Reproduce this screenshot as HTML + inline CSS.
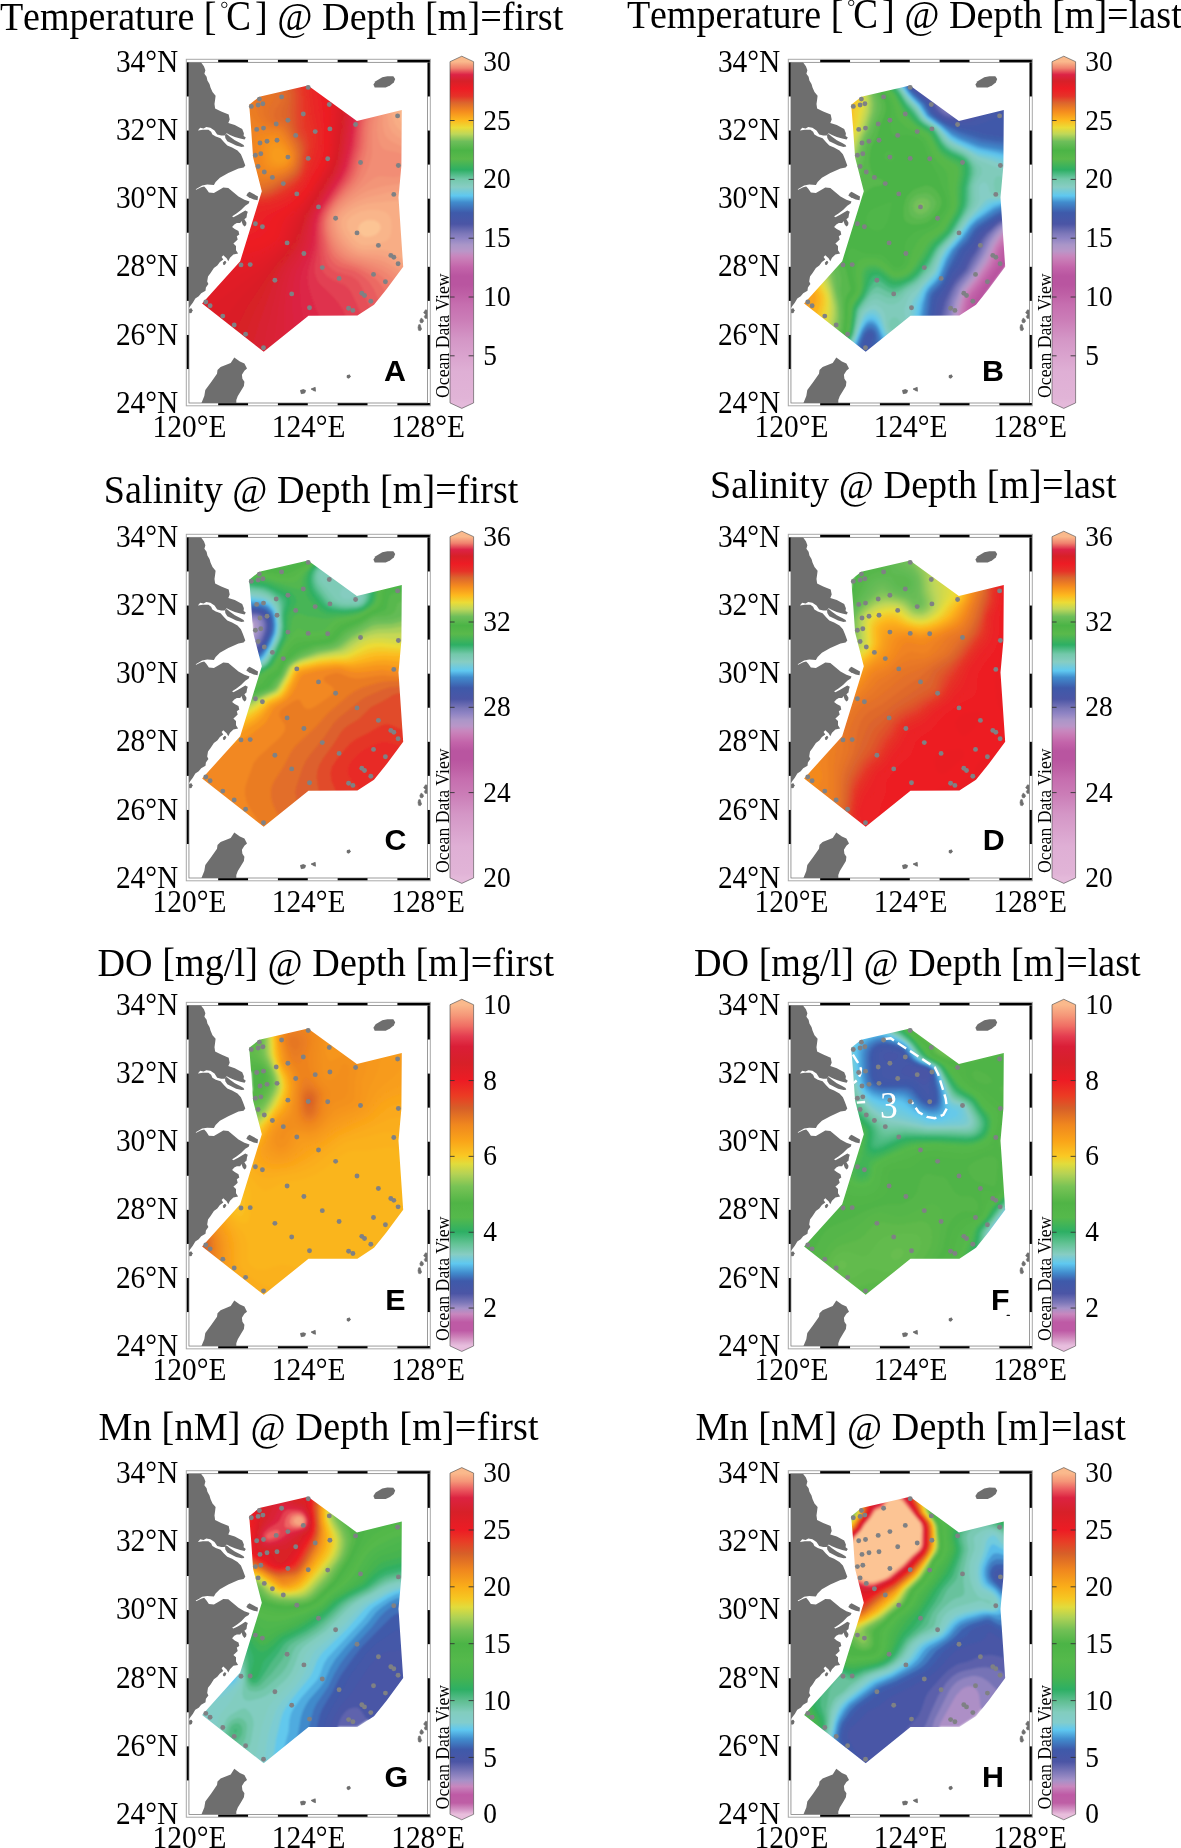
<!DOCTYPE html>
<html><head><meta charset="utf-8"><title>Figure</title>
<style>html,body{margin:0;padding:0;background:#fff}svg{display:block;will-change:transform}text{white-space:pre}</style></head><body>
<svg width="1181" height="1848" viewBox="0 0 1181 1848">
<defs>
<clipPath id="mapclip"><rect x="188.95" y="62.3" width="238.60" height="340.70"/></clipPath>
<clipPath id="polyclip"><polygon points="249.2,104.8 259.3,96.7 308,85.4 356.9,121 401.8,110 401.4,165.5 398.5,197.6 403.2,266.7 386.5,289.3 374,304.8 357.4,315.6 308.5,315.7 263.7,351.8 202.1,303.5 240.2,261.2 261.8,191.3 253.1,157.6 251,127.1"/></clipPath>
<filter id="soft" x="-5%" y="-5%" width="110%" height="110%"><feGaussianBlur stdDeviation="0.9"/></filter>
<linearGradient id="glin" gradientUnits="userSpaceOnUse" x1="0" y1="402.9" x2="0" y2="61.7">
<stop offset="0.0000" stop-color="#e4b9da"/>
<stop offset="0.0130" stop-color="#e1b4d7"/>
<stop offset="0.0920" stop-color="#dfafd5"/>
<stop offset="0.1870" stop-color="#d496c6"/>
<stop offset="0.2440" stop-color="#cb7db7"/>
<stop offset="0.2890" stop-color="#c66eaf"/>
<stop offset="0.3200" stop-color="#be5fa5"/>
<stop offset="0.3460" stop-color="#b955a0"/>
<stop offset="0.3720" stop-color="#b955a0"/>
<stop offset="0.3970" stop-color="#c364aa"/>
<stop offset="0.4160" stop-color="#c878b4"/>
<stop offset="0.4310" stop-color="#c887be"/>
<stop offset="0.4450" stop-color="#b996c8"/>
<stop offset="0.4630" stop-color="#aa96c8"/>
<stop offset="0.4840" stop-color="#8c82c3"/>
<stop offset="0.4960" stop-color="#7d78b9"/>
<stop offset="0.5240" stop-color="#4b55a5"/>
<stop offset="0.5570" stop-color="#3e5aaa"/>
<stop offset="0.5880" stop-color="#418ccd"/>
<stop offset="0.6070" stop-color="#5fc8f0"/>
<stop offset="0.6330" stop-color="#87cdc3"/>
<stop offset="0.6560" stop-color="#73c8aa"/>
<stop offset="0.6830" stop-color="#2daf64"/>
<stop offset="0.7150" stop-color="#5ab94b"/>
<stop offset="0.7400" stop-color="#4bb446"/>
<stop offset="0.7660" stop-color="#6ebe5a"/>
<stop offset="0.7880" stop-color="#bed75a"/>
<stop offset="0.8070" stop-color="#ebdc37"/>
<stop offset="0.8280" stop-color="#fdb91e"/>
<stop offset="0.8540" stop-color="#f58c1e"/>
<stop offset="0.8800" stop-color="#dc642d"/>
<stop offset="0.8990" stop-color="#e63228"/>
<stop offset="0.9210" stop-color="#ed1c24"/>
<stop offset="0.9430" stop-color="#d72028"/>
<stop offset="0.9620" stop-color="#dc2346"/>
<stop offset="0.9810" stop-color="#f0826e"/>
<stop offset="1.0000" stop-color="#fab98c"/>
</linearGradient>
<linearGradient id="gdo" gradientUnits="userSpaceOnUse" x1="0" y1="402.9" x2="0" y2="61.7">
<stop offset="0.0000" stop-color="#e8bede"/>
<stop offset="0.0060" stop-color="#e1b4d7"/>
<stop offset="0.0271" stop-color="#cd82b9"/>
<stop offset="0.0452" stop-color="#be5aa5"/>
<stop offset="0.0694" stop-color="#be5aa5"/>
<stop offset="0.0935" stop-color="#c887be"/>
<stop offset="0.1104" stop-color="#a591c8"/>
<stop offset="0.1267" stop-color="#7d78b9"/>
<stop offset="0.1538" stop-color="#4b55a5"/>
<stop offset="0.1900" stop-color="#3e5aaa"/>
<stop offset="0.2141" stop-color="#418ccd"/>
<stop offset="0.2413" stop-color="#5fc8f0"/>
<stop offset="0.2684" stop-color="#87cdc3"/>
<stop offset="0.2986" stop-color="#64c396"/>
<stop offset="0.3347" stop-color="#2daf64"/>
<stop offset="0.3770" stop-color="#55b94b"/>
<stop offset="0.4192" stop-color="#50b446"/>
<stop offset="0.4674" stop-color="#78c355"/>
<stop offset="0.5036" stop-color="#b4d255"/>
<stop offset="0.5338" stop-color="#e1dc3c"/>
<stop offset="0.5567" stop-color="#fac823"/>
<stop offset="0.6001" stop-color="#faa519"/>
<stop offset="0.6484" stop-color="#f0871e"/>
<stop offset="0.6966" stop-color="#d75f28"/>
<stop offset="0.7328" stop-color="#eb3c23"/>
<stop offset="0.7780" stop-color="#ed1c24"/>
<stop offset="0.8293" stop-color="#d72028"/>
<stop offset="0.8776" stop-color="#da1e37"/>
<stop offset="0.9077" stop-color="#e43c50"/>
<stop offset="0.9379" stop-color="#f06e64"/>
<stop offset="0.9680" stop-color="#f59678"/>
<stop offset="1.0000" stop-color="#fab98c"/>
</linearGradient>
<linearGradient id="gmn" gradientUnits="userSpaceOnUse" x1="0" y1="402.9" x2="0" y2="61.7">
<stop offset="0.0000" stop-color="#e8bedc"/>
<stop offset="0.0151" stop-color="#d291c3"/>
<stop offset="0.0332" stop-color="#be5fa5"/>
<stop offset="0.0574" stop-color="#be5aa5"/>
<stop offset="0.0816" stop-color="#c887be"/>
<stop offset="0.0997" stop-color="#a591c8"/>
<stop offset="0.1239" stop-color="#7d78b9"/>
<stop offset="0.1541" stop-color="#4b55a5"/>
<stop offset="0.1903" stop-color="#3e5aaa"/>
<stop offset="0.2205" stop-color="#418ccd"/>
<stop offset="0.2477" stop-color="#5fc8f0"/>
<stop offset="0.2689" stop-color="#82cdcd"/>
<stop offset="0.2991" stop-color="#82cdbe"/>
<stop offset="0.3323" stop-color="#5fbe91"/>
<stop offset="0.3656" stop-color="#2daf64"/>
<stop offset="0.4018" stop-color="#46b450"/>
<stop offset="0.4502" stop-color="#55b94b"/>
<stop offset="0.4997" stop-color="#4bb446"/>
<stop offset="0.5408" stop-color="#73c055"/>
<stop offset="0.5770" stop-color="#afd255"/>
<stop offset="0.6073" stop-color="#e1dc3c"/>
<stop offset="0.6314" stop-color="#f5c823"/>
<stop offset="0.6647" stop-color="#faaf19"/>
<stop offset="0.7160" stop-color="#f0871e"/>
<stop offset="0.7644" stop-color="#d75f28"/>
<stop offset="0.8006" stop-color="#e83c26"/>
<stop offset="0.8326" stop-color="#ed1c24"/>
<stop offset="0.8852" stop-color="#d72028"/>
<stop offset="0.9275" stop-color="#dc2341"/>
<stop offset="0.9517" stop-color="#eb5a5f"/>
<stop offset="0.9758" stop-color="#f59678"/>
<stop offset="1.0000" stop-color="#fab98c"/>
</linearGradient>
<g id="land" fill="#6e6e6e" clip-path="url(#mapclip)">
<polygon points="186,60 200.8,60 200.8,62.1 203.9,66.2 205.4,70.2 204.4,73.8 206.6,76.8 207.4,80.4 209.5,84 210.5,87.5 212.5,92.1 215.6,95.7 215.1,99.7 214.5,104.1 215.1,108.5 221.2,111.5 228.7,114.6 229.7,119.6 228.3,123 234.8,125.1 242.2,129.1 243.9,133.2 243.6,135.9 245.8,137.6 244.6,139.6 240.2,138.6 234.8,136.9 230,134.9 226.7,133.2 224.6,135.6 221.2,135.6 217.2,134.6 214.5,130.5 210.4,127.8 206.3,127.1 203.6,128.5 200.2,127.8 197.9,130.5 202.9,129.8 208.4,129.8 211.1,131.8 212.4,134.6 215.8,136.6 220.6,138.3 223.9,142 227.3,145.4 232.1,147.4 237.5,150.5 240.9,154.2 242.9,158.9 245.3,165.4 243.6,167.6 238.5,168.5 228.3,173.1 219.9,177.8 215.6,182 213.9,185 207.2,184.6 202.1,185.4 198.7,187.5 195.7,189.2 196.2,189.8 201.2,187.3 204.2,186.4 206.3,188.8 208.9,192.6 213.9,193 218.2,190.5 223.3,187.5 228.3,187.9 233.4,192.2 238.5,196.4 244.4,199.8 249.5,201.5 248.7,203.6 245.3,205.7 241,210 236.8,213.3 233.4,215.5 232.1,216.3 233.4,217.2 237.7,215 241.9,212.5 245.3,210.4 247.8,211.7 247,214.2 246.5,217.6 244.4,219.3 246.5,222.7 246.1,225.2 244.4,226.5 242.7,224.4 241.5,221 240.2,223.1 236.8,223.1 234.3,224.4 232.1,226.9 234.7,229 238.5,231.1 239.3,234.5 236.8,236.2 237.7,239.6 235.1,242.1 233.4,243.5 236,245.9 236,250.2 238.1,253.5 233.4,254.4 230,257.8 228.3,261.2 226.6,258.2 223.3,255.2 221.6,256.9 223.3,259.5 219.9,262 217.3,265.4 213.9,267.9 210.6,273 208,276.4 207.2,281.5 208.4,284 205.9,287.4 205.5,290.8 201.2,293.3 198.7,296.3 195.3,298.4 192.8,302.7 189,307.7 186,310"/>
<polygon points="225,134.8 226.7,134 230,136.8 234.8,140.2 240.2,142.9 243.6,144.9 244.3,146.6 241.6,146.9 236.1,145.6 232.1,143.6 227.3,141.2 225.3,138.1"/>
<polygon points="249.5,191.8 258,196.4 257.5,200.2 253.7,199.4 248.7,197.3 246.3,195.6 247.8,193"/>
<polygon points="223.3,262.5 225,261 225.9,262.3 224.8,264.6 223.5,264.4"/>
<polygon points="189.3,309.5 191.2,308.6 192.2,310.3 191.4,312.6 189.6,312.9"/>
<polygon points="200.2,406 204.3,396.1 205.3,390 211.4,381.8 217,373.7 217.5,370.1 220.6,367.1 230.7,363 234.3,357.4 239.9,361.5 244.4,363.5 246,366.6 247,368.6 244.4,370.7 241.9,374.7 242.4,378.8 244.4,381.8 243.9,385.9 240.9,391 237.8,396.1 236.3,400.1 236.3,406"/>
<polygon points="373.4,84.6 375.6,81.2 382.3,77.2 387.4,76.2 393.3,76.3 395.2,79.1 393.8,82.5 390,85.5 385.7,87.6 374.7,87.6"/>
<polygon points="300.5,390.3 303.5,389.6 305.6,390.4 304.8,393 301.2,393.7"/>
<polygon points="311,389 315.2,387.3 315.5,391.3 313.5,390.6"/>
<polygon points="347,375.6 349.5,374.8 350.5,376.8 348.8,378.3 347,377.6"/>
<polygon points="425.5,309.8 428.5,310.5 428.5,318.6 425,318.3 424.3,316.5 425.6,314.5 423.6,312.8" stroke="#6e6e6e" stroke-width="0.6"/>
<polygon points="421.2,318 423,319.5 423.6,321.3 422.2,322.9 420.3,322.5 419.8,320.5" stroke="#6e6e6e" stroke-width="0.6"/>
<polygon points="418.6,324.8 420.2,324.6 421,327.5 421.7,329 420.3,330.8 418.5,330.3 418,327.5" stroke="#6e6e6e" stroke-width="0.6"/>
<polygon points="300.5,390.3 303.5,389.6 305.6,390.4 304.8,393 301.2,393.7" stroke="#6e6e6e" stroke-width="0.6"/>
<polygon points="311,389 315.2,387.3 315.5,391.3 313.5,390.6" stroke="#6e6e6e" stroke-width="0.6"/>
<polygon points="347,375.6 349.5,374.8 350.5,376.8 348.8,378.3 347,377.6" stroke="#6e6e6e" stroke-width="0.6"/>
<polygon points="223.3,262.5 225,261 225.9,262.3 224.8,264.6 223.5,264.4" stroke="#6e6e6e" stroke-width="0.6"/>
<polygon points="189.3,309.5 191.2,308.6 192.2,310.3 191.4,312.6 189.6,312.9" stroke="#6e6e6e" stroke-width="0.6"/>
</g>
<g id="dots" fill="#7f8184"><circle cx="308.2" cy="87.4" r="2.45"/><circle cx="281.6" cy="96.9" r="2.45"/><circle cx="259.4" cy="99.1" r="2.45"/><circle cx="262.9" cy="103.7" r="2.45"/><circle cx="258.1" cy="105.0" r="2.45"/><circle cx="251.3" cy="106.4" r="2.45"/><circle cx="329.3" cy="104.5" r="2.45"/><circle cx="397.6" cy="115.9" r="2.45"/><circle cx="303.3" cy="114.0" r="2.45"/><circle cx="287.9" cy="120.2" r="2.45"/><circle cx="276.2" cy="124.0" r="2.45"/><circle cx="355.6" cy="124.5" r="2.45"/><circle cx="263.5" cy="128.1" r="2.45"/><circle cx="256.7" cy="129.4" r="2.45"/><circle cx="329.9" cy="128.9" r="2.45"/><circle cx="315.2" cy="131.6" r="2.45"/><circle cx="295.7" cy="135.4" r="2.45"/><circle cx="277.0" cy="140.3" r="2.45"/><circle cx="267.0" cy="141.3" r="2.45"/><circle cx="260.0" cy="143.0" r="2.45"/><circle cx="287.9" cy="157.1" r="2.45"/><circle cx="308.2" cy="158.4" r="2.45"/><circle cx="327.7" cy="158.7" r="2.45"/><circle cx="260.8" cy="153.8" r="2.45"/><circle cx="255.4" cy="155.2" r="2.45"/><circle cx="360.5" cy="162.5" r="2.45"/><circle cx="398.4" cy="165.5" r="2.45"/><circle cx="258.1" cy="166.5" r="2.45"/><circle cx="264.3" cy="172.0" r="2.45"/><circle cx="272.4" cy="177.4" r="2.45"/><circle cx="283.3" cy="183.6" r="2.45"/><circle cx="296.8" cy="193.9" r="2.45"/><circle cx="393.8" cy="194.4" r="2.45"/><circle cx="318.5" cy="206.9" r="2.45"/><circle cx="335.6" cy="218.3" r="2.45"/><circle cx="255.4" cy="223.7" r="2.45"/><circle cx="262.4" cy="226.7" r="2.45"/><circle cx="357.0" cy="232.9" r="2.45"/><circle cx="287.1" cy="242.9" r="2.45"/><circle cx="378.4" cy="245.4" r="2.45"/><circle cx="303.9" cy="253.5" r="2.45"/><circle cx="390.8" cy="255.4" r="2.45"/><circle cx="393.8" cy="257.3" r="2.45"/><circle cx="398.1" cy="263.8" r="2.45"/><circle cx="241.0" cy="264.9" r="2.45"/><circle cx="250.2" cy="264.6" r="2.45"/><circle cx="322.3" cy="267.6" r="2.45"/><circle cx="373.5" cy="274.4" r="2.45"/><circle cx="339.1" cy="278.4" r="2.45"/><circle cx="274.9" cy="280.3" r="2.45"/><circle cx="385.4" cy="281.7" r="2.45"/><circle cx="291.7" cy="293.9" r="2.45"/><circle cx="361.8" cy="293.3" r="2.45"/><circle cx="364.5" cy="295.5" r="2.45"/><circle cx="370.8" cy="301.2" r="2.45"/><circle cx="205.8" cy="302.0" r="2.45"/><circle cx="210.1" cy="305.8" r="2.45"/><circle cx="309.5" cy="307.7" r="2.45"/><circle cx="348.6" cy="308.2" r="2.45"/><circle cx="352.9" cy="310.4" r="2.45"/><circle cx="222.8" cy="316.1" r="2.45"/><circle cx="234.2" cy="325.0" r="2.45"/><circle cx="245.6" cy="334.3" r="2.45"/><circle cx="263.5" cy="347.8" r="2.45"/></g>
<g id="frame">
<path d="M186.3,59.3H430.3V405.8H186.3ZM188.95,62.3V403.0H427.55V62.3Z" fill="#fff" fill-rule="evenodd"/>
<rect x="218.17" y="59.50" width="29.87" height="2.80" fill="#000"/>
<rect x="218.17" y="403.00" width="29.87" height="2.60" fill="#000"/>
<rect x="277.91" y="59.50" width="29.87" height="2.80" fill="#000"/>
<rect x="277.91" y="403.00" width="29.87" height="2.60" fill="#000"/>
<rect x="337.65" y="59.50" width="29.87" height="2.80" fill="#000"/>
<rect x="337.65" y="403.00" width="29.87" height="2.60" fill="#000"/>
<rect x="397.39" y="59.50" width="32.91" height="2.80" fill="#000"/>
<rect x="397.39" y="403.00" width="32.91" height="2.60" fill="#000"/>
<rect x="186.50" y="62.30" width="2.45" height="34.17" fill="#000"/>
<rect x="427.55" y="62.30" width="2.55" height="34.17" fill="#000"/>
<rect x="186.50" y="130.54" width="2.45" height="34.07" fill="#000"/>
<rect x="427.55" y="130.54" width="2.55" height="34.07" fill="#000"/>
<rect x="186.50" y="198.68" width="2.45" height="34.07" fill="#000"/>
<rect x="427.55" y="198.68" width="2.55" height="34.07" fill="#000"/>
<rect x="186.50" y="266.82" width="2.45" height="34.07" fill="#000"/>
<rect x="427.55" y="266.82" width="2.55" height="34.07" fill="#000"/>
<rect x="186.50" y="334.96" width="2.45" height="34.07" fill="#000"/>
<rect x="427.55" y="334.96" width="2.55" height="34.07" fill="#000"/>
<rect x="186.3" y="59.3" width="244.00" height="346.50" fill="none" stroke="#a8a8a8" stroke-width="1.0"/>
<rect x="188.95" y="62.3" width="238.60" height="340.70" fill="none" stroke="#707070" stroke-width="0.7"/>
</g>
<g id="axis" font-family="Liberation Serif, serif" font-size="29.4" fill="#000">
<text transform="translate(178.30,71.50) scale(1,1.065)" text-anchor="end">34°N</text>
<text transform="translate(178.30,139.76) scale(1,1.065)" text-anchor="end">32°N</text>
<text transform="translate(178.30,208.02) scale(1,1.065)" text-anchor="end">30°N</text>
<text transform="translate(178.30,276.28) scale(1,1.065)" text-anchor="end">28°N</text>
<text transform="translate(178.30,344.54) scale(1,1.065)" text-anchor="end">26°N</text>
<text transform="translate(178.30,412.80) scale(1,1.065)" text-anchor="end">24°N</text>
<text transform="translate(189.45,436.80) scale(1,1.065)" text-anchor="middle">120°E</text>
<text transform="translate(308.60,436.80) scale(1,1.065)" text-anchor="middle">124°E</text>
<text transform="translate(428.10,436.80) scale(1,1.065)" text-anchor="middle">128°E</text>
<text transform="translate(449.0,398.0) rotate(-90) scale(0.985,1.04)" font-size="18">Ocean Data View</text>
</g>
</defs>
<rect width="1181" height="1848" fill="#fff"/>
<g transform="translate(0,0)">
<g clip-path="url(#polyclip)"><g filter="url(#soft)">
<path d="M249.2,104.8 L259.3,96.7 L308,85.4 L356.9,121 L401.8,110 L401.4,165.5 L398.5,197.6 L403.2,266.7 L386.5,289.3 L374,304.8 L357.4,315.6 L308.5,315.7 L263.7,351.8 L202.1,303.5 L240.2,261.2 L261.8,191.3 L253.1,157.6 L251,127.1Z" fill="#f89b1e"/>
<path d="M194,78 412,78 412,360 194,360ZM276,147.9 274,148.9 272.2,152 272,156 272.6,158 273.7,160 276,161.7 278,162.3 282,162 284.9,160 285.9,158 285,154 282,150.2 280,148.8 278,148Z" fill="#f7971e"/>
<path d="M194,78 412,78 412,360 194,360ZM272,143.8 269.7,146 268.2,150 268.2,156 270,161.3 272.8,164 276,165 280,165 284,163.7 286.2,162 287.6,160 288.1,158 288,155.9 286,151.2 282,146.5 278,143.7 274,143.1Z" fill="#f6921e"/>
<path d="M194,78 412,78 412,360 194,360ZM270,139.7 266.9,142 264.8,146 264.7,154 266.3,162 268,164.7 272,167.1 278,167.4 284,165.7 288,162.5 289.2,160 289.6,156 288,151.2 284,145.4 278,140 274,138.8Z" fill="#f58d1e"/>
<path d="M209.1,78 412,78 412,360 194,360 194,105.5 198.8,102 204,95.2 207.1,88ZM270,135.8 264,138.3 262,140.2 260.5,144 260.6,150 263.2,164 265.9,168 270,169.7 276,169.8 282,168.3 286.4,166 289.9,162 291,158 290,152 286,145 280,138 276,135.7Z" fill="#f3881f"/>
<path d="M222,78 412,78 412,360 194,360 194,121.8 200.1,120 209,116 214,112.4 217.5,108 220,102 221.2,96ZM262,133.9 258,135.4 256,137.2 254.6,140 254.4,142 254.9,146 258,156 258.9,164 260.3,168 261.8,170 264,171.5 266,172.2 270,172.6 278,171.3 286,168 290.2,164 291.9,160 292.2,158 291.9,154 290.6,150 286,142.3 282,137 278,133.5 276,132.9 272,132.7Z" fill="#f08421"/>
<path d="M233.2,78 412,78 412,360 194,360 194,134 210,132.1 222,131.6 230,132.1 236,134.3 238,135.8 242,140.3 251.2,154 252.8,158 254.3,166 256,170 258,172.6 262,175.1 266,175.6 270,175.1 278,173 284,170.7 288,168.2 290,166.2 292,163.1 293,160 293.1,154 291.1,148 284,136.6 280,132.1 276,130.6 264,129.8 250,126.9 246,125.4 241.9,122 238.9,116 236.4,106 234.9,96Z" fill="#ed8023"/>
<path d="M243,78 412,78 412,360 194,360 194,143.9 206,143.6 216,144.3 224,146 232,149.2 238,152.9 242,156.6 245.9,162 250.2,170 253.3,174 258,177.5 262,178.7 266,178.4 270,177.4 280,173.9 286,171.1 290,168 291.6,166 294.1,160 294.2,154 292.5,148 286,136.7 282,131.4 278,129.1 270,128 263.3,126 256.9,122 253.3,118 250.3,112 246.2,100Z" fill="#eb7c24"/>
<path d="M252.1,78 412,78 412,360 194,360 194,152.3 204,152.4 212,153.2 220,154.9 226,157 232,159.9 236,162.7 247.5,174 252.3,178 258,180.9 262,181.6 266,180.9 270,179.6 286.9,172 292,167.4 294,164 295.1,160 295.3,154 293.9,148 290.8,142 284,131.1 280,127.9 270.9,126 266.4,124 261.6,120 259,116 257.5,112 254.1,98Z" fill="#e87726"/>
<path d="M260.8,78 412,78 412,360 194,360 194,159.8 210,160.7 218,162.3 224,164.2 234,169.2 249.5,180 254,182.3 260,184 264,183.7 268,182.5 286.1,174 292,169.2 294.2,166 295.7,162 296.4,154 295.1,148 292.3,142 286,131.1 282,127 272,124.1 268.6,122 266.6,120 264.3,116 263.1,112 262.6,106 263.1,88Z" fill="#e57327"/>
<path d="M268.7,78 412,78 412,360 194,360 194,166.6 208,167.1 220,169.4 230,173 251.6,184 260,186.2 264,185.8 270,183.6 286,175.5 290,172.8 292.8,170 296,164.5 297.4,158 296.9,150 294.8,144 285.7,128 282,124.8 273.3,122 271.1,120 269,116 268.5,112 269.2,108 270.9,104 274.5,98 275.1,94 274,90Z" fill="#e36f29"/>
<path d="M275,78 412,78 412,360 194,360 194,172.8 208,173.1 220,175 232,178.7 250.3,186 260,188.1 266,187.2 272,184.4 288,175.7 292,172.6 294,170.4 296.5,166 298.2,160 298.4,152 297,146 286,125.4 282,122.2 276.4,120 274.7,118 274,116 274,113.8 275.2,110 280.5,102 282,98.5 282.3,96 280.7,90Z" fill="#e06a2b"/>
<path d="M279.8,78 412,78 412,360 194,360 194,178.5 206,178.4 218,179.5 228,181.6 252,188.6 258,189.8 262,189.9 266,188.9 272,186.2 288,177.2 294,172.2 296.8,168 298.8,162 299.5,156 299.3,150 297.6,144 288,124.7 281.2,116 281.2,112 285.2,102 286.1,96 284.8,90Z" fill="#dd662c"/>
<path d="M283.7,78 412,78 412,360 194,360 194,184 208,183.5 220,184.3 254,190.9 262,191.4 266,190.6 272,187.9 289.1,178 294,174 297,170 299.4,164 300.6,156 300.5,150 299.1,144 292.9,132 286.8,116 286.4,112 288.5,102 288.9,96 287.9,90Z" fill="#dd602d"/>
<path d="M287,78 412,78 412,360 194,360 194,189.3 206,188.3 218,188.3 230,189.3 256,192.8 264,192.6 270,190.6 274.9,188 290,179 295.6,174 298.2,170 300.4,164 301.6,156 301.7,150 301.1,146 299.8,142 293.7,130 290.6,118 290,112 291.5,96 290.1,88Z" fill="#de592c"/>
<path d="M290,78 412,78 412,360 194,360 194,194.4 208,192.8 220,192.3 258,194.4 264,194.1 270,192.2 274.4,190 290,180.6 296,175.5 298.5,172 301,166 302.5,158 303,150 302.6,146 301.4,142 296.1,132 294.1,124 293,114 293.8,96 293,90Z" fill="#e0522b"/>
<path d="M292.7,78 412,78 412,360 194,360 194,199.4 208,197.3 220,196.1 236,195.6 260,195.7 266,195 272,192.9 278,189.6 292,180.9 297.2,176 300,171.7 302.1,166 304,154 304.3,148 303.2,142 298,132 296.5,126 295.6,114 296.1,96Z" fill="#e14a2a"/>
<path d="M295.3,78 412,78 412,360 194,360 194,204.4 210,201.4 224,199.5 244,197.7 262,197 268,195.9 276,192.5 290,184 294,181.2 298,177.1 301.2,172 303.3,166 305.8,148 305.5,144 304.4,140 300.3,132 299.1,128 298.3,118 298.3,96Z" fill="#e3432a"/>
<path d="M297.8,78 412,78 412,360 194,360 194,209.4 212,205.4 230.3,202 248,199.3 264,198.1 270,196.7 278,193.2 290,185.9 295.2,182 298.9,178 302,173.2 304,168 307.1,152 307.5,146 306.6,140 302.3,130 301.4,126 300.8,116 300.7,98Z" fill="#e43c29"/>
<path d="M300.2,78 412,78 412,360 194,360 194,214.5 244.6,202 254,200.3 266,199.2 272,197.6 279.8,194 292,186.5 296,183.3 300,178.8 303,174 305.3,168 309,150 309.4,146 308.5,138 304.9,128 304.1,124 303,98Z" fill="#e63428"/>
<path d="M302.6,78 412,78 412,360 194,360 194,219.7 248,203.4 256,201.6 268,200.3 274,198.5 282,194.7 290,189.9 296,185.4 300,181.1 303.4,176 306.1,170 310.9,150 311.5,144 311,136 307.9,126 306.7,120 305.5,100Z" fill="#e73028"/>
<path d="M305,78 412,78 412,360 194,360 194,225.1 226,214.5 252,204.4 258,203 268,201.9 276,199.4 284,195.6 292,190.7 296,187.5 301.1,182 305,176 307.6,170 310,159.5 313,150 313.9,142 313.6,134 310.3,122 309.2,116 308,100Z" fill="#e82d27"/>
<path d="M307.5,78 412,78 412,360 194,360 194,230.6 230,217.5 253.7,206 258,204.8 270,203.2 280,199.6 288,195.4 294,191.5 298,187.9 302,183.2 306,177 309.1,170 314.8,152 316.2,142 316.1,132 312.2,116Z" fill="#e82a27"/>
<path d="M310,78 412,78 412,360 194,360 194,236.3 232,221.7 240,217.5 255,208 260,206.5 272,204.5 282,200.7 294,193.7 298,190.2 303.2,184 309.1,174 316.2,156 317.5,150 318.3,142 318.4,132 314.7,114Z" fill="#e92826"/>
<path d="M312.5,78 412,78 412,360 194,360 194,242.2 230,228.2 238,224.6 244,220.9 254.1,212 257.4,210 272,206.7 286,200.9 296,194.4 304,185.4 309.7,176 318.2,158 319.2,154 320,147 320.6,136 320.3,130 313.3,86Z" fill="#ea2526"/>
<path d="M315.2,78 412,78 412,360 194,360 194,248.4 212,240.7 238,231.3 246,227.7 250.9,224 256.5,216 258.6,214 262.3,212 272,209.3 278,206.9 290,201 298,194.9 305.4,186 310,178.5 319.8,160 321,156 321.6,152 322.4,138 322.3,130Z" fill="#eb2225"/>
<path d="M317.8,78 412,78 412,360 194,360 194,254.8 218,244.3 230,240.2 250,234.4 255.2,232 259.2,228 262.6,220 266,216.1 286,205.8 292,202.1 300,195.2 306,187.7 320.8,162 322.5,158 323.2,154 324.2,138 324,128.5 321.8,104Z" fill="#ec1f25"/>
<path d="M320.6,78 412,78 412,360 194,360 194,261.6 209.3,254 220,249.5 234,245 254,240.1 259.5,238 262.9,236 266.9,232 270.8,222 273.3,218 277.8,214 290,206 296,201.4 302,195.3 307.5,188 322.7,162 324.2,158 324.9,154 326,134 324.8,108Z" fill="#ed1d24"/>
<path d="M323.3,78 412,78 412,360 194,360 194,268.9 210,260.2 222,254.9 234,250.8 256,245.5 262,243.3 268.1,240 272,236.8 274,234 276.9,224 280,218 283.7,214 298,202 303.4,196 308,189.9 324,162.9 325.8,158 326.5,154 327.6,136 327.2,108Z" fill="#eb1c24"/>
<path d="M325.9,78 412,78 412,360 194,360 194,276.9 208.6,268 222,261.3 235.9,256 258,250.2 266,246.5 274,241.3 276,239.4 278.4,236 281.9,224 285,218 300,202.4 306,195.1 312.2,186 325,164 327.2,158 328.7,148 329.6,112 329.2,102Z" fill="#e81d25"/>
<path d="M328.6,78 412,78 412,360 194,360 194,285.9 208,276.1 222,268.3 236,261.9 254,256.6 260,254.3 268,249.9 276.2,244 281.1,238 285.9,224 289,218 304,200.1 310,192 326,165.2 328.7,158 330,150 331.7,114 331.5,102Z" fill="#e51d25"/>
<path d="M331.2,78 412,78 412,360 194,360 194,297.1 204,288 215.5,280 237.5,268 260,259.3 270,252.8 278.3,246 281.9,242 284.3,238 289.3,224 292.4,218 311.7,192 327.2,166 330.1,158 331.5,150 333.7,114 333.8,102Z" fill="#e21e26"/>
<path d="M333.8,78 412,78 412,360 194,360 194,315.4 202,302.2 207.5,296 214,290.9 241.2,274 256,266.8 262,263.2 270,257 280.1,248 283.6,244 286.1,240 292.3,224 295.4,218 314,191.1 328,167.4 330.9,160 332.7,152 335.5,118 335.9,102Z" fill="#e01e26"/>
<path d="M336.4,78 412,78 412,360 194,360 194,355 196,350.9 207.3,318 212,308 215.2,304 219.8,300 264,267 284,247.5 288.9,240 295.1,224 299.1,216 316,190.5 329.2,168 332.4,160 334.1,152 337.2,120 337.9,102Z" fill="#dd1f27"/>
<path d="M338.9,78 412,78 412,360 207.8,360 210.4,352 216,338.7 231,310 237,302 245.7,292 266,270.8 284,251.2 288,246.2 292,239 297.6,224 302.5,214 317.9,190 330.7,168 333.8,160 335.6,152 339.1,120 340,102Z" fill="#da1f27"/>
<path d="M341.5,78 412,78 412,360 222.3,360 227.1,348 236,330.3 243.1,314 247.3,306 267.1,276 276.1,264 286.6,252 291,246 295,238 300.7,222 304.5,214 329.1,174 333.1,166 335.7,158 337.4,150 341,120 342,102Z" fill="#d72028"/>
<path d="M344,78 412,78 412,360 236,360 252.6,316 267.8,284 278.4,266 289.8,252 293.9,246 297.6,238 302.9,222 307.4,212 330,175.2 334.7,166 336.7,160 338.9,150 342.6,122 344,102Z" fill="#d8202c"/>
<path d="M346.5,78 412,78 412,360 248.5,360 258.1,326 271.5,288 275.6,278 282,266 293,252 296.7,246 300.1,238 305.7,220 309.1,212 332.3,174 336.9,164 340.7,148 344.4,122 346.1,100Z" fill="#d82130"/>
<path d="M349,78 412,78 412,360 260.4,360 267.1,326 276.2,290 280.8,276 285.7,266 294.9,254 298.6,248 302,240 306.9,222 310.9,212 334,174 336.9,168 339.1,162 342.3,148 345.9,124 348.1,100Z" fill="#d92135"/>
<path d="M351.5,78 412,78 412,360 272.1,360 278.9,304 281.8,288 285.1,276 288.6,268 298.3,254 302.6,246 305.2,238 308.9,222 312.6,212 335.7,174 338.5,168 340.6,162 344.3,146 347.6,124 350.3,98Z" fill="#da2239"/>
<path d="M354,78 412,78 412,360 284.2,360 285.2,306 286.5,292 288.7,280 292,270 301.8,254 305.5,246 307.8,238 310.7,222 314.2,212 318.7,204 336.3,176 339.4,170 341.6,164 345.6,148 348.7,128 352.4,98Z" fill="#db223e"/>
<path d="M356.6,78 412,78 412,360 297.2,360 296.4,344 292.3,308 292.5,292 294.4,278 297,270 305.4,254 308.5,246 310,240 312.1,224 315,214 320,204.6 338.1,176 341.1,170 343.3,164 346.9,150 348.7,140 354.6,98Z" fill="#db2342"/>
<path d="M359.1,78 412,78 412,360 311.8,360 311.1,350 309.4,340 301.5,312 300.4,302 299.7,288 300,280 301.1,274 303,268 308.2,256 311,248 312.6,240 314,224 316.7,214 322,204.1 340,176 342.9,170 345.1,164 350.2,142 353.1,120 357.1,96Z" fill="#dc2547"/>
<path d="M361.8,78 412,78 412,360 328.6,360 328.1,344 325.9,332 323,324 315.4,308 310,292 307.9,284 307.3,278 307.6,272 314.1,248 315,242 315.6,226 317.1,218 321.4,208 340.9,178 344,172 346.3,166 351.8,144 354.5,122 359.1,98Z" fill="#df334d"/>
<path d="M364.5,78 412,78 412,360 345.7,360 347.2,344 347.7,332 347,322 345.6,316 342.9,310 337.6,302 332.3,296 319.8,284 317.1,280 315,274 314.5,268 317.2,248 317.4,228 318.9,218 321.1,212 324.3,206 343,178 346.1,172 348.3,166 353.4,146 356.3,122 361.5,98Z" fill="#e24152"/>
<path d="M367.3,78 412,78 412,360 361,360 362.9,342 363.2,330 361.8,318 358.6,308 352,293.7 348.2,288 344,284.8 332,279.5 326.9,276 324,272.7 322.5,270 320.8,264 319.3,230 319.5,224 320.6,218 321.9,214 324.9,208 344.1,180 347.4,174 349.8,168 355.5,146 358,123.4 363.5,100Z" fill="#e54f58"/>
<path d="M370.2,78 412,78 412,360 374.2,360 375.7,338 374.4,322 371.2,310 365.9,298 362.3,288 358.7,282 354,277.7 350,275.7 336,271.9 330.3,268 328,265.2 326.3,262 324,253.1 321.3,230 321.4,224 322.4,218 324.6,212 328,206 345.4,182 348.9,176 351.5,170 357.5,148 358.8,140 360,123.9 365.6,102Z" fill="#e85c5e"/>
<path d="M373.1,78 412,78 412,360 386.1,360 386.9,340 386.4,330 385.3,322 381.7,308 374.3,290 369.1,282 365.1,278 359.9,274 354,270.8 340,266.9 336,264.8 332.8,262 330,258 327.5,252 323.8,234 323.3,228 323.5,222 324.8,216 326.5,212 332,203 349.5,180 352.6,174 354.8,168 360.5,146 362.4,124 368.7,100Z" fill="#eb6a64"/>
<path d="M376.2,78 412,78 412,360 397,360 397.2,338 394.9,320 392.4,310 389.8,302 386,293.1 381.9,286 377,280 369.1,274 357.6,268 342,262.7 336,258.6 332.5,254 330,248.7 327.4,240 325.5,230 325.2,224 325.7,220 328.4,212 334,203.3 351.4,182 354.9,176 357.3,170 363.2,148 364.2,140 364.7,128 365.6,122 371.1,102Z" fill="#ee786a"/>
<path d="M379.4,78 412,78 412,360 407.3,360 406.9,338 404.3,320 401.7,310 398.9,302 395.3,294 390.8,286 384,278 376,272.3 361.7,266 346,260.4 339.1,256 335.6,252 332,245.3 328.9,236 327.4,228 327.4,222 328.1,218 331.6,210 338,201.5 350.5,188 355.3,182 358.8,176 361.2,170 365.3,156 367,148 368.6,124 374.6,100Z" fill="#f0846f"/>
<path d="M382.8,78 412,78 412,312 402.6,292 397.4,284 392.5,278 387.9,274 380,269.2 372.1,266 352,259.4 346,256.6 342.3,254 338,249.4 334,242.6 331.5,236 329.6,228 329.4,222 330.1,218 331.6,214 334,210 340,202.5 355,188 360.2,182 365.4,174 368.7,166 371.1,158 372,152 371.9,132 372.6,124ZM395.4,164 395.9,166 398.3,166 398.6,164 398,163.5Z" fill="#f28d74"/>
<path d="M386.3,78 412,78 412,292.5 400.2,278 396,273.9 390,269.5 384,266.3 378,263.8 354,257 350,255.2 345.1,252 340,246.6 336,240 333,232 331.7,226 331.6,222 332.3,218 334,213.9 338,208.3 348,198.5 372,179.4 376,177.2 380,176.3 394,177.2 400,176.6 405.9,174 409.3,170 410.4,166 410.1,164 408.5,160 406,156.8 402,153.9 398,152.4 388,150.6 384,149.3 382,147.6 380,144.3 378,138 377.1,130 377.6,122 380.5,104Z" fill="#f39578"/>
<path d="M390.1,78 412,78 412,152.8 404,147.6 390,140.7 386,136.6 383.9,132 382.7,124 383.4,110 385.4,98ZM412,180.2 412,280.7 399,270 386,262.3 378,259.5 358,255.4 352,252.8 348,250.1 342.1,244 338.4,238 335.8,232 334.1,224 334.3,220 335.6,216 340,209.8 348,202.5 360,194.7 368,190.8 382,186.4 402,183.4Z" fill="#f59d7d"/>
<path d="M394.1,78 412,78 412,145.2 396,135.8 392,131.9 389,126 387.6,118 387.7,108 389.8,96ZM412,189.8 412,271.6 386,257 380,255.3 364,253.7 357.5,252 350.7,248 346,243.4 342.2,238 339.2,232 337.4,226 337,222 337.9,218 338.9,216 342,212 346,208.3 356,201.8 366,197.7 394,191.3Z" fill="#f6a581"/>
<path d="M398.4,78 412,78 412,138.3 404.5,134 398,128.6 394.8,124 392.7,118 392,112 392.6,104ZM396,200.8 400,201.4 408,204 412,204.6 412,262.5 400,258 392,252.8 388,251.1 382,250 364,250 358,248.4 354.1,246 350,242.2 344.3,234 341.7,228 341,222 342.2,218 346,213.4 352,209.1 360,205.4 368,203.3Z" fill="#f8ad85"/>
<path d="M403.1,78 412,78 412,131.2 406.8,128 402,123.5 398.6,118 397.4,114 397.1,108 397.8,102ZM368.7,210 374,209.8 380,210.4 385.1,212 387.9,214 389.5,216 391,220 391.5,226 391.1,232 389.3,238 386,240.9 376,244.1 370,245.1 364,245.2 360,244.2 358,243 352.7,238 347.9,230 346.7,224 347.8,220 352,215.7 360,211.8Z" fill="#f9b58a"/>
<path d="M408.2,78 412,78 412,123.1 410,121.9 406,117.3 404.2,114 403.3,110 403.2,104 403.9,98ZM368.7,220 374,220.3 377.9,222 380,224.6 380.6,228 380.1,230 378.7,232 376,234.4 372,236.2 366,236.9 363.1,236 360.5,234 359.2,232 358.3,228 360,224.3 362,222.5 366,220.6Z" fill="#fcc494"/>
</g></g>
<use href="#land"/><use href="#dots"/><use href="#frame"/><use href="#axis"/>
<polygon points="450.0,61.7 461.8,56.2 473.6,61.7 473.6,402.9 461.8,408.4 450.0,402.9" fill="url(#glin)" stroke="#444" stroke-width="0.6" stroke-linejoin="miter"/>
<g font-family="Liberation Serif, serif" font-size="27.4" fill="#000" stroke="none">
<text transform="translate(483.20,70.80) scale(1,1.05)">30</text>
<path d="M450.0,120.5h4.6M473.6,120.5h-5" stroke="#333" stroke-width="0.9" fill="none"/>
<text transform="translate(483.20,129.63) scale(1,1.05)">25</text>
<path d="M450.0,179.4h4.6M473.6,179.4h-5" stroke="#333" stroke-width="0.9" fill="none"/>
<text transform="translate(483.20,188.46) scale(1,1.05)">20</text>
<path d="M450.0,238.2h4.6M473.6,238.2h-5" stroke="#333" stroke-width="0.9" fill="none"/>
<text transform="translate(483.20,247.28) scale(1,1.05)">15</text>
<path d="M450.0,297.0h4.6M473.6,297.0h-5" stroke="#333" stroke-width="0.9" fill="none"/>
<text transform="translate(483.20,306.11) scale(1,1.05)">10</text>
<path d="M450.0,355.8h4.6M473.6,355.8h-5" stroke="#333" stroke-width="0.9" fill="none"/>
<text transform="translate(483.20,364.94) scale(1,1.05)">5</text>
</g>
<text x="384.0" y="380.8" font-family="Liberation Sans, sans-serif" font-weight="bold" font-size="30.4">A</text>
</g>
<g transform="translate(602.0,0)">
<g clip-path="url(#polyclip)"><g filter="url(#soft)">
<path d="M249.2,104.8 L259.3,96.7 L308,85.4 L356.9,121 L401.8,110 L401.4,165.5 L398.5,197.6 L403.2,266.7 L386.5,289.3 L374,304.8 L357.4,315.6 L308.5,315.7 L263.7,351.8 L202.1,303.5 L240.2,261.2 L261.8,191.3 L253.1,157.6 L251,127.1Z" fill="#b955a0"/>
<path d="M194,78 412,78 412,252.7 409.1,256 402.9,268 383.8,294 377.2,306 374.2,316 370.2,342 366.1,360 194,360Z" fill="#b955a0"/>
<path d="M194,78 412,78 412,248.1 410,249.5 407.9,252 401.3,266 382.2,292 375.1,304 372.1,314 368.3,340 363.7,360 194,360Z" fill="#b955a0"/>
<path d="M194,78 412,78 412,244.5 409.4,246 405.8,250 398.4,266 377.9,294 373,302 370.5,310 366.1,340 361.4,360 194,360Z" fill="#bb59a2"/>
<path d="M194,78 412,78 412,241.4 408,243.7 404,248 401.6,252 398.7,260 395.7,266 371,300 368.2,310 363.5,342 359,360 194,360Z" fill="#bf5ea6"/>
<path d="M194,78 412,78 412,238.7 410,239.4 406.4,242 402,246.8 399,252 396.3,260 393.1,266 378.7,286 370.7,296 368.4,300 366.1,310 361.8,340 356.7,360 194,360Z" fill="#c364aa"/>
<path d="M194,78 412,78 412,236.3 406,239.4 400,246 397.7,250 394,260 390.7,266 378,283.9 369.7,294 367.1,298 365.7,302 364.1,310 359.7,340 354.4,360 194,360Z" fill="#c56dae"/>
<path d="M194,78 412,78 412,234.1 406,236.9 400,242.8 396,249.3 391.9,260 388.5,266 377.3,282 366,296.3 364,301.7 362.7,308 357.6,340 352,360 194,360Z" fill="#c876b3"/>
<path d="M194,78 343.1,78 346,79 350,79.4 356.1,78 412,78 412,232.1 408,233.5 404,235.9 398.4,242 394.8,248 390.8,258 387.7,264 376.7,280 367,292 364.4,296 362.8,300 361,308 358,328 355.6,340 349.7,360 194,360Z" fill="#c87fb9"/>
<path d="M194,78 333.9,78 336.2,80 340.3,82 346,83.7 350,84.1 354,83.7 359.9,82 364.3,80 367.1,78 412,78 412,230.3 408,231.6 404,233.7 401.2,236 398,239.7 394,246.1 389,258 385.7,264 374.8,280 365.1,292 362.8,296 359.3,308 356.1,328 353.5,340 347.3,360 194,360Z" fill="#c689bf"/>
<path d="M194,78 328.6,78 332,81.2 338,84.6 344,87.1 350,88.1 354,87.8 360,86.1 368.8,82 375.1,78 412,78 412,228.6 408,229.8 403.5,232 400,234.8 397.3,238 392.4,246 387.2,258 383.8,264 374.4,278 364.8,290 362.2,294 359.8,300 358.2,306 351.5,340 344.9,360 194,360Z" fill="#bd92c5"/>
<path d="M194,78 324.5,78 325.9,80 328.2,82 338,87.9 346,91.3 352,92.1 356,91.4 362,89.2 380.3,80 383.3,78 412,78 412,226.9 408,228.1 402,231.1 398.7,234 396,237.3 391.7,244 386.5,256 383.2,262 374,276 364,288.6 360.7,294 357.1,304 349.4,340 342.5,360 194,360Z" fill="#b496c8"/>
<path d="M194,78 321.3,78 322.4,80 326,83.3 340,92.1 346,95 352,95.9 356,95.3 360,93.9 378,84.7 393.8,78 412,78 412,225.4 408,226.6 402,229.3 398.6,232 395.1,236 390.1,244 385.7,254 381.3,262 372.2,276 362.6,288 360.1,292 357.4,298 355.6,304 350.4,328 346.8,342 340.1,360 194,360Z" fill="#ad96c8"/>
<path d="M194,78 318.5,78 321.1,82 326,86 344,97.8 350,99.8 354,99.6 360,97.6 380,87.2 390,83.3 402,80.8 412,80.6 412,223.8 405.6,226 400,229 393.4,236 389.5,242 384,254 379.5,262 370.5,276 362,286.4 358.5,292 354.6,302 345.3,340 342.6,348 337.6,360 194,360Z" fill="#a291c7"/>
<path d="M194,78 316.2,78 318.3,82 322.7,86 334.5,94 344,101.5 346,102.6 350,103.6 354,103.3 358.2,102 380,90.6 390,86.7 400,84.5 412,84.3 412,222.3 406,224.4 400,227.4 396.8,230 393.3,234 388,241.6 382,254.5 371.5,272 360.4,286 357.9,290 353,302 350,315.2 342.6,342 335.1,360 194,360Z" fill="#9588c5"/>
<path d="M194,78 314.2,78 316,82 319.8,86 333.9,96 344,105.4 346,106.4 350,107.2 354,106.8 360,104.7 379.8,94 390,90 400,87.9 412,88 412,220.8 406,223 400,225.9 396,229.1 391.5,234 387.1,240 380.5,254 369.7,272 357.2,288 351.9,300 348.6,314 340.4,342 332.5,360 194,360Z" fill="#8980c1"/>
<path d="M194,78 312.4,78 313.9,82 317.3,86 332,96.8 342,107.6 346,109.9 350,110.5 354,110.1 360,108.1 380,97.2 390,93.2 400,91.3 412,91.7 412,219.4 404,222.5 398,225.8 393.4,230 388.1,236 384.2,242 378.6,254 368,271.9 358,283.9 355.4,288 350.1,300 347.3,312 338.2,342 334.9,350 329.8,360 194,360Z" fill="#7d78b9"/>
<path d="M194,78 310.8,78 312.2,82 316,86.9 330.9,98 334.6,102 340,109.2 342,111 344,112.2 348,113.3 354,113.1 360,111.3 380,100.5 390,96.5 400,94.7 412,95.6 412,217.9 404,221.1 398,224.4 393.6,228 386.2,236 382.4,242 377.7,252 366.1,272 357.3,282 354.5,286 351.4,292 348.2,300 345.7,310 336.1,342 332.6,350 327.1,360 194,360Z" fill="#6d6db3"/>
<path d="M194,78 309.4,78 310.7,82 313.2,86 317.6,90 326,96 330.7,100 339.6,112 344,114.8 348,115.8 354,115.8 361.1,114 380,103.9 392,99.3 402,98.2 412,99.6 412,216.4 406,218.7 398,222.9 394,226 385.8,234 381.4,240 376.8,250 370.5,260 365.4,270 353.7,284 349.4,292 345.3,302 337.1,332 333.8,342 330.1,350 324.2,360 194,360Z" fill="#5d62ac"/>
<path d="M194,78 308,78 310,83.6 312,86.6 315.5,90 328.5,100 331.8,104 335.3,110 338,113.1 342,116.1 348.2,118 354,118.2 362,116.8 368,114.2 382,106.5 392,102.9 398,101.9 402,101.9 412,104 412,214.8 406,217.3 397.1,222 383.5,234 379.3,240 374,251 369.1,258 363.2,270 355.6,278 352.6,282 347.2,292 342.7,302 335,332 331.6,342 327.6,350 321.1,360 194,360Z" fill="#4d56a6"/>
<path d="M194,78 306.7,78 308.9,84 311.6,88 328,101.6 333.2,110 336.6,114 342,117.9 350,120.3 358,120.5 364,119.5 368,117.9 382.7,110 394,106.2 402,106 412,109.2 412,213.2 404,216.8 396,221.2 382.9,232 379.4,236 373.2,248 366.2,258 361.7,268 352,279.1 341.5,298 338.5,306 333.9,328 330.9,338 326,348.4 317.8,360 194,360Z" fill="#4856a6"/>
<path d="M194,78 305.5,78 307.7,84 310.2,88 326.4,102 331.2,110 334,113.5 340,118.4 346,121.1 350,122.3 356,123 366,122.6 370,121.3 378,116.8 384.2,114 390,111.8 396,110.4 400,110.5 404,111.6 412,116.2 412,211.6 400,217.3 394,220.9 380,232 376.9,236 371.6,246 363.8,256 359.5,266 352,274.8 344,289 338.1,298 335.9,304 332.1,326 328.6,338 325.9,344 322.4,350 314.1,360 194,360Z" fill="#4458a8"/>
<path d="M194,78 304.3,78 306.6,84 310,89.3 324.6,102 327.4,106 330,111 332.5,114 338,118.5 344,121.9 350,124.2 356,125.5 364,126.5 370,126.3 376,125.2 384,122.6 395.4,118 398,117.9 401.1,120 403.6,124 405.6,126 412,128.4 412,209.9 395.8,218 379.1,230 375.6,234 369.8,244 362,252.6 356.6,264 350,273 344,284.9 334.4,298 333,304 329.5,328 327.1,336 324.5,342 322,346.4 318,351.9 309.9,360 269.9,360 268,359.1 267.6,360 194,360Z" fill="#4159a9"/>
<path d="M194,78 303.2,78 306,84.9 309.4,90 322.8,102 325.8,106 328.9,112 330.6,114 335.5,118 342,122.3 354,127.5 372,131.6 382,134.4 398,137.1 412,136.7 412,208.2 394,217.3 378,228.1 374.3,232 368,242.1 360,250.3 354,262 348.9,270 343.4,282 340,287 333.5,294 332,296.3 330.6,302 327.7,326 325.5,334 322,342 318.1,348 314.6,352 304.3,360 281,360 274.5,354 270.7,348 269.8,344 271.5,336 270,333.1 268,332.4 266,333.1 264,335.1 260.5,344 259.9,350 260.5,360 194,360Z" fill="#3e5eac"/>
<path d="M194,78 302,78 304.5,84 308,89.8 322,103 328.8,114 336.5,120 344,124.8 356,130.7 380,138.6 396,141 412,142 412,206.4 394,215.3 376,227 373.2,230 366,240.9 357.3,250 347.5,268 342,280.7 338,286.2 332,292.1 329.5,296 328.6,300 325.4,326 323.2,334 320.5,340 316.7,346 312,351.1 308,354.1 302,357.1 296,358.8 292,359 286,357.4 280,353.9 276.3,350 274.1,346 273.6,344 273.8,336 272.3,332 270,330.1 268,329.8 266,330.4 264,332 262,335 259.9,340 257.8,348 257.5,360 194,360Z" fill="#3f6cb7"/>
<path d="M194,78 300.9,78 303.5,84 307.1,90 310,93.4 321.4,104 327.2,114 332,118 348,128.9 358,134 380,141.8 412,146.2 412,204.5 394,213.1 376,224.6 372,228.5 364,240 356,248.6 352.5,254 346,266.5 342.4,276 340.3,280 337.3,284 330,291.3 328,294.5 326.5,300 323.6,324 321.5,332 319,338 316,343 312,347.7 308,351 302,354.1 298,355.2 292,355.4 286,353.7 282,351.3 278.8,348 276.7,344 275.5,336 274,331.5 272,328.9 270,327.7 268,327.5 266,328.1 264,329.6 262,332.2 260,336.2 256.6,346 255.1,360 194,360Z" fill="#407bc1"/>
<path d="M194,78 299.7,78 301.4,82 306.1,90 310,94.7 319.9,104 326,114.2 330.3,118 350,132.3 360,137.3 378,144 412,150.1 412,202.5 394,210.8 374,223.8 370.1,228 363.3,238 354,248.3 350.2,254 346,262.2 339.5,278 336,282.7 328.8,290 326.3,294 324.3,302 321.3,324 319.7,330 317.4,336 314,341.7 310.2,346 306,349.2 302,351.2 296,352.5 292,352.4 288,351.3 284,349.1 279.6,344 276,332.4 274,328.5 272,326.4 270,325.4 268,325.2 266,325.9 264,327.3 260,333.4 255.3,346 253.1,360 194,360Z" fill="#4189cb"/>
<path d="M194,78 298.5,78 301.4,84 306,91.3 310,96 318.4,104 326,115.8 340,126 350,134.4 358,138.7 376,146 382,147.5 402,151.1 412,154 412,200.3 404,204.5 392,209.2 374,221.5 369.5,226 361.1,238 350.7,250 345,260 338,277.3 334.2,282 328,288.2 324.5,294 321.9,304 318.4,326 314.7,336 312,340.3 308.6,344 302,348.3 298,349.4 294,349.7 290,349 286,347.1 284,345.6 281.1,342 276.5,330 274,325.7 272,323.9 270,323 268,322.9 266,323.5 264,325 260,330.9 254.1,346 251.2,360 194,360Z" fill="#4da3db"/>
<path d="M194,78 297.3,78 299.2,82 305.5,92 310,97.3 318.7,106 324.9,116 338.5,126 350,136.5 356.2,140 376,148.5 400,153.7 412,157.9 412,198 404,202.5 392,206.5 374,219.3 368,225.3 359.1,238 348.7,250 344,258 336.8,276 334,279.7 326,288 323.6,292 319.7,304 315.9,326 313,334 308,341 302,345.3 298,346.6 294,346.9 290,346.1 286,344 282,339.5 277.3,328 275,324 272,321 270,320.3 268,320.2 266,320.9 264,322.5 260,328.4 253,346 249.5,360 194,360Z" fill="#5bc0eb"/>
<path d="M194,78 296.1,78 299.3,84 305.9,94 317.3,106 323.6,116 326,118.4 337,126 349.2,138 356,141.9 376,151 400,156.8 406,159.1 412,162.3 412,195.3 404,200.4 390,204.6 374,216.9 368,222.8 357.3,238 346.7,250 342.1,258 336,274.2 333.2,278 325.4,286 321.7,292 317.1,304 314.1,322 312.6,328 310,334 308,337 304,340.9 298,343.7 292,343.8 288,342.3 284,338.9 282,335.9 276,321.6 274,319.2 272,317.8 270,317.1 268,317.2 264,319.5 260,325.7 251.9,346 247.8,360 194,360Z" fill="#69c9e5"/>
<path d="M194,78 294.8,78 296.9,82 304.8,94 308,98 316,106 322.4,116 326,119.5 334,124.8 337.9,128 348,139.1 354,142.8 376,153.7 388,156.5 399.5,160 406,163.1 412,167.4 412,192 404,198.2 400,199.8 390,201.7 386,203.6 384,205.2 368,220.3 357,236 344.8,250 340.3,258 336,270.1 334.1,274 323,286 320.5,290 315.6,300 313.6,306 310.3,326 308,332 305.2,336 300,340 296,341.2 292,341 288,339.4 286,337.9 283,334 278.7,322 276,317.2 272,314 268,313.7 264,316.1 260,322.6 249.3,350 246.1,360 194,360Z" fill="#77cbd5"/>
<path d="M194,78 293.5,78 295.6,82 305.1,96 316,107.7 322,117.1 325,120 336.5,128 346.7,140 352,143.6 365.3,150 376,156.6 388.6,160 402,165.2 406.1,168 412,174.8 412,186.6 408.1,192 404,195.7 400,197.6 396,198.4 388,198.5 384,199.9 366,220.1 355.3,236 342.9,250 338.5,258 333.1,272 320.6,286 311.2,300 309.4,306 307,326 305.6,330 302.9,334 300,336.5 296,338.1 292,338.2 288,336.5 284,332 280,318.2 277.9,314 274,310.3 272,309.6 268,309.9 264,312.4 262,314.8 260,318.8 254.2,336 248,350 244.5,360 194,360Z" fill="#85cdc5"/>
<path d="M194,78 292.2,78 293,80 304,96.1 308,101 314.8,108 321.4,118 324,120.4 335.2,128 346,141.4 352,145.4 365.3,152 376,159.9 401.1,170 406,174.4 408.4,180 408,186 406.2,190 402.3,194 398,195.7 394,195.8 389.5,194 387.7,192 386,185.6 384,182.9 382,182.3 380,182.9 378,184.5 376.6,188 377.5,198 376.7,202 374.8,206 362.7,222 353.6,236 341,250 337.6,256 332.8,268 330.6,272 316,288.2 309,294 306.2,298 302.5,308 302.4,312 303.8,320 303.7,324 302.6,328 300.2,332 297.6,334 294,335.1 290,334.4 288,333.2 286,331 284.6,328 283.3,316 282.9,314 280.9,310 278,307 274,304.8 272,304.6 268,305.9 262.8,310 260,314.1 253.3,336 245.9,352 242.9,360 194,360Z" fill="#80cbbb"/>
<path d="M194,78 290.7,78 304.2,98 314,108.9 318.6,116 322,120 334,128.2 337.4,132 342.7,140 346,143.4 352,147.3 362,152 367.8,156 378,166 379.4,168 380,170 379.4,174 374,182.2 372.6,186 372.4,190 373.1,200 371.4,206 353.3,234 339.1,250 335.7,256 329.4,270 316,284.6 305.4,292 300,298.8 296,302.5 292,304.2 288,304.6 284,303.4 277.8,300 274,298.9 270,300 264,305.4 260,310 258.9,312 252.4,336 243.6,354 241.2,360 194,360ZM394,176.9 396,176.1 398,176.3 400,177.1 402.8,180 404,183.6 403.9,186 402.1,190 399.9,192 396,192.7 394,191.9 392.5,190 391.8,184 392.3,180ZM289.8,318 292,317.2 294,317.5 296,318.5 298.4,322 298.5,326 297.7,328 296.1,330 294,331 292,331.2 290,330.6 287.6,328 287.1,326 287.4,322 288,320.1Z" fill="#78c9b1"/>
<path d="M194,78 289.2,78 304,99.6 313.3,110 320,119.6 324,122.9 332,127.8 334,129.5 342,141.4 346,145.4 350,148.1 362,153.8 366,156.7 372,164 373.3,166 374.6,170 374.1,174 369.8,186 369.9,200 369.2,204 367.6,208 351.6,234 340.2,246 337.1,250 328,268 319.4,278 314,283.3 303.4,290 298,294.9 294,297.5 292,298.1 288,298.1 284,296.9 278,293.9 274,293.1 270,294.8 268,296.8 257.9,310 256.5,314 252,334.7 241.1,356 239.5,360 194,360Z" fill="#6cc5a3"/>
<path d="M194,78 287.6,78 288.6,80 297.9,92 304,101.5 312,110.6 318.8,120 322,122.8 330,127.6 333,130 340.7,142 346,147.5 350,150 360,154.6 364.9,158 368.2,162 370.9,168 370.9,174 367.4,186 367.1,200 365.9,206 363.2,212 351.2,232 348.1,236 336.5,248 333.9,252 328,263.9 325.2,268 316.6,278 312,282 296,291.7 292,293.1 290,293.2 286,292.1 278,287.5 276,286.9 274,287.1 270,290 258,306.7 256.1,310 251.3,334 249.6,338 239.5,356 237.8,360 194,360Z" fill="#54bd8b"/>
<path d="M194,78 285.9,78 288.4,82 296.6,92 304,103.7 311.2,112 317.1,120 321.6,124 332,130.6 334.5,134 340,143.7 344,148.1 350,152 360,156.6 364,159.6 367,164 368.3,168 368.1,174 364.9,188 364.6,200 363.5,206 360,214 349.3,232 335.8,246 333,250 327.8,260 324,265.9 315.7,276 310,280.8 298,287.1 292,288.7 290,288.5 286,287 278,281 276,280.1 274,280.2 272,281.5 268,287.3 262.2,298 255.5,308 254.1,312 252.2,326 250.4,334 248,339.2 239,354 236,360 194,360Z" fill="#3db574"/>
<path d="M194,78 284.1,78 286.6,82 296,93.1 304,106 315.2,120 320,124.4 329.3,130 331.5,132 338.3,144 344,150.4 348,153.1 358,157.6 362,160.2 364.7,164 365.8,168 365.6,174 362.6,188 362.2,200 361.2,206 357.9,214 348,231.1 344,235.7 334,245.3 322.7,264 314,274.8 308,279.7 298,284.3 292,285.1 290,284.7 286,282.8 278,276 276,275.2 272,275.4 270,276.8 268,279.8 261.4,296 253.9,308 252.8,312 250.5,330 248.6,336 236.1,356 234.1,360 194,360Z" fill="#31b062"/>
<path d="M194,78 282.2,78 284.7,82 294,92.5 302,106 313.1,120 318,124.7 329.5,132 332,135.3 337.5,146 340.7,150 346,154.3 358,159.9 360,161.3 362.2,164 363.3,168 362.9,174 360.1,188 359.8,200 359,206 355.8,214 346.6,230 343.2,234 332.4,244 329.5,248 324,258.1 315.3,270 311.9,274 306,278.5 298,281.7 292,282.1 288,280.6 280,274 276,271.8 272,271.4 270,271.8 267,274 265.2,278 262.9,288 260.7,294 254,304.6 252.4,308 251.5,312 249.8,328 248,335.1 246,338.9 234.2,356 232.2,360 194,360Z" fill="#3eb35b"/>
<path d="M194,78 280.2,78 282.7,82 293.4,94 302,109.4 310.5,120 316,125.2 326.9,132 329,134 336,147.2 340,152.4 346,157 356.4,162 358.7,164 360.3,168 360.1,174 357.5,188 357,204 354.6,212 344.3,230 329.4,244 322,256.7 310.9,272 306,276 302.1,278 298,279.3 294,279.6 290,278.7 288,277.6 280,271 274,268.3 268,268.6 266,269.5 264,271.6 262.5,276 261.4,286 259.9,292 258,296 252.6,304 251,308 248.8,328 247.4,334 244,340 233.7,354 230.2,360 194,360Z" fill="#4bb654"/>
<path d="M194,78 278.1,78 282,83.8 292,94.8 300,110.5 305.5,118 313.9,126 326.3,134 329.2,138 335.1,150 338,153.9 344,159 354,164.7 356,167.2 356.7,170 356.6,174 354.5,188 354.6,204 353.8,208 352.2,212 342,229.4 339.5,232 329.3,240 325.8,244 312.5,266 308,271.8 305,274 300.9,276 298,276.8 294,277.1 290,276 288,274.8 280,268 274,265.3 270,264.9 266,265.5 262,268.2 260.9,270 259.8,274 259.4,286 258.2,292 256.3,296 250.9,304 249.5,308 247.9,326 246.3,334 244,338.1 231.7,354 228.1,360 194,360Z" fill="#57b84c"/>
<path d="M194,78 275.9,78 280,84.2 290.5,96 292.7,100 297.6,112 301.2,118 304.9,122 309.6,126 322.5,134 324.9,136 327.6,140 331,148 334.4,154 340,160.1 350,167.7 351.5,170 352,172 351,188 352,204 350.4,210 339.8,228 336,231.4 326.3,238 322.5,242 309.3,266 306.2,270 300,273.7 294,274.5 290,273.3 280,264.7 274,262.1 268,261.7 264,262.4 260.8,264 258.9,266 257.9,268 257,272 257.4,286 257,290 255.6,294 250.1,302 248.4,306 245.7,332 242.6,338 229.6,354 225.8,360 194,360Z" fill="#56b84a"/>
<path d="M194,78 273.6,78 278,84.8 288.9,98 291.4,104 294.8,116 298,121.8 304,127 317.1,134 322.5,138 325.1,142 329.3,152 332,156.9 336,162.1 344,170.7 345.8,176 346.2,186 348.6,200 348.7,204 348,208 346,212 338.3,224 334.5,228 322,235 316.7,240 311,250 306.5,264 304,267.6 302,269.3 300,270.4 296,271.6 292,271.2 289.8,270 284,263.9 280,260.7 274,258.5 268,258.1 262,258.6 258,259.8 256,261.4 254.6,264 253.8,270 253.9,276 255.2,286 255.1,290 253.6,294 249,300 247.2,304 246.4,308 246,320 244.4,332 242,336.7 227.4,354 223.4,360 194,360Z" fill="#50b648"/>
<path d="M194,78 271.2,78 274,82.8 285.2,98 287.2,102 288.3,106 288.8,112 287.6,126 288.4,130 290,133.5 292,135.7 294,136.6 304,135.2 310,135.9 316,138.5 319.9,142 322,146 327.2,160 336,175.9 338.6,184 342.9,194 344.5,200 344.3,206 342.5,210 332,223.7 326,227.2 316.7,230 312.7,232 309.8,234 305.8,238 303.4,242 302.4,246 302.6,258 302,261.5 300.8,264 298,266.5 294,267.3 292,266.6 284,257.4 280,254.7 278,254.1 264,253.3 259.7,252 252,248.2 250,248.1 248,248.8 246,250.8 245.1,254 245.4,256 249.4,268 250.7,278 252.5,286 252.7,290 252,292.2 246.4,300 245.1,304 244,326 243.4,330 242,334 239.1,338 225,354 220.9,360 194,360ZM284,151.7 281.9,154 281.6,156 282.1,158 283.9,160 288,161.4 290,161.1 291.6,160 292.3,158 292.2,156 290,152 288,150.9 286,150.9ZM296,189.7 293.7,192 293.1,194 293.5,196 294,196.1 296,194.2 296.9,192 296.6,190ZM288,201.8 272,207.9 268.7,210 266.6,212 264.4,216 263.6,220 264.2,224 267.1,228 272,230.5 276,230.9 279.2,230 282,228 285.5,222 288,213.7 289.8,204 289.4,202Z" fill="#4bb446"/>
<path d="M194,78 268.8,78 281,98 282.8,102 283.7,106 283.6,110 282.7,114 278,125.6 275.2,136 269.5,146 268,152.8 267.3,160 268,167.7 270.4,174 274,177.6 280,179.8 282,182.1 281.5,184 280,185.1 272,186.7 268,188.8 264,192.1 258,199.1 254.8,204 252,209.6 245,230 239.8,242 237.9,250 238.1,256 240,261.7 244.1,270 248.3,288 248.2,290 244.5,296 243.3,300 242.8,306 243,318 242,328.4 241,332 238.6,336 222.5,354 218.3,360 194,360ZM324,185.5 328,186.2 330,187.1 334,190.5 336.7,194 338.7,198 339.5,202 338.9,206 336.9,210 330.4,218 326,221.7 322,223.2 318,224 312,224.4 308,223.9 304,221.6 302.8,220 301.5,216 301.6,208 303.3,200 306,195.1 310,190.9 314,188.6Z" fill="#58b84d"/>
<path d="M194,78 266.2,78 275.3,94 277.7,100 278.9,106 278.6,110 277.5,114 274,122.5 270.9,132 264.8,144 258.7,174 256.5,182 243.6,210 236,232 233.4,242 232.5,250 232.9,256 237.5,272 239.1,280 238.3,290 240.1,300 241.1,316 239.6,330 236.2,336 221.4,352 216.5,358 215.5,360 194,360ZM317.1,194 324,193.1 328,194.2 332,197.7 333.7,202 333.7,204 332.6,208 328,214.4 324,217.5 318,219.1 314,218.8 310,216.7 308,214 306.7,208 307.7,202 310,198.2 314,195.1Z" fill="#64bb54"/>
<path d="M194,78 263.6,78 271.3,92 273.4,98 274.5,104 274.3,110 272.7,116 267.8,130 261.9,142 258.8,154 250.9,178 236,213 231.8,226 228.9,238 227.9,248 228.4,256 233.3,278 234.9,292 237.1,300 238.3,308 238.7,316 237.6,328 236.1,332 234,335.1 216.8,354 212.6,360 194,360ZM319.5,198 324,198.6 326.3,200 327.7,202 328,206 326.2,210 324,212.3 320.6,214 318,214.3 316,214 313.1,212 311.8,210 311.2,206 312,203 314,200.2 316,198.9Z" fill="#73c05a"/>
<path d="M194,78 260.9,78 268.3,92 270.1,98 270.9,104 270.3,112 265.4,128 259.7,140 255.3,154 232.3,208 227.6,222 224.5,236 223.6,246 224.3,256 234.9,302 235.8,308 236.1,316 234.6,328 233,332 230.1,336 213.7,354 209.5,360 194,360ZM317.8,204 320.5,204 321.4,206 320,208 318,208 316.9,206Z" fill="#94ca5a"/>
<path d="M194,78 258,78 265.5,92 267.1,98 267.7,104 267.1,112 262.4,128 256.9,140 252.6,152 230,200.7 224,217.8 220.7,232 219.6,244 220.4,256 222.6,266 229,288 232.9,306 233.2,314 231.2,328 229.4,332 226.6,336 210.4,354 206.2,360 194,360Z" fill="#b5d45a"/>
<path d="M194,78 255,78 262.6,92 264.3,98 264.8,104 264,112 259.5,128 250,150 237.5,174 228,194 222.5,208 218.5,222 215.9,238 215.8,246 216.4,254 219.5,268 226,286.3 228.8,296 230.3,306 230.2,314 228.1,326 225.6,332 221.1,338 205.3,356 202.8,360 194,360Z" fill="#ced94e"/>
<path d="M194,78 251.8,78 259.5,92 260.9,96 261.8,102 261.1,110 256.5,128 247.3,148 235.1,170 226.1,188 219.5,204 215.2,218 213.2,228 212.2,236 212,244 212.5,252 213.9,260 216,268 226.1,294 227.4,302 227.2,312 225,324 222,331.2 217.1,338 201.8,356 199.3,360 194,360Z" fill="#e3db3d"/>
<path d="M194,78 248.3,78 257,94 258.2,98 258.5,102 254.9,122 253.2,128 244.5,146 231.8,168 223.5,184 216.7,200 211.7,216 209.6,226 208.5,236 208.4,246 209.2,254 210.8,262 213.2,270 223.6,294 224.7,300 224.4,308 221.6,322 218.4,330 214.4,336 195.2,360 194,360Z" fill="#f0d230"/>
<path d="M194,78 244.7,78 252.2,92 253.8,96 254.4,100 252.1,110 251.1,122 249.6,128 242,143.3 227.5,168 220,182.4 212.5,200 207.7,216 205.8,226 204.8,236 204.8,246 205.6,254 207.7,264 210.4,272 220.9,294 221.8,298 221.7,304 218.1,320 214,329.7 206.8,340 196,353.4 194,355.1Z" fill="#f8c325"/>
<path d="M194,78 240.9,78 247.8,92 249.3,98 247.5,108 246.9,122 245.3,128 239.6,140 224.3,166 215.9,182 208.5,200 203.9,216 202,226 201.1,236 201.2,246 202.3,256 204,264 206.6,272 210.1,280 217.7,294 218.7,300 218,305.1 214.2,318 210.1,328 202.2,340 196,348.1 194,349.8Z" fill="#fcb41e"/>
<path d="M194,78 236.9,78 242.3,90 244.1,98 242.6,120 240.8,128 236,138.5 220,166 211.8,182 204.5,200 199.7,218 198.1,228 197.4,238 197.7,248 199,258 200.8,266 203.4,274 206.9,282 213.4,294 214.2,296 214.5,300 209.1,318 206,326 200.3,336 196,342 194,343.8Z" fill="#f9a41e"/>
<path d="M194,78 232.8,78 238.3,92 239.3,100 238.2,118 236.1,128 231.7,138 215.6,166 206.8,184 200,202 194,225.2ZM194,255 199.3,274 206.3,292 207.2,298 205.1,312 202.3,322 198,331.5 194,336.8Z" fill="#f7951e"/>
</g></g>
<use href="#land"/><use href="#dots"/><use href="#frame"/><use href="#axis"/>
<polygon points="450.0,61.7 461.8,56.2 473.6,61.7 473.6,402.9 461.8,408.4 450.0,402.9" fill="url(#glin)" stroke="#444" stroke-width="0.6" stroke-linejoin="miter"/>
<g font-family="Liberation Serif, serif" font-size="27.4" fill="#000" stroke="none">
<text transform="translate(483.20,70.80) scale(1,1.05)">30</text>
<path d="M450.0,120.5h4.6M473.6,120.5h-5" stroke="#333" stroke-width="0.9" fill="none"/>
<text transform="translate(483.20,129.63) scale(1,1.05)">25</text>
<path d="M450.0,179.4h4.6M473.6,179.4h-5" stroke="#333" stroke-width="0.9" fill="none"/>
<text transform="translate(483.20,188.46) scale(1,1.05)">20</text>
<path d="M450.0,238.2h4.6M473.6,238.2h-5" stroke="#333" stroke-width="0.9" fill="none"/>
<text transform="translate(483.20,247.28) scale(1,1.05)">15</text>
<path d="M450.0,297.0h4.6M473.6,297.0h-5" stroke="#333" stroke-width="0.9" fill="none"/>
<text transform="translate(483.20,306.11) scale(1,1.05)">10</text>
<path d="M450.0,355.8h4.6M473.6,355.8h-5" stroke="#333" stroke-width="0.9" fill="none"/>
<text transform="translate(483.20,364.94) scale(1,1.05)">5</text>
</g>
<text x="379.9" y="380.7" font-family="Liberation Sans, sans-serif" font-weight="bold" font-size="30.4">B</text>
</g>
<g transform="translate(0,475.0)">
<g clip-path="url(#polyclip)"><g filter="url(#soft)">
<path d="M249.2,104.8 L259.3,96.7 L308,85.4 L356.9,121 L401.8,110 L401.4,165.5 L398.5,197.6 L403.2,266.7 L386.5,289.3 L374,304.8 L357.4,315.6 L308.5,315.7 L263.7,351.8 L202.1,303.5 L240.2,261.2 L261.8,191.3 L253.1,157.6 L251,127.1Z" fill="#b196c8"/>
<path d="M194,78 412,78 412,360 194,360ZM248,147.8 243.2,150 239.3,154 238.6,156 238.7,158 239.7,160 242,161.7 246,162.5 250,161.3 252,159.8 254.5,156 255.5,152 255.2,150 254,148.2 252,147.4Z" fill="#aa96c8"/>
<path d="M194,78 412,78 412,360 194,360ZM248,145.5 240,148.8 236.1,152 234.7,154 233.8,158 234.3,160 235.5,162 238,164 242,165.5 248,165.3 252,163.6 254,161.8 256,158.8 258.1,152 257.3,148 256,146.4 254,145.4 252,145.1Z" fill="#9e8ec6"/>
<path d="M194,78 412,78 412,360 194,360ZM248,143.8 240.5,146 236.6,148 233.8,150 230.6,154 229.9,156 229.9,160 232,163.7 234.9,166 240.6,168 248,167.8 252.5,166 256.5,162 258.5,158 259.7,154 260,150 259.5,148 258,145.6 255.5,144 252,143.4Z" fill="#9286c4"/>
<path d="M194,78 412,78 412,360 194,360ZM252,142 246,142.7 240,144.2 234,146.9 229.7,150 226.7,154 225.7,158 226.4,162 229.5,166 232.4,168 236,169.4 244,170.4 250,169.3 252.9,168 256,165.6 258,162.9 260.3,158 261.4,154 261.6,150 260.4,146 258.6,144 256,142.7Z" fill="#877fc0"/>
<path d="M194,78 412,78 412,360 194,360ZM244,141.6 236,143.7 231,146 225.7,150 222.9,154 221.8,158 222.4,162 224.8,166 230.4,170 238,172.2 244,172.3 248,171.7 252,170.4 255.9,168 258,165.7 260,162.4 262,157.4 263.1,152 262.8,148 260.6,144 258,142.1 254,141Z" fill="#7d78b9"/>
<path d="M194,78 412,78 412,360 194,360ZM248,139.9 240,141 232,143.2 226.4,146 221.6,150 219,154 218.3,156 218,160 219.2,164 222.3,168 226,170.7 230,172.5 234,173.6 240,174.2 246,173.8 250,172.8 254,171.1 258,168 261.6,162 263.7,156 264.4,150 263.5,146 262,143.6 258,140.8 254,139.9Z" fill="#6e6eb3"/>
<path d="M194,78 412,78 412,360 194,360ZM238,139.8 232,141.3 226,143.6 221.9,146 218,149.5 216.1,152 214.4,156 214.1,160 215.1,164 217.7,168 220,170.1 224,172.6 230,174.8 236,175.8 242,175.9 248,174.9 252,173.7 258,169.9 262,164 264,159.2 265.4,154 265.6,150 264.8,146 262,141.8 259,140 256,139.1 248,138.8Z" fill="#6063ad"/>
<path d="M194,78 412,78 412,360 194,360ZM242,138 232,139.4 224.2,142 217.4,146 213.4,150 210.5,156 210.5,162 213.4,168 217.6,172 222,174.5 228,176.6 234,177.5 240,177.6 246,176.9 252,175.1 256,173.1 260,169.4 263.2,164 266.1,156 266.7,150 266.1,146 265.2,144 262,140.3 258,138.5 252,137.7Z" fill="#5159a7"/>
<path d="M194,78 412,78 412,360 194,360ZM232,137.7 224,139.8 218.8,142 212.8,146 209.2,150 207.1,154 206.1,160 206.9,164 209,168 212.7,172 218,175.5 224,177.8 230,178.9 236,179.3 244,178.7 250,177.3 256,174.5 259.2,172 262,168.5 266.6,158 267.8,150 267.2,146 265.3,142 262,139 256,137.1 242,136.7Z" fill="#4956a6"/>
<path d="M194,78 412,78 412,360 194,360ZM234,135.8 226,137.1 220,138.9 213.5,142 208.2,146 204.9,150 202.3,156 202.2,162 203.5,166 206,170 210.2,174 217.4,178 224,180 232,180.9 240,180.6 248,179.2 254,177 258,174.5 260.7,172 263.5,168 266,162.6 268,156.8 268.8,152 268.7,148 267.7,144 266,141 264,139 262,137.7 258,136.4 244,135.5Z" fill="#4657a7"/>
<path d="M194,78 412,78 412,360 194,360ZM224,135.6 216,138 210,140.9 204,145.5 200.4,150 198,156 197.9,162 200.1,168 203.1,172 207.8,176 214,179.3 222,181.7 230,182.6 240,182.1 248,180.5 254.6,178 260,174.2 263.4,170 265.5,166 268,160 269.6,154 269.4,146 268,142 266,139.3 262,136.5 256,135.1 236,134.2Z" fill="#4358a8"/>
<path d="M194,78 412,78 412,360 194,360 194,166.4 198.3,172 202.5,176 208,179.5 214,182 220,183.5 228,184.3 236,184 244,182.8 254,179.6 258,177.3 262,173.5 265.5,168 268.2,162 270.1,156 270.7,150 270,144 268,140 266,137.8 262,135.3 258,134.3 234,132.8 222,134.1 216,135.6 209.7,138 206,140 200.7,144 194,152Z" fill="#3f59a9"/>
<path d="M194,78 412,78 412,360 194,360 194,173.7 200,178.2 206,181.6 212,183.9 218,185.3 224,186 232,185.9 240,184.9 248,183 254,180.9 258,178.6 261,176 264,172.4 266.5,168 269.9,160 271.4,154 271.6,150 271,144 270,141.2 267.8,138 264,135 258,133.3 238,131.5 226,131.6 213.3,134 203.6,138 194,144.8Z" fill="#3e62af"/>
<path d="M194,78 412,78 412,360 194,360 194,178.5 206,184.5 212,186.3 220,187.6 228,187.8 236,187 244,185.4 252,182.9 256,181.1 260,178.4 265.2,172 270.8,160 272,155.5 272.4,150 271.9,144 270,139.1 266,134.9 264,133.7 260,132.4 252,132 236,129.9 222,130.2 214,131.5 208,133.1 202,135.5 194,139.9Z" fill="#3f6fb9"/>
<path d="M194,78 412,78 412,360 194,360 194,182.5 202.3,186 208,187.8 214,189 222,189.6 230,189.3 238,188.1 246,186.1 254,183.3 260,179.7 263.5,176 266.2,172 271.7,160 272.8,156 273.3,150 272.4,142 270,137.3 266,133.5 260,131.2 252,130.9 234,128.3 222,128.3 208,130.5 194,135.8Z" fill="#407cc2"/>
<path d="M194,78 412,78 412,360 194,360 194,186 204,189.3 210,190.6 216,191.3 224,191.5 238,189.5 248,186.7 255.1,184 258.7,182 262,179.2 267.1,172 272.5,160 273.9,154 274.1,150 273.3,142 271.7,138 268,133.6 265.8,132 262,130.4 252,129.7 234,126.8 222,126.4 208,128 194,132.2Z" fill="#4189cb"/>
<path d="M194,78 412,78 412,360 194,360 194,189.2 204,191.8 210,192.9 224,193.2 238,190.9 256,184.8 262,180.7 268.1,172 273.4,160 274.4,156 274.8,150 274.1,142 272,136.6 268,132.1 262,129 252,128.4 234,125.2 222,124.5 208,125.6 194,128.9Z" fill="#4ba0d9"/>
<path d="M194,78 412,78 412,360 194,360 194,192.2 210,195.1 218,195.4 226,194.8 240,191.7 258,185 262,182.2 264,179.9 270,170 274.8,158 275.6,150 274.9,142 272.8,136 268,130.6 262,127.7 252,127 236,123.9 222,122.6 208,123.2 194,125.8Z" fill="#58bae8"/>
<path d="M194,78 412,78 412,360 194,360 194,195 210,197.2 218,197.3 226,196.5 240,193.1 258.4,186 261.5,184 264,181.5 270.9,170 275,160 276,156 276.3,150 275.7,142 273.9,136 270,130.7 264,126.8 260,125.9 250,125.1 232,121.7 222,120.8 208,120.8 194,122.8Z" fill="#65c9e9"/>
<path d="M194,78 412,78 412,360 194,360 194,197.8 210,199.4 218,199.2 226,198.2 240,194.5 260,186.4 263.1,184 266,180.2 272.7,168 276.4,158 277.1,150 276.1,140 274,134 270,129 264,125.3 222,118.8 208,118.5 194,119.9Z" fill="#72cadb"/>
<path d="M194,78 412,78 412,360 194,360 194,200.4 204,201.4 212,201.5 220,200.9 228,199.6 242,195.2 262,186.4 266,181.9 274.5,166 277.1,158 277.8,150 276.9,140 275.2,134 272.6,130 270,127.3 264,123.8 220,116.7 208,116.2 194,117Z" fill="#7ecccd"/>
<path d="M194,78 412,78 412,360 194,360 194,203 212,203.5 220,202.8 228,201.3 240,197.5 262,187.6 266,183.7 275.4,166 277.9,158 278.6,150 277.3,138 275.5,132 272,127.3 266,122.9 260,121.1 220,114.7 208,113.8 194,114.2Z" fill="#85ccc0"/>
<path d="M194,78 412,78 412,360 194,360 194,205.6 212,205.6 228,203.1 240,199 263.2,188 265.5,186 268,182.1 276.3,166 278.8,158 279.4,150 278.2,138 276.8,132 272.7,126 270,123.6 266,121.2 260,119.3 244,117.1 220,112.7 206,111.4 194,111.4ZM346,111.9 344,112.1 342,113.6 340.6,116 340.1,118 340.4,120 341.5,122 344,123.8 346,124.2 350.1,124 354,122.3 354.4,120 352.6,116 350,113.4Z" fill="#7ecbb7"/>
<path d="M194,78 412,78 412,360 194,360 194,208.1 212,207.6 228,204.8 240,200.6 264,188.7 266,186.9 268,183.9 277.2,166 279.6,158 280.3,150 279,136 277.5,130 276,127.4 273,124 266,119.4 260,117.5 244,115.4 218,110.3 206,108.9 194,108.6ZM326,93.9 322,95.4 320,97.3 319.2,100 319.7,104 322,108.2 335.2,124 338,126 344,128.2 358,128 360.9,126 362,124 362.3,122 362,119.3 360.8,116 356,108 350.3,102 344.9,98 338,94.8 332,93.6Z" fill="#77c9ae"/>
<path d="M194,78 412,78 412,360 194,360 194,210.6 204,210.4 214,209.5 230,206.1 240,202.3 255.2,194 264,189.8 268,185.7 277.3,168 280.1,160 281.2,150 279.8,132 278.5,128 274,122.5 268,118.4 260,115.6 244,113.6 218,108.1 206,106.5 194,105.8ZM332,89.9 326,90.9 320,93.7 317.8,96 316.4,100 316.6,104 318,108.5 328,122 331.8,126 334,127.5 342,130.3 356,130.4 358.5,130 362,128.1 363.7,126 365.1,122 364.6,116 362,109.3 356,100 351.9,96 345.3,92 338,90Z" fill="#68c49f"/>
<path d="M194,78 412,78 412,360 194,360 194,213.1 204,212.6 214,211.5 230,207.9 242,203 253.7,196 265.4,190 268.9,186 275.5,174 279.2,166 281.2,160 282.1,150 281.3,140 281.5,132 280.8,128 278.4,124 276.4,122 270,117.4 264,114.7 260,113.7 244,111.8 212,104.8 194,103ZM328,87.8 322,90.2 318,93.1 315.7,96 314.1,102 314.5,106 316,110.6 318,114 325.5,124 329.4,128 332,129.6 340,132 346,132.6 356,132.1 360,131.1 362.2,130 364.4,128 366.8,124 367.5,118 366.3,112 364,105.6 362,101.4 358.4,96 356,93.4 352,90.3 346,87.6 338,86.4 334,86.6Z" fill="#53bd8a"/>
<path d="M194,78 412,78 412,360 194,360 194,215.5 214,213.5 224,211.4 232,209.1 242,204.8 255.9,196 264,192.1 266.9,190 270,186 275.6,176 281.7,162 283.2,152 282.5,140 283.5,130 283,126 280.1,122 272,116.3 264,112.7 244,110 212,102.4 194,100.1ZM334,83.7 328,85.4 322,88.2 317,92 313.9,96 312.5,100 312.2,106 313.9,112 316,116 325.3,128 328,130.3 332,132.3 340,133.9 346,134.3 356,133.6 362,131.7 364.4,130 367.8,126 369.6,120 369.5,116 368,108.4 366,101.9 363.3,96 358,89.3 352,85.4 344,83.3 340,83.1Z" fill="#3eb575"/>
<path d="M194,78 412,78 412,360 194,360 194,218 204,217.1 216,215.2 226,212.8 234,210.2 244,205.5 254.9,198 264,193.2 268.4,190 271.2,186 276.8,176 282.9,162 284.4,152 283.9,140 286.6,128 286,124 282.4,120 274,115.1 266,111.3 260,109.9 246,108.5 214,100.3 194,97.2ZM340,79.7 332,81.6 326,84 320,87.7 315.2,92 312.3,96 310.2,102 310.4,108 312,113.9 315.3,120 319.9,126 324,130.5 328,133.3 334,135 344,136 354,135.2 360,134 364,131.9 368,128.3 369.6,126 371.1,122 371.5,118 371.1,112 368,97.5 364,89.6 360.7,86 358,83.9 354,81.8 350,80.4 344,79.5Z" fill="#2fb063"/>
<path d="M194,78 332.6,78 320,85.8 316,89.3 312,94 309.6,98 308.2,102 307.9,106 308.7,112 310.5,118 312.9,122 320,130.6 323.7,134 326,135.4 330,136.8 344,137.6 356,136.3 362.8,134 366,132 370.2,128 371.5,126 372.9,122 373.3,116 372.5,104 371.6,98 370,92.1 366,85.1 357.7,78 412,78 412,360 194,360 194,220.5 204,219.4 216,217.3 226,214.8 236,211.3 246,206.3 257.1,198 266,193.2 269.8,190 277,178 284.2,162 285.7,154 285.9,140 289.8,130 290.7,126 289.6,122 286,118.4 266,109.1 260,107.9 248,107 214,97.8 194,94.3Z" fill="#3bb25c"/>
<path d="M194,78 327.3,78 316,87.5 310.4,94 307.7,98 305.7,104 306.2,116 306.7,120 308.9,124 320,135.7 326,138.9 332,139.6 348,139.1 360,136.6 364,134.7 368,132 372,128.1 373.3,126 374.6,122 375,118 375.1,100 374.6,94 372,86 366.3,78 412,78 412,360 194,360 194,223 216,219.4 226,216.8 236,213.3 248,207.1 259.5,198 269.4,192 272.7,188 277.3,180 285.1,164 287.4,156 288,144 288.8,140 290,137.3 295.2,130 296.4,126 295.4,122 292,118 289.3,116 268,107.5 262,106.1 248,104.9 214,95.2 194,91.3Z" fill="#46b556"/>
<path d="M194,78 323.6,78 316,85.6 305.4,98 302.8,104 301.6,112 300,114.2 298,114.6 266,104.6 246,102.2 214,92.5 194,88.2ZM373.5,78 412,78 412,360 194,360 194,225.6 206,223.7 218,221 228,218.1 238,214.4 250,208 259.2,200 270,193.1 273,190 279,180 286.9,164 289.4,158 292,144.3 294,141.1 296,139.6 300,138.6 308,141.2 312,141.4 322,143.3 328,143.4 336,141.9 348,140.8 358,138.7 364,136.1 370.1,132 374.1,128 375.9,124 378.5,98 378.5,92 377.9,88 376.6,84Z" fill="#52b74f"/>
<path d="M194,78 320.7,78 310,90.5 302.6,98 298,104.9 296,106.6 292,107.3 280,106 264,101.8 247.4,100 212,89.2 194,85ZM380.5,78 412,78 412,360 194,360 194,228.1 210,225.1 228,220.2 242,214.7 252,209.2 262.1,200 273.4,192 280.9,180 286,169.5 294,156.9 296,154.7 298,153.8 300,153.9 306,156.4 310,157.1 322,155.9 325.3,154 330.6,148 333.6,146 338,144.3 350,142.3 360,139.5 364,137.6 372.4,132 376.1,128 377.7,124 379.4,110 383.2,94 383.1,86Z" fill="#59b94b"/>
<path d="M194,78 318.2,78 310,88.6 296,99.9 294,101.3 290,102.6 284,103 278,102.4 264,99.3 250.9,98 244,96.5 212,86.2 194,81.7ZM388.2,78 412,78 412,360 194,360 194,230.7 210,227.4 226,222.9 240,217.7 251.7,212 257.6,208 265.4,200 274,194.1 276,192 288,170.7 294,164 298,162.1 310,162.1 326,160.1 329,158 334,151.1 337.6,148 342,146.2 354,143.2 360,141.2 364,139.2 375.1,132 377,130 379.2,126 380.8,114 381.9,110 387.5,98 389.5,92 389.9,86Z" fill="#54b749"/>
<path d="M196.4,78 315.8,78 310.3,86 306,90 290,98.1 282,99.4 246,94.3ZM397.7,78 412,78 412,360 194,360 194,233.4 210,229.7 228,224.3 242,219 256.8,212 260.4,210 262.7,208 268.9,200 275.5,196 277.6,194 281.9,186 290,173.7 294,169.6 296,168.4 300,167.1 324,163.9 328,162.7 331.8,160 338,152.2 340.7,150 345.2,148 360,143 376,133.6 378.1,132 380.8,128 381.9,124 382.8,116 384,112 388,106.4 394.4,100 397.8,94 398.8,90 399,86Z" fill="#4fb547"/>
<path d="M208.3,78 313.5,78 309.8,84 305.5,88 288,94.6 280,96 254,92.8 246,91.3 217.9,82ZM409.8,78 412,78 412,85.2ZM412,92.3 412,360 194,360 194,236.1 210,232.1 228,226.5 240,222 264,211.8 266.4,210 268,208 271.7,202 278,197.7 280,194.8 284.4,186 292,177.6 296,173.9 300,171.8 312,168.3 326,166.2 330,164.8 333.9,162 340,154.8 343.4,152 360,145.1 370,138.9 379.8,134 383,130 385.9,116 387.2,114 390,111.6 392,110.8 398,110 402.7,108 404.9,106 407.9,102Z" fill="#4eb548"/>
<path d="M218.1,78 311,78 308,83 304,86.1 296,88 284,91.9 278,92.5 256,90.1 246,88.3 226.9,82ZM412,114 412,360 194,360 194,238.9 208,235.2 228,228.7 256,217.2 265.2,214 268,212.5 270.9,210 274.7,204 280,198.9 284.1,190 286,187.1 290,183.3 298,177.1 302,174.9 314,170.6 326,168.7 332,166.7 335.8,164 342,157.1 346,154 360,147.5 372,140 384.1,136 386.2,134 387.1,132 388.2,126 390,120.6 392,118.7 394,118.1 402,117.6Z" fill="#59b84e"/>
<path d="M227.3,78 308.2,78 306,81.3 302,83.8 284,88.2 276,89 260,87.5 248,85.5 236.1,82 230.8,80ZM411.7,124 412,360 194,360 194,241.8 208,237.7 228,230.9 269.6,214 272.4,212 276.4,206 281.2,200 284.9,192 287.6,188 290,185.8 298,180.3 304,177.2 316,172.6 328,170.6 334,168.5 337.6,166 344,159.4 348.6,156 360,150.3 370,143.9 374,142.1 386,141.1 390.2,140 393.4,138 395.1,136 398,128 402,126.2Z" fill="#64bb54"/>
<path d="M236.9,78 304,78 302,80 298,81.4 282,85 274,85.5 264,84.8 252,83 240.8,80ZM409.6,136 412,134.9 412,360 194,360 194,244.8 212,238.9 234,230.9 272,214.6 275,212 278.5,206 282,201.4 288,189.8 292,186.3 300,181.4 316,175.1 330,172.4 336,170.3 339.5,168 346,161.9 350,158.8 372,146.5 376,145.4 388,145.2 394.7,144 400.5,142Z" fill="#70bf5a"/>
<path d="M249.1,78 294.3,78 284,80.9 274,81.9 258,80.4ZM412,143.5 412,360 194,360 194,247.9 208,243.1 238,231.5 274,215.1 276.9,212 284,200.6 287,194 289.6,190 294,186.7 300,183.3 318,176.8 332,174.2 338,172.2 341.6,170 352,161.4 372,150.8 378,149.6 392,148.9 404,146.1Z" fill="#8ec85a"/>
<path d="M412,149.9 412,360 194,360 194,251.1 240,233 250,228.4 261.7,222 275.2,216 278,212.9 284.5,202 289.6,192 294,188.1 300,184.9 318,178.9 334,175.9 340,174.2 343.9,172 351.3,166 356,162.9 366,157.6 372,155.2 378,154.1 390,153.6Z" fill="#acd15a"/>
<path d="M398.2,158 412,156.3 412,360 194,360 194,254.6 244,233.5 252,229.5 264.7,222 276,216.9 278.8,214 285.9,202 290,193.5 293.3,190 298,187.2 304,184.8 320,180.3 342,176.3 346.4,174 360,164.5 370,160.1 378,158.6Z" fill="#c6d854"/>
<path d="M371.3,164 376,163.2 382,163.1 400,164.9 412,162.6 412,360 194,360 194,258.3 246,234.9 254,230.5 264,223.8 276.6,218 280.3,214 287.2,202 291.1,194 292.7,192 296,189.6 302,186.9 320,182 344,178.5 349.1,176 362,167.5 366,165.6Z" fill="#d9da45"/>
<path d="M373.7,168 382,167.7 400,169.8 412,168.2 412,360 194,360 194,262.2 248,236.4 254,232.8 266.2,224 278,218.5 281.7,214 292.5,194 294.4,192 298,189.8 304,187.7 320,183.7 346,180.6 351.8,178 364,171 368,169.3Z" fill="#ecdb36"/>
<path d="M367.7,174 374,172.5 380,172.1 400,173.6 412,173.1 412,360 194,360 194,266.6 248,239 256,233.9 266,225.7 278,220 282,215.9 288.8,204 292.6,196 294,194 298,191.1 304,189 320,185.3 332,183.8 344,183.3 348,182.6Z" fill="#f3cd2c"/>
<path d="M369.2,178 376,176.7 382,176.4 412,177.6 412,360 194,360 194,271.5 217.3,258 250,240.6 258,235 268.1,226 276,222.6 280,220.2 283.6,216 289.3,206 294.1,196 298,192.4 304,190.5 320,187 332,185.6 344,185.4 350,184.6Z" fill="#fac023"/>
<path d="M370.5,182 376,181 384,180.6 398,181 412,182.3 412,360 194,360 194,277.3 220.9,260 252,242.5 258,238 268.1,228 271.2,226 280,222 282.4,220 285.4,216 290.9,206 294.6,198 296,195.8 298,194 303.8,192 320,188.7 334,187.2 346,187.5 352,186.9Z" fill="#fcb21e"/>
<path d="M378,185.2 386,185.1 412,187.3 412,360 194,360 194,284.2 196,283.2 221.9,264 254,244.9 260,239.9 270,228.9 278,225 282.6,222 287.5,216 296.5,198 298,196.1 300,194.9 318,190.8 336,189 348,189.8 354,189.6Z" fill="#f9a31e"/>
<path d="M375.9,190 386,189.8 400,191.8 412,192.5 412,360 194,360 194,293.5 224.2,268 256,248.2 262,242.9 270,232.3 272,230.4 282,224.9 285.6,222 288.8,218 293.2,210 297.8,200 300,197.4 303.2,196 316,193.2 334,191.2 340,191.2 348,192.6 354,193 360,192.6Z" fill="#f7951e"/>
<path d="M332.7,194 340,193.8 350,196.5 356,197.2 362,197 382,194.7 400,197.1 412,197.7 412,360 194,360 194,313.5 199.4,304 202.3,300 214,288.8 222.9,278 228,272.9 252,258.7 264,249.1 266.5,246 273.3,234 275.4,232 286,225.2 291.2,220 294.9,214 300,202.9 302,200.4 304,199.3 316.8,196Z" fill="#f28820"/>
<path d="M335.4,198 340,198.4 350,202.5 356,203.5 362,203.2 378,200.7 384,200.4 412,202.8 412,360 261.6,360 261.3,354 260,348.9 249,332 246.5,326 245.2,320 245.1,314 245.8,310 253.7,288 258.5,282 280,262.4 284,257.4 285.3,254 285,250 280,242.4 279.1,240 280,236.3 281.9,234 294,225.9 298,224.5 300,225.4 303.8,232 306,233.7 310,234 316,231.1 329,222 333.2,218 334,216 333.8,214 332.5,212 326,207.4 324.6,206 323.6,204 324.6,202 328.5,200Z" fill="#ea7b24"/>
<path d="M376.8,208 384,206.6 392,206 402,206.6 412,208.1 412,360 285.9,360 284.4,354 282.2,348 275,334 272.5,328 271,322 270.9,316 271.6,312 274,306.3 283.3,292 291.5,276 296.3,270 316,251.7 328.1,238 350,219.3 355,216 362,212.5Z" fill="#e26e29"/>
<path d="M390.7,212 400,211.5 412,214.4 412,360 308.6,360 305.7,350 296.9,326 295.3,318 295.6,314 296.7,310 302.9,292 305.6,286 309.7,280 322,265 333.8,248 340,241.7 359.6,226 365.4,222 382,214.7Z" fill="#dd602d"/>
<path d="M392.9,220 396,218.8 400,218.6 404,220 412,224.9 412,360 332.7,360 322,329.5 318.6,316 316.7,302 317.3,296 319.3,290 322.6,284 332.9,270 340.5,258 344,253.5 348,250.4 358.8,244 371.1,232 384,225.6Z" fill="#e14b2a"/>
<path d="M382.5,250 386,249.3 390,249.6 402,254.4 412,255.9 412,360 358.7,360 354.8,350 347.4,334 342.9,326 334.9,314 331.5,306 330.4,298 331.9,292 336.9,284 346,272.9 350.8,268 356,264.1 368,258 378,251.9Z" fill="#e53528"/>
<path d="M377.9,268 384,267.1 390,267.7 396,269.5 412,275.9 412,360 391.3,360 386.5,352 365.8,322 359.8,314 350.8,304 348.5,300 347.8,296 348.4,292 350.2,288 354,282.9 359.4,278 366,273.4 372,270.2Z" fill="#e82b27"/>
</g></g>
<use href="#land"/><use href="#dots"/><use href="#frame"/><use href="#axis"/>
<polygon points="450.0,61.7 461.8,56.2 473.6,61.7 473.6,402.9 461.8,408.4 450.0,402.9" fill="url(#glin)" stroke="#444" stroke-width="0.6" stroke-linejoin="miter"/>
<g font-family="Liberation Serif, serif" font-size="27.4" fill="#000" stroke="none">
<text transform="translate(483.20,70.80) scale(1,1.05)">36</text>
<path d="M450.0,147.0h4.6M473.6,147.0h-5" stroke="#333" stroke-width="0.9" fill="none"/>
<text transform="translate(483.20,156.10) scale(1,1.05)">32</text>
<path d="M450.0,232.3h4.6M473.6,232.3h-5" stroke="#333" stroke-width="0.9" fill="none"/>
<text transform="translate(483.20,241.40) scale(1,1.05)">28</text>
<path d="M450.0,317.6h4.6M473.6,317.6h-5" stroke="#333" stroke-width="0.9" fill="none"/>
<text transform="translate(483.20,326.70) scale(1,1.05)">24</text>
<text transform="translate(483.20,412.00) scale(1,1.05)">20</text>
</g>
<text x="384.4" y="374.6" font-family="Liberation Sans, sans-serif" font-weight="bold" font-size="30.4">C</text>
</g>
<g transform="translate(602.0,475.0)">
<g clip-path="url(#polyclip)"><g filter="url(#soft)">
<path d="M249.2,104.8 L259.3,96.7 L308,85.4 L356.9,121 L401.8,110 L401.4,165.5 L398.5,197.6 L403.2,266.7 L386.5,289.3 L374,304.8 L357.4,315.6 L308.5,315.7 L263.7,351.8 L202.1,303.5 L240.2,261.2 L261.8,191.3 L253.1,157.6 L251,127.1Z" fill="#4cb446"/>
<path d="M260.8,78 412,78 412,360 194,360 194,171.2 210,164 220,158.5 226.1,154 231.3,148 243.9,126 246.8,120 248.9,114 252.8,98 259.1,84Z" fill="#4db547"/>
<path d="M266.5,78 412,78 412,360 194,360 194,174 207.8,168 220,161.8 228,156.3 232.1,152 235.9,146 250,120 252.3,114 256.2,100 258,96.2 264.6,86 266,82Z" fill="#52b64a"/>
<path d="M272.3,78 412,78 412,360 194,360 194,176.8 209.5,170 222,163.8 228.1,160 234,154.4 236.8,150 243.7,136 253.1,120 260,102 262.8,98 271.4,90 272.6,86Z" fill="#56b74c"/>
<path d="M277.8,78 412,78 412,360 194,360 194,179.5 224,165.7 232,160.5 236,156.5 238.8,152 244.9,138 255,122 264,104.1 268,100.3 272,98.3 279.4,96 281,94 280.8,90Z" fill="#5bb84f"/>
<path d="M282.5,78 412,78 412,360 194,360 194,182.2 224.8,168 231.8,164 236.7,160 240.7,154 245.2,142 248.2,136 257.8,122 266,108 270,104.1 276,101.7 288,100.7 290,101.9 293.6,108 295.4,110 298,111.8 302,113 304,113 306.4,112 307.7,110 308,108 307.5,106 306,103.7 302,101.1 292,99.5 290,98 284.9,86Z" fill="#5fba52"/>
<path d="M286.8,78 412,78 412,360 194,360 194,184.8 226.1,170 233.4,166 238.6,162 242.7,156 247.2,142 250.3,136 268,110.9 272,107 276,105.1 282,104.6 286,105.9 292.9,112 298,114.7 304.4,116 308,115.2 309.3,114 310.8,110 310.5,106 309.7,104 306,99.6 296,94.9 292.6,92 289.3,86Z" fill="#64bb54"/>
<path d="M290.8,78 412,78 412,360 194,360 194,187.4 230,170.5 236,167.2 240.4,164 242.3,162 244.7,158 248.4,144 252.2,136 270,113.2 274,109.4 278,107.7 282,107.8 286,109.7 294,115.5 302,118.1 308,118.8 310,118.4 312,116.4 313.2,112 313.3,108 311.5,102 308,97.7 298.5,92 296,89.9 292.7,84Z" fill="#68bc57"/>
<path d="M294.8,78 412,78 412,360 194,360 194,190 232,171.9 239.1,168 244,164.1 246,161.3 247.3,158 249.6,146 252.8,138 260,128.7 272,115.3 276,111.8 280,110.6 282,110.9 294,117.7 306,121.3 312,123.8 314,124.3 314.3,124 315.2,120 315.6,110 315.2,106 314,102 310,96.1 299.7,88 296.9,84Z" fill="#6dbe59"/>
<path d="M298.9,78 412,78 412,360 194,360 194,192.6 236.4,172 242,168.8 245.6,166 248,163 249.2,160 251.3,146 252.5,142 254.5,138 258,133.2 264,126.9 274,117.5 278,114.7 280,114.2 282,114.5 292,119 304,122.7 308,125 314,130.5 316,131.1 318.8,130 319.9,128 320,126 318.3,118 317.4,106 316,100.9 312,94.5 302,84.7 300.3,82Z" fill="#77c15a"/>
<path d="M303,78 412,78 412,360 194,360 194,195.1 236.8,174 246.9,168 250,164.5 251.1,162 252.9,146 254.1,142 256.2,138 260,133.1 266,127.4 274,121 278,118.6 280,118.1 284,118.4 302,123.9 306,126.1 312,132 314,133.1 318,133.6 320.9,132 322.3,130 322.8,126 320.7,118 319.5,106 318,100 314,92.8 306,83.8Z" fill="#84c55a"/>
<path d="M307.2,78 412,78 412,360 194,360 194,197.7 240.9,174 247.8,170 250.2,168 252,165.8 253.4,162 254.1,148 254.9,144 256.6,140 259.2,136 264,131.1 270,126.3 276,122.7 280,121.2 284,121 300,124.8 304,126.8 312,134.2 316,135.6 320,135.1 322,134 323.9,132 324.9,130 325.2,126 322.5,116 321.6,106 320.4,100 317.8,94 309.1,82Z" fill="#90c95a"/>
<path d="M311.3,78 412,78 412,360 194,360 194,200.2 244.6,174 252,169.1 254,166.7 255,164 255.6,148 256.4,144 258.1,140 260.9,136 264,133 270,128.3 274,126 278,124.3 282,123.3 288,123.6 296,125.1 302,127.4 310,134.6 314,136.8 318,137.3 320,136.9 322.2,136 324.7,134 327.1,130 327.5,126 324.6,116 322.7,100 320,92.7 313.2,82Z" fill="#9ccc5a"/>
<path d="M315.2,78 412,78 412,360 194,360 194,202.8 217.2,190 248,174.1 253.9,170 256,167.2 256.9,164 257,148 258.5,142 260.9,138 264,134.7 272,128.9 280,125.7 284,125.1 288,125.2 296,126.6 300,127.9 304,130.6 310,136.4 314,138.3 320,138.5 324,136.7 326,135.1 328.3,132 329.2,130 329.6,126 326.8,116 325.1,100 322.5,92Z" fill="#a8d05a"/>
<path d="M318.8,78 412,78 412,360 194,360 194,205.4 221.1,190 248,175.9 256,170.4 257.7,168 258.4,166 258.4,148 259.9,142 264,136.5 272,130.6 276,128.7 282,127 290,126.9 296,127.9 300,129.4 310,138 314,139.6 320,139.9 324,138.4 327.3,136 329,134 331.1,130 331.6,124 329,114 327.9,102 326.7,96 324.5,90Z" fill="#b5d45a"/>
<path d="M322.3,78 412,78 412,360 194,360 194,208.1 221.3,192 250.8,176 256.6,172 258.4,170 260,166 259.6,150 260.5,144 262,140.9 264.2,138 268,134.7 272,132.2 276,130.3 282,128.6 288,128.2 294,128.8 300,130.9 310,139.4 316,141.2 320,141.2 323.8,140 329.3,136 330.9,134 333,130 333.8,126 333.6,122 331.9,114 330.5,102 329.3,96 327.4,90Z" fill="#c0d759"/>
<path d="M325.6,78 412,78 412,360 194,360 194,210.8 221.5,194 253.5,176 258.7,172 260.2,170 261.4,166 260.9,150 261.9,144 264,140.2 266,138 272,133.7 278,131.1 282,130 288,129.5 294,130 300,132.3 306.2,138 310,140.7 314,142 318,142.5 324,141.2 328,138.9 331.2,136 334,132 335.5,128 336.1,124 336,120 332.1,96Z" fill="#c8d852"/>
<path d="M328.8,78 412,78 412,360 194,360 194,213.5 221.6,196 254,177.2 260,172.6 261.8,170 262.7,166 262.1,150 263.2,144 266,139.8 272,135.2 276,133.3 282,131.4 288,130.8 294,131.2 298,132.5 300,133.7 306,139.3 310,141.9 314,143.1 318,143.5 322,143.1 325.1,142 328.6,140 332,137.1 334.6,134 337.5,128 338.8,122 338.9,118 337.9,110 335.4,98Z" fill="#d0d94c"/>
<path d="M331.8,78 412,78 412,360 194,360 194,216.3 218.7,200 255,178 260.4,174 262.2,172 263.7,168 263.3,152 263.9,146 266,141.8 268,139.6 272,136.7 276,134.7 282,132.7 288,132 294,132.4 298.3,134 308,142 312,143.6 318,144.6 322,144.2 326,142.8 333,138 336.3,134 339.5,128 341.6,122 342.4,116 341.5,110 338.9,100Z" fill="#d8da46"/>
<path d="M334.7,78 412,78 412,360 194,360 194,219.2 222.1,200 257.2,178 262,174.1 264,171.1 264.9,168 264.4,152 265.3,146 267.5,142 272.4,138 278,135.3 284,133.6 290,133.2 294,133.6 298,135.2 304,140.4 308,143.1 312,144.7 318,145.5 322,145.2 326,143.9 330,141.8 334.8,138 339.3,132 343.6,124 345.4,120 346.1,116 344.5,108Z" fill="#e0db40"/>
<path d="M337.6,78 412,78 412,360 194,360 194,222.1 219.5,204 256.2,180 262,175.7 264.9,172 266.1,168 265.6,152 266.7,146 269.4,142 274,138.6 278,136.7 284,134.9 290,134.4 294,134.9 298,136.6 304.3,142 308,144.2 313.6,146 318,146.5 322.8,146 328,144.2 332,141.8 336.6,138 339.9,134 347.7,122 348.8,120 349.4,116 348,109.4Z" fill="#e8dc3a"/>
<path d="M340.4,78 412,78 412,360 194,360 194,225.2 219.9,206 258,180.2 263.2,176 266.1,172 267.2,168 266.6,154 267.4,148 269.4,144 274,140.1 278.2,138 284,136.3 292,135.8 296,136.9 304,143 308,145.3 314,147 320,147.4 324,146.7 330,144.3 334,141.8 338.4,138 346,127.5 350.6,122 352.2,118 351.9,114 350.8,110Z" fill="#edd935"/>
<path d="M343,78 412,78 412,360 194,360 194,228.4 220.4,208 260,180.1 264.7,176 267.3,172 268.3,168 267.7,154 268.1,150 270,145.6 274,141.7 278,139.5 282.4,138 288,137 292,137.2 296,138.4 303.6,144 308,146.3 314,147.9 320,148.3 324,147.7 330,145.4 335.7,142 340.2,138 347.7,128 353.2,122 354.3,118 354,114 352.6,108Z" fill="#f0d331"/>
<path d="M345.6,78 412,78 412,360 194,360 194,231.7 196,230.5 218.4,212 261.8,180 266,176.1 268.4,172 269.3,168 268.8,156 269.4,150 272,145.3 276,142.1 284,139 288,138.4 292,138.6 296,139.9 304,145.4 308,147.3 314,148.9 320,149.2 326,148.1 331.1,146 337.6,142 342,138.1 348,130 354,123.8 355.2,122 356.1,118 355.8,114 354.1,106Z" fill="#f3cd2d"/>
<path d="M348.1,78 412,78 412,360 194,360 194,235.2 196,234 219.2,214 262,181.2 266,177.6 268.6,174 270.4,168 269.8,156 270.2,152 272,147.7 276,143.8 280,141.7 284,140.4 288,139.8 292,140.1 296,141.6 302.9,146 308,148.3 314,149.8 320,150.2 326,149.1 332,146.7 336.8,144 342,140 349.9,130 355.7,124 356.8,122 357.5,118 357.2,112 356,105.8Z" fill="#f5c829"/>
<path d="M350.5,78 412,78 412,360 194,360 194,238.9 196,237.6 220,216 264,180.9 267,178 269.7,174 271.6,168 271,156 271.6,152 273.6,148 276,145.7 282,142.6 286,141.6 290,141.4 294,142.3 302,146.7 308,149.2 314,150.7 320,151.1 326,150 332,147.8 338.8,144 344,139.9 357.1,124 358.1,122 358.9,118 358.7,112 357.4,104Z" fill="#f8c225"/>
<path d="M352.9,78 412,78 412,360 194,360 194,242.8 196,241.4 220.9,218 254.1,190 264.3,182 268,178.4 270.9,174 272.8,168 272.3,156 273.1,152 275.7,148 278,146.2 284,143.6 290,143 294,143.9 302.1,148 308,150.2 314,151.7 320,152 326,151 334,148 340.9,144 345.8,140 358,124.8 359.3,122 360.1,118 360.1,112 359.2,104Z" fill="#fbbd21"/>
<path d="M355.1,78 412,78 412,360 194,360 194,246.9 196,245.6 221.8,220 268.1,180 271,176 273.6,170 274.2,166 274,154 276,150.2 278.4,148 284,145.4 290,144.8 294,145.7 304,150 310,151.8 316,152.9 322,152.8 328,151.5 336,148.2 343.1,144 347.7,140 358.6,126 360.5,122 361.2,118 361.5,112 360.8,104Z" fill="#fdb71e"/>
<path d="M357.3,78 412,78 412,360 194,360 194,251.4 196,250 210.8,234 222.9,222 257.9,190 269.6,180 273.5,174 275,170 275.6,166 275.4,158 276,154 278,150.9 280,149.3 284,147.4 290,146.7 294,147.5 304,151.1 312,153.3 318,154 322,153.8 328,152.5 336,149.4 342.2,146 348,141.7 359.8,126 361.6,122 362.4,118 362.8,110 362.2,102Z" fill="#fcb11e"/>
<path d="M359.4,78 412,78 412,360 194,360 194,256.3 196,254.8 212.6,236 224.1,224 259.8,190 268,183.3 271.2,180 274.9,174 276.5,170 277.2,166 277.6,156 280,152 284,149.6 290,148.7 294,149.3 314,154.7 322,154.9 330,153 336,150.6 344.6,146 349.6,142 361,126 362.7,122 363.5,118 364.2,110 363.8,102Z" fill="#fbab1e"/>
<path d="M361.5,78 412,78 412,360 194,360 194,261.7 196,260.1 212.7,240 225.4,226 248,204.1 259.6,192 269.1,184 272.9,180 277.5,172 278.6,168 279.6,158 280.3,156 282,153.8 286,151.5 292,151 314,155.8 318,156.3 324,155.7 332,153.5 338,150.9 346.9,146 351.5,142 362.2,126 363.8,122 365,116 365.6,110 365.4,102Z" fill="#faa51e"/>
<path d="M363.5,78 412,78 412,360 194,360 194,267.7 198,263.7 214.8,242 226.8,228 250,204.7 261.6,192 271.3,184 274.9,180 279.6,172 281.9,160 284.1,156 287.5,154 292,153.3 300,154.2 316,157.4 324,156.9 332,154.7 338,152.3 346.2,148 352,143.6 356,138.4 363.4,126 364.9,122 366.2,116 367,110 367,102Z" fill="#f8a01e"/>
<path d="M365.5,78 412,78 412,360 194,360 194,274.4 198,270.3 217.1,244 228.4,230 251.5,206 262,193.8 273.7,184 277.4,180 281.2,174 284.5,162 287.2,158 291.6,156 296,155.7 304,156.3 316,158.8 320,158.9 324,158.2 334,155.3 340,152.7 348.8,148 354,143.6 358,137.9 364.6,126 366.1,122 367.9,114 368.6,108 368.4,100Z" fill="#f79a1e"/>
<path d="M367.5,78 412,78 412,360 194,360 194,282 196,280.3 200,275.1 220.9,244 231.8,230 252.5,208 264.2,194 276.9,184 280.7,180 284.4,174 287.5,164 290,160.5 294,158.5 300,157.8 306,158.1 318,160.5 324,159.7 334,156.8 346,151.2 351.5,148 355.7,144 360,137.4 365.8,126 369.3,114 370.1,108 370,100Z" fill="#f6941e"/>
<path d="M369.4,78 412,78 412,360 194,360 194,290.9 196,289 204.3,278 222.2,248 232,234 240.4,224 255.6,208 266,195 270,191.5 278.8,186 283.2,182 287.3,176 290,167.8 292.2,164 296,161.3 302,160 306,160.1 318,162.5 324,161.6 338,156.7 351.3,150 356.1,146 360.3,140 367.2,126 370.8,114 371.5,108 371.5,100Z" fill="#f58e1e"/>
<path d="M371.3,78 412,78 412,360 194,360 194,350.8 196,347.4 198.6,340 199.9,334 200.2,330 199.4,324 195.2,310 195.3,304 196.6,300 198.7,296 207,286 209.6,282 221,258 228.7,244 238.7,230 257.3,210 268,196.3 273.6,192 282,188.2 286,184.5 290.6,178 294.9,168 298,164.8 302,163.1 306,162.8 316,165 322,164.8 336,159.6 350,152.6 354.4,150 358,146.5 362.1,140 367.7,128 372.3,114 373,108 373.1,100Z" fill="#f3891f"/>
<path d="M373.1,78 412,78 412,360 198.7,360 201.2,354 211.9,334 214.4,328 215.4,324 216.5,312 219.9,304 220.2,302 220,298.8 218.2,292 217.7,288 219,278 221.3,270 225.8,258 229.5,250 233.9,242 244.1,228 259.5,212 270,198.4 274,195.4 282,192.7 286,190.1 293,182 300,171.1 302,169 304,167.8 308,167.4 318,169.8 322,169.8 342.8,158 354,152.6 359.2,148 362,143.9 365,138 370.8,124 373.8,114 374.5,108 374.6,100Z" fill="#f08321"/>
<path d="M375,78 412,78 412,360 205.5,360 209.6,352 222,333.2 225.2,326 226,320.9 226.5,304 225.6,284 226.2,276 231.5,256 233.9,250 238,242 243.3,234 248,228 262.5,214 270.2,204 274,200.2 286,194.8 298,183.3 306,177.6 310,176.7 318,178.3 322,178.5 326,176.9 333.7,168 338.5,164 344,159.9 355.8,154 360,150.3 363,146 366,140 373.1,122 375.4,114 376.2,100Z" fill="#ec7e23"/>
<path d="M376.8,78 412,78 412,360 211.8,360 214.9,354 227.9,334 230.4,328 231.4,322 231.4,294 235,264 237.7,252 242.5,242 247.6,234 252,228.5 266.4,216 276,205.2 288,198.2 296,190.9 302,187 308,184.8 322,183.5 328,181.1 334.4,176 342.2,166 346,162.3 356,156.9 361.4,152 364.2,148 367.3,142 376.6,116 377.4,110 377.7,102Z" fill="#e97925"/>
<path d="M378.6,78 412,78 412,360 217.4,360 219.2,356 230.3,338 234,329.9 235.2,322 234.9,308 235.5,298 237,290 241.1,276 241.8,256 243.5,250 248,241 252.5,234 258,228 270,219.3 279.6,210 290,202.7 298,195.5 302,193.2 306,191.7 324,187.2 333.7,182 341.7,176 346.9,168 350,164.4 358,159 362,155 366,149.1 369.4,142 378.2,116 379.2,102Z" fill="#e67427"/>
<path d="M380.4,78 412,78 412,360 222.2,360 224,356 234,338.3 237.1,330 238,324 238.2,308 239,300 241.1,292 247.2,276 247.9,256 249.6,250 253.4,242 257.4,236 262,231.2 276,222.4 302,201.5 306,199.3 322,192.7 343.1,180 347.1,176 352.4,168 360,160.9 364,156.4 368,149.9 371.5,142 379.7,116 380.6,102Z" fill="#e36f29"/>
<path d="M382.3,78 412,78 412,360 226.6,360 238.8,334 240.1,328 240.9,310 242.5,300 244.4,294 251.3,278 253.3,270 255.6,256 257.5,250 260,244.8 262,241.8 266,237.6 280,229.6 302,213 318,202.2 330.3,192 345.6,182 349.5,178 356.9,168 364.2,160 369.3,152 372.9,144 380.8,118 382.1,104Z" fill="#df692b"/>
<path d="M384.1,78 412,78 412,360 230.4,360 241.2,334 242.2,328 243.5,310 245.7,300 255.6,278 263.7,256 266.7,250 272,244.3 282,237.4 292,229.2 322,209.6 325.1,206 331.4,196 334,193.6 346,185.2 351.2,180 366,161.3 370,155 375.5,142 382.3,118 383.6,102Z" fill="#dc642d"/>
<path d="M385.9,78 412,78 412,360 234,360 243.4,334 245.5,312 248,302 254,289.3 265.1,270 269.1,260 272,254.6 286.9,240 294,234.2 328,213.6 330.4,210 333.1,202 335.2,198 336.9,196 348,186.9 352,182.7 368,162 371.8,156 376.6,144 383.5,120 385,104Z" fill="#de5c2c"/>
<path d="M387.7,78 412,78 412,360 237.2,360 245.2,334 247.3,314 249.9,304 258.2,288 268.8,274 276,259 288.7,244 294,239 300,235 309.3,230 320,223 329.4,218 332.1,216 334,213.2 336.9,204 338.8,200 356,181.4 373,158 377.1,148 384.6,122 386.4,104Z" fill="#df532b"/>
<path d="M389.6,78 412,78 412,360 240.3,360 246.8,334 248.6,318 250.2,310 253.5,302 260.4,290 264,285.1 272,276.8 278.5,264 286,254.2 290,248 294,243.4 300,238.8 312,232.5 321.2,226 331.8,220 334.4,218 337,214 340.7,204 343,200 360,179.7 375.2,158 378,150.8 381.3,138 386,123.3 388.2,100Z" fill="#e14a2a"/>
<path d="M391.4,78 412,78 412,360 243.3,360 248.4,334 251.1,314 254.1,306 262.1,292 266,287.1 275.1,278 281.5,266 288,257.4 292.3,250 296,245.4 302,240.9 314,234.7 323,228 334,221.3 337.5,218 345.4,202 362.3,180 376.3,160 378.9,154 382.8,138 386,129.8 387.5,124Z" fill="#e34129"/>
<path d="M393.3,78 412,78 412,360 246.2,360 247.8,346 252.5,316 256,307.1 263.7,294 268,288.6 276.9,280 283.7,268 290,259.3 295.4,250 298,247.1 304,242.7 316,236.5 324.3,230 336,222.5 338.6,220 341.3,216 348.7,202 378.5,160 380.8,154 384,138.7 387.7,130 388.8,126Z" fill="#e53829"/>
<path d="M395.2,78 412,78 412,360 249.1,360 250.4,340 253.8,318 256.9,310 265.1,296 269.9,290 278.3,282 285.5,270 292,260.8 297,252 300,248.5 304,245.5 316,239.4 328,230.1 336,224.9 340,221.5 342.6,218 349.3,206 358.3,192 380,161.5 382.7,154 385,140 389.4,130 390.4,126Z" fill="#e63128"/>
<path d="M397.1,78 412,78 412,360 252.2,360 252,340 255.1,320 258,312.6 266.5,298 270,293.2 278,285.6 281,282 286,273.7 292.8,264 298.4,254 301.8,250 306,247.1 318,240.9 329,232 338,226 342.3,222 360.9,192 382.1,162 384.2,156 386,141.9 387.3,138 390.3,132 392,126 393.6,108Z" fill="#e72e27"/>
<path d="M399.1,78 412,78 412,360 255.4,360 253.7,338 256.2,324 258.8,316 269.2,298 272.3,294 278.9,288 282.4,284 288,275 294.5,266 300,255.9 303.1,252 306,249.8 316,245.1 320,242.6 329.9,234 340,227.1 344,223.4 354.5,208 363.5,192 374.5,176 383.6,164 385.3,160 386.3,156 387.6,142 392.1,132 393.3,128 395.2,108Z" fill="#e82a27"/>
<path d="M401.1,78 412,78 412,360 259.1,360 255.8,342 255.5,338 256,333.7 260,319 272,298.1 284,286 290,276.5 296.6,268 302,257.5 304.7,254 308,251.7 318,247.1 322,244.5 332,235.2 342,228.4 346.7,224 358,208.5 366,192.4 376,177.7 384,168 386.4,164 388.6,156 389.4,142 393.1,134 394.9,128 396.8,108Z" fill="#ea2726"/>
<path d="M403.1,78 412,78 412,360 263.5,360 258,340 258,335.1 262,322 268.6,312 274.2,300 276,297.7 282.5,292 286.1,288 292,278.8 299.2,270 306,257.2 310,254.2 318,250.7 324,246.9 334,236.9 346.6,228 359.2,214 362.7,208 366.1,198 368.2,194 378,179.6 386,170.2 388.6,166 390.9,158 391.7,142 395.1,134 396.7,128 398.2,110Z" fill="#eb2325"/>
<path d="M405.2,78 412,78 412,360 269.2,360 266.8,352 262,340.6 261.5,336 262.5,332 266,324.9 272.6,318 276.1,306 277.8,302 280,299.3 287.9,292 294.8,282 302,274.2 308,262.4 310,259.7 312.3,258 322,253.2 326,250.3 336,239.6 348,231.1 365.3,216 367.2,212 369.7,200 371.3,196 380.8,182 388,173.6 391.5,168 393.6,160 394.1,144 397.3,134 398.5,128 400,110Z" fill="#ec2025"/>
<path d="M407.3,78 412,78 412,360 277.5,360 275.3,348 275.3,344 278,336.5 279.5,330 283.7,320 284.5,316 284.8,308 286.3,304 300,288 307.8,282 309.4,280 313.8,268 316.9,264 330,255.1 339,244 343.5,240 358,229.2 370,222.9 373.1,220 374.3,218 375.5,214 376,202.5 377.2,198 382,189.9 392,176.9 394.6,172 396,167.7 397,160 397.2,146 400.4,128 402.2,108Z" fill="#ed1d24"/>
<path d="M409.6,78 412,78 412,360 290.5,360 291.5,352 294,343.9 297,338 300.6,334 306,330.4 322.6,322 336,313.7 340,312.1 350.1,310 360,305.9 366,302.7 370,299 374.5,290 377.9,286 382,283.5 394,279.3 398,277.2 404,272.1 407.8,266 409.5,260 409.6,256 408.8,252 406,245.4 397.5,234 395.3,230 394.4,226 392.1,204 393.1,198 398,181.9 400.2,170 400.7,164 400.5,148 403.6,112ZM363.3,238 370,236.6 376,236.2 378,236.7 379.5,238 379.8,240 377.4,246 372,253.6 366,259.4 362,261.4 360,261 356,256.8 353.5,252 353,248 354,245.3 356.6,242 359.1,240ZM358,273.7 360,274.6 361.3,276 362.4,278 362.6,280 362,282 360.4,284 344,298.3 340,299.6 338,299 336,297.6 334,294.8 332.5,290 332.5,284 334,279.9 336,277.8 340,276Z" fill="#ea1c24"/>
</g></g>
<use href="#land"/><use href="#dots"/><use href="#frame"/><use href="#axis"/>
<polygon points="450.0,61.7 461.8,56.2 473.6,61.7 473.6,402.9 461.8,408.4 450.0,402.9" fill="url(#glin)" stroke="#444" stroke-width="0.6" stroke-linejoin="miter"/>
<g font-family="Liberation Serif, serif" font-size="27.4" fill="#000" stroke="none">
<text transform="translate(483.20,70.80) scale(1,1.05)">36</text>
<path d="M450.0,147.0h4.6M473.6,147.0h-5" stroke="#333" stroke-width="0.9" fill="none"/>
<text transform="translate(483.20,156.10) scale(1,1.05)">32</text>
<path d="M450.0,232.3h4.6M473.6,232.3h-5" stroke="#333" stroke-width="0.9" fill="none"/>
<text transform="translate(483.20,241.40) scale(1,1.05)">28</text>
<path d="M450.0,317.6h4.6M473.6,317.6h-5" stroke="#333" stroke-width="0.9" fill="none"/>
<text transform="translate(483.20,326.70) scale(1,1.05)">24</text>
<text transform="translate(483.20,412.00) scale(1,1.05)">20</text>
</g>
<text x="380.7" y="374.5" font-family="Liberation Sans, sans-serif" font-weight="bold" font-size="30.4">D</text>
</g>
<g transform="translate(0,943.05)">
<g clip-path="url(#polyclip)"><g filter="url(#soft)">
<path d="M249.2,104.8 L259.3,96.7 L308,85.4 L356.9,121 L401.8,110 L401.4,165.5 L398.5,197.6 L403.2,266.7 L386.5,289.3 L374,304.8 L357.4,315.6 L308.5,315.7 L263.7,351.8 L202.1,303.5 L240.2,261.2 L261.8,191.3 L253.1,157.6 L251,127.1Z" fill="#50b446"/>
<path d="M240.9,78 412,78 412,360 194,360 194,134 233.9,148 242,149.6 246,149.6 252,148 258,144.4 262,140.7 264,137.6 264.4,132 262.7,128 260.2,126 258,125.4 256,125.6 248,130 244,130.3 240,128.6 238,126.9 235,122 233.9,116 234.2,112 235.3,108 238.7,102 243.9,96 245.1,94 245.4,92 244.7,88Z" fill="#54b547"/>
<path d="M244.1,78 412,78 412,360 194,360 194,139.9 223.6,152 230,154.2 238,156.1 244,156.4 250,155.4 256,153.1 260,150 264,143.6 266.5,138 266.2,132 264.8,128 262,124.5 258,122.4 254,121.7 248,121.7 244,120.4 241.4,118 239.7,114 239.7,110 241,106 244,102 248.9,98 250.3,96 250.1,92Z" fill="#58b749"/>
<path d="M246.7,78 412,78 412,360 194,360 194,145.2 220.3,156 230,158.9 238,160.3 244,160.4 250,159.2 258,155.5 261.7,152 268,140 267.9,134 266,127.4 262,122.5 256,118.9 248,116.3 245.4,114 244.4,112 244.5,108 245.4,106 248,103.3 253.3,100 254.5,98 254,93.7Z" fill="#5cb94b"/>
<path d="M249,78 412,78 412,360 194,360 194,149.9 219.7,160 228,162.2 238,163.5 244,163.4 250.6,162 258,158.2 262,154.6 268.9,142 269.5,140 269.4,136 268,129.7 265,124 258,117.3 250,112.2 248.8,110 248.9,108 250.3,106 256,102.1 257.4,98 256,92.8Z" fill="#61ba4c"/>
<path d="M251,78 412,78 412,360 194,360 194,154.2 208.7,160 220,163.6 230,165.7 238,166.3 246,165.7 252,163.9 258,160.4 262,156.8 264,154.2 270,142.8 270.7,140 270.4,136 267.4,126 264,121.2 257.5,114 254.9,110 255.1,108 258.5,102 259.1,98 258,93.4Z" fill="#65bc4e"/>
<path d="M252.8,78 412,78 412,360 194,360 194,158.1 209.9,164 218,166.3 228,168.2 238,168.6 246,167.9 252.2,166 258,162.5 264,156.3 270.7,144 271.7,140 271.6,138 270,130.8 268,125.4 261.2,116 258.8,112 258.4,108 260.5,100 260.2,96Z" fill="#69bd4f"/>
<path d="M254.4,78 412,78 412,360 194,360 194,161.7 208,166.6 218,169.3 228,170.7 238,170.8 246,169.8 254,167.1 258,164.4 264,158 271.7,144 272.3,142 272.5,138 269,126 262.6,116 260.7,112 260.2,108 261.6,100 261.3,96Z" fill="#6ebf51"/>
<path d="M255.8,78 412,78 412,360 194,360 194,165.1 208,169.7 218,172 228,173 238,172.8 246,171.6 254,168.8 258,166.2 264,159.6 267.6,154 272,145.5 273.2,142 273.2,138 269.7,126 263.8,116 262.1,112 261.5,108 262.5,100 262.3,96Z" fill="#72c153"/>
<path d="M257.2,78 412,78 412,360 194,360 194,168.4 208,172.6 218,174.6 228,175.2 240,174.4 250,172.1 256,169.4 260,166.1 266,158.4 272.6,146 274,142 274,138 270.4,126 264.8,116 263.2,112 262.6,108 263.4,100 263.1,96Z" fill="#76c254"/>
<path d="M258.4,78 412,78 412,360 194,360 194,171.4 206,174.9 216,176.8 226,177.4 238,176.4 248,174.2 256,170.9 260,167.8 266,159.8 270,153 274,144.6 274.6,142 274.6,138 270.9,126 265.7,116 264.2,112 263.6,108 264,96Z" fill="#7dc455"/>
<path d="M259.6,78 412,78 412,360 194,360 194,174.4 206,177.6 214,179 224,179.5 234,178.8 246,176.2 254,173.3 260,169.3 264,164.2 268.1,158 273.3,148 274.9,144 275.4,140 274.8,136 272,127.4 265,112 264.5,108 264.7,96Z" fill="#86c655"/>
<path d="M260.7,78 412,78 412,360 194,360 194,177.2 206,180.2 214,181.4 224,181.6 234,180.5 244,178.2 254,174.5 260,170.8 264,165.7 270,156.1 274,148.2 275.5,144 276,140 275.3,136 272,126 267.2,116 265.9,112 265.3,108 265.4,96Z" fill="#8ec955"/>
<path d="M261.7,78 412,78 412,360 194,360 194,180 206,182.7 214,183.7 222,183.8 232,182.6 244,179.7 254,175.7 260,172.1 264,167.2 269.7,158 274,149.8 276.2,144 276.5,140 275.9,136 274,130 266.6,112 266.1,108 266.1,96Z" fill="#97cb55"/>
<path d="M262.7,78 412,78 412,360 194,360 194,182.7 206,185.2 214,186.1 222,185.9 232,184.4 244,181.1 254,176.9 260,173.2 264,168.6 270,158.9 274.6,150 276.8,144 277.1,140 275.2,132 267.3,112 266.8,108 266.7,96Z" fill="#9fcd55"/>
<path d="M263.7,78 412,78 412,360 194,360 194,185.3 204,187.4 212,188.3 220,188.2 230,186.7 242,183.2 252,179 260,174.3 264,169.9 270.1,160 275.3,150 277.4,144 277.6,140 276,132.8 268,112 267.4,108 267.3,96Z" fill="#a8cf55"/>
<path d="M264.6,78 412,78 412,360 194,360 194,187.9 206,190.2 214,190.7 222,190.1 232,188 244,183.8 256,177.9 262,173.5 266,168.1 272,158 276,150 278,144 278.2,140 276.2,132 268.6,112 268.1,108 267.9,96Z" fill="#b1d155"/>
<path d="M265.5,78 412,78 412,360 194,360 194,190.5 204,192.4 212,193 220,192.5 230,190.3 242,186.1 254,180.2 262,174.5 266,169.3 271.7,160 276,151.5 278.1,146 278.7,142 278.4,138 277.4,134 269.3,112 268.7,108 268.2,94Z" fill="#b9d352"/>
<path d="M266.4,78 412,78 412,360 194,360 194,193.1 206,195.1 214,195.3 224,193.9 234,190.8 248,184.6 258,178.6 264,173.2 268.8,166 277.4,150 279.1,144 279.2,140 278,134 271.7,118 269.9,112 269.2,106 269,96Z" fill="#c1d54e"/>
<path d="M267.2,78 412,78 412,360 194,360 194,195.6 206,197.6 214,197.7 224,196 234,192.6 250,184.8 260,178 264.2,174 270.8,164 278,150 279.6,144 279.7,140 278.5,134 272.9,120 270.5,112 269.7,106 269.5,96Z" fill="#c8d74a"/>
<path d="M268.1,78 412,78 412,360 194,360 194,198.2 206,200.1 214,200.1 222,198.8 232,195.3 246,188.3 258,180.6 264,175.1 271.5,164 278.7,150 279.9,146 280.3,142 279,134 273.4,120 271,112 270.3,106 270,95.2Z" fill="#d0d845"/>
<path d="M268.9,78 412,78 412,360 194,360 194,200.8 206,202.6 214,202.6 222,201.1 232,197.3 246,189.7 258,181.6 264,176 272.3,164 279.4,150 280.5,146 280.9,142 279.5,134 273.9,120 271.6,112Z" fill="#d8da41"/>
<path d="M269.7,78 412,78 412,360 194,360 194,203.3 206,205.2 214,205.2 222,203.6 230,200.4 246,191.2 258,182.6 264.7,176 273.1,164 280,150 281.1,146 281.4,142 280,134 275,122 272.1,112Z" fill="#e0dc3d"/>
<path d="M270.5,78 412,78 412,360 194,360 194,205.9 206,207.9 214,207.9 222,206.2 230,202.7 248,191.3 260,181.9 266,175.3 275,162 280.7,150 281.7,146 281.9,142 280.5,134 275.5,122 272.7,112 271.9,106Z" fill="#e6d837"/>
<path d="M271.3,78 412,78 412,360 194,360 194,208.6 206,210.7 214,210.8 222,209.1 230,205.3 248,192.8 260,182.9 266,176.2 275.8,162 281.3,150 282.5,142 281.1,134 275.9,122 273.2,112 272.3,104Z" fill="#ebd432"/>
<path d="M272.1,78 412,78 412,360 194,360 194,211.2 206,213.6 214,213.9 220,212.8 228,209.3 242,199.1 260,184 266,177.2 276.6,162 282,150 283.1,142 281.6,134 276.4,122 273.7,112 272.1,90Z" fill="#f1cf2c"/>
<path d="M272.9,78 412,78 412,360 194,360 194,213.9 206,216.6 214,217.2 222,215.6 228,212.6 236,206.4 260,185.1 266,178.1 277.4,162 282.7,150 283.7,142 282.2,134 276.9,122 274.3,112 272.7,92Z" fill="#f7cb26"/>
<path d="M273.7,78 412,78 412,360 194,360 194,216.7 206,219.7 214,220.8 218,220.6 222,219.6 228,216.5 234,211.4 260,186.3 266,179.1 278.2,162 282.8,152 284.1,146 284.3,142 282.7,134 277.3,122 274.8,112 273.2,92Z" fill="#fac622"/>
<path d="M274.5,78 412,78 412,360 194,360 194,219.4 208,223.6 216,224.9 222,224.4 228,221.4 232,217.7 245.8,202 262,185.2 279.1,162 283.5,152 284.8,146 284.9,142 283.3,134 277.8,122 275.3,112 273.8,94Z" fill="#fac221"/>
<path d="M275.4,78 412,78 412,360 194,360 194,222.3 210,227.9 218,230.1 224,230.3 228,228.6 232,224.4 246.3,204 264,183.9 280,162 284.2,152 285.4,146 285.5,142 283.9,134 278.3,122 275.9,112 274.2,94ZM236,258.5 234.8,262 236,266 238,267.3 240,266.7 240.7,264 240,260.7 238,258.5Z" fill="#fabe20"/>
<path d="M276.2,78 412,78 412,360 194,360 194,225.1 198,226.5 212,233 217.6,236 223.2,240 225,242 226.9,246 229,260 230.2,264 232.1,268 234,270.4 238,273.1 240,273.4 242,273 243.3,272 245.1,268 245.2,258 244.5,254 243,250 238.1,242 236.3,238 236,232 237.9,224 241.2,216 247,206 262,187.8 279.7,164 283.7,156 285.8,148 286.1,142 285.2,136 278.1,120 276.1,110 274.7,94Z" fill="#faba1f"/>
<path d="M277,78 412,78 412,360 194,360 194,228 198,229.6 206.3,234 212.3,238 216.8,242 219.8,246 221.8,250 228,266.7 230,270.2 234,274.9 238,278 242,279.8 246,279.9 248,278.5 249.6,274 249.4,264 250.7,252 249.4,246 244.5,236 243.2,232 242.5,226 243.8,218 247,210 250.5,204 280.6,164 284.5,156 286.5,148 286.8,142 285.8,136 278.6,120 276.4,108 275.2,92Z" fill="#fab51e"/>
<path d="M277.9,78 412,78 412,212.3 396,205.9 390,204.5 384,204.6 370,206.9 352,207.6 348,208.7 342,211.8 322,227.2 316,231 310,233.7 300,236.6 284,239.3 270,246 266,247.3 264,247.1 262,246.1 258,242.6 252,235.7 248,228.3 246.9,222 248.1,214 250.4,208 253.9,202 272,176.2 281.6,164 285.3,156 287.2,148 287.4,142 286.4,136 285,132 279.2,120 276.7,106 275.7,92ZM194,231 196,231.6 202,235 209,240 213.2,244 218,251 224.8,266 228,271.8 232,277.2 243.3,290 245.5,294 247.1,300 247.4,314 247.9,318 250,322 254,325.1 258,326.7 264,327 278,322.4 282,321.8 286,321.9 292,323.3 310,330.7 322,334.4 338,337.7 352,339.1 364,339.3 378,338.6 394,336.7 412,333.9 412,360 194,360Z" fill="#fab11c"/>
<path d="M278.8,78 412,78 412,193.4 402,192.4 390,189.6 386,189.4 380,190.3 366,194.3 350,198 344.6,200 338.3,204 314,222.8 308,226.2 300,229.3 270,235.5 266,235.4 262,234.4 256,230.6 252.6,226 250.8,220 250.9,214 252.6,208 255.8,202 271.6,178 282.7,164 285.5,158 287.6,150 288.2,144 287.6,138 285.7,132 279.7,120 276.7,102 276.2,92ZM194,234 198,235.8 204.1,240 208.6,244 212.2,248 216.1,254 225.5,272 237.1,290 239.4,296 240.5,302 240.5,318 241,322 242.6,326 246,330.1 256,338 264,342.1 270,343.6 280,344.8 286,346.3 318.8,358 323.1,360 194,360Z" fill="#faad1b"/>
<path d="M279.8,78 412,78 412,174.3 400,173.9 392,175.1 386,177.3 370,184.7 344,194.2 337.4,198 310,218.5 303.8,222 296,225.3 288,227.5 274,229.7 266,229.1 260,226.6 256,222.4 254.3,218 253.9,214 254.9,208 258.9,200 270,181.9 274,176 281,168 283.7,164 286.4,158 288.7,148 288.8,142 287.8,136 286.4,132 280.2,120 277.2,102 276.8,92ZM194,236.9 200,240.4 206,245.5 210.1,250 215.4,258 232.3,288 234.8,294 236.5,302 236.8,308 236.4,320 236.8,324 238,327.4 240,330.8 248,340 258,348.7 264,352.6 275.9,358 279.2,360 194,360Z" fill="#faa91a"/>
<path d="M280.8,78 412,78 412,159.2 398,160.4 392.6,162 388.3,164 372,177.2 366,180.3 339.1,192 306,215.2 294,221.6 286,224.1 276,225.5 268,224.6 262.2,222 260,220 257.7,216 257,212 258,206 263.8,194 270,183.4 274,177.4 282.1,168 284.8,164 287.3,158 289.2,150 289.6,144 289,138 287.1,132 280.9,120 277.5,100 277.2,94 277.6,90ZM194,240 196,240.7 202,245.3 210,254.2 216,263.6 229.4,288 231.7,294 233.1,300 233.7,308 233.6,324 234.7,328 236.5,332 240,337.5 246,345 252,351.3 261.5,360 194,360Z" fill="#faa519"/>
<path d="M281.8,78 412,78 412,148.4 394,153.3 386,156.9 381.7,160 373,170 368,174.1 338,188.4 320,201.2 308.1,208 298,215.1 292,218.4 286,220.6 278,221.8 272,221.3 266,219.1 262.4,216 260.4,212 260.1,208 261,204 265.2,194 270,185.2 274.7,178 283.4,168 285.9,164 288.7,156 290.2,148 290.3,142 289.3,136 286.9,130 281.5,120 278,99.8 277.7,94 278.2,90ZM194,242.8 198,245.2 203.3,250 208,255.4 215.1,266 225.1,284 228.6,292 230.5,300 231.2,308 231,322 232.5,330 236,337.6 240,343.9 253,360 194,360Z" fill="#f9a11a"/>
<path d="M283,78 412,78 412,136.1 401.7,142 390,147.1 384,150.5 378,156 368.9,168 364,171.9 336,185.6 318,198.6 304,204.9 292,214.5 286,217.3 280,218.4 274,217.9 270,216.4 266,213.6 263.7,210 263.2,206 264.4,200 267.5,192 272,183.9 276,178 284.8,168 287.1,164 289.6,156 291,148 291.1,142 290.1,136 287.7,130 282,119.6 278.4,98 278.2,94 278.8,90ZM194,246 196,246.7 200,250 208,258.9 216,271.1 223,284 226.3,292 228.3,300 229,308 228.9,324 230.6,332 236,343.9 246.9,360 194,360Z" fill="#f89e1a"/>
<path d="M284.2,78 398.4,78 403.2,86 405.8,92 407.3,98 407.7,104 407.1,110 405.5,116 402.7,122 400.2,126 395.1,132 378,146.5 374,152 368.5,162 364,167.3 358,171.2 336,181.6 322,192.5 316,196.2 312,197.8 302,200 300,201.5 294.8,208 290,212 286,214.1 280,215.3 274,214.2 270,211.7 267,208 266.1,204 266.9,198 269.8,190 276,179.9 284.8,170 287.4,166 289.6,160 291.3,152 292,144 290.9,136 288.6,130 283.8,122 282.3,118 279,98 278.9,94 279.5,90ZM194,248.5 198,251.2 202.8,256 208,262.3 216.9,276 222.9,288 225,294 226.6,302 226.9,324 228.2,332 232.8,344 241.9,360 194,360Z" fill="#f79b1b"/>
<path d="M285.5,78 365.5,78 373.8,88 377.6,94 380.5,102 381.1,110 379.4,122 377.8,128 370,143.5 365.7,158 361.9,164 356,168.2 342,174.3 336,177.5 332,180.3 320.9,190 316,193.1 310,195.1 302,195.1 298.5,196 296.7,198 293.5,204 290,208.1 286,210.8 280,212.1 276,211.3 271.2,208 269,204 268.7,200 269.8,194 272.4,188 278,179.4 284.9,172 288,167.6 290.1,162 292.2,152 292.8,144 291.8,136 289.5,130 283.7,120 279.5,98 279.5,94 280.2,90 282,85ZM194,251.3 198,254.1 208,265.4 216,277.8 221,288 223.2,294 224.8,302 225,324 226.5,334 230,344.5 237.7,360 194,360Z" fill="#f6981b"/>
<path d="M287.1,78 340.4,78 341,84 340.8,88 337.5,100 338,100.4 346,98.8 350,98.8 356,100.5 360,103 364,107.7 365.9,112 366.8,116 366.9,122 365.8,128 361.5,140 361.7,150 361,156 359.3,160 357.7,162 352,165.6 340,170.6 336,172.8 330,177.7 321.9,186 316,190.2 310,192.2 300,191.6 296,192.8 294,195.2 290.9,202 288,205.7 284,208.3 280,208.9 276,207.7 273.9,206 272.4,204 271.3,200 271.8,194 274,188.5 278,182.1 287,172 289.4,168 292.5,156 293.7,146 293.2,138 291.5,132 285.6,122 283.9,118 280.2,98 280.1,94 281.7,88ZM194,254 198,256.9 206,265.8 214.3,278 220.1,290 222,296 223.1,302 223.2,324 224.3,334 227.9,346 234,360 194,360Z" fill="#f5951c"/>
<path d="M289,78 329.2,78 329.9,84 329.5,88 326,100.6 325.3,106 326,110.8 328,115.7 330,117.8 332,117.9 342,112.3 346,111.3 350,111.6 354,113.7 356.1,116 357.7,120 358.1,124 355.1,138 354.8,154 354,156.5 352,159.2 348,162 338,165.6 334,168.2 322.5,182 316,187.5 310,189.5 298,188.6 294,189.9 291.8,192 288,200 286,202.6 284,204.2 280,205.1 278,204.4 275.6,202 274.3,198 274.6,194 275.8,190 278,186 282,180.6 288,174 290.4,170 292.9,160 294.6,146 294.4,140 293.2,134 291.7,130 286,120.8 284.8,118 280.9,98 280.8,94 282,89.3 284,85.2ZM194,256.7 198,259.6 208,271.2 214.8,282 219.2,292 220.9,298 221.7,304 221.4,324 222.3,334 225.3,346 230.6,360 194,360Z" fill="#f3911c"/>
<path d="M291.3,78 321.2,78 323,84 323.3,88 321.1,104 320.9,112 322,127.1 323.9,134 326,136.7 328,137.7 330,137.8 332,137 335.8,134 339,130 342,122.3 344,121 346,121.1 348,123 348.6,126 348,144.7 347.2,150 345.1,154 342.5,156 336,158.1 334,159.3 332,161.6 325.6,174 321.3,180 318,183.4 314,185.9 310,187.1 306,187 296,185.1 292,185.4 288.1,188 286.5,190 284,195.1 282,197 280.2,196 279.9,194 282,188.1 290,176.8 292,172 294.3,158 295.6,146 295.5,140 294.4,134 292.9,130 285.8,118 281.6,98 281.6,94 282.7,90 286,84.2ZM194,259.3 198,262.3 208,274 214.2,284 218.4,294 220.2,304 219.7,324 220.3,334 222.8,346 227.5,360 194,360Z" fill="#f28e1d"/>
<path d="M294.9,78 313.4,78 316.2,82 317.8,86 318.5,90 318.4,96 316.6,114 317.7,128 319.4,134 321.2,138 328.5,146 329.6,148 329.9,150 329.5,154 326.3,166 323,174 320,178.4 316.4,182 314,183.5 310,184.7 306,184.6 300,182.8 296,180 294.9,178 294.7,168 296.8,144 296.5,138 294.4,130 288,119.9 286.4,116 282.3,96 282.9,92 284.8,88 288,83.9ZM194,262 196,263 200,266.9 208,276.6 213.7,286 217,294 218.4,300 218.7,304 218,326 218.7,336 220.5,346 224.6,360 194,360Z" fill="#f18b1d"/>
<path d="M299.2,80 304,79.8 308,81.2 311.3,84 313.5,88 314.6,96 312.4,114 313,124 315.9,134 319.2,140 324.9,148 325.8,152 323.8,166 321.9,172 319.5,176 316,179.9 314,181.2 310,182.5 306,182.4 302,180.8 298.9,178 297.9,176 296.8,172 296.3,166 298.1,142 297.4,134 295.3,128 288,116.7 283.4,98 283.4,94 284,91.8 288,86 294,81.8ZM194,264.3 196,265.5 206,276.5 212.1,286 216.2,296 217.3,304 216.3,326 216.7,336 218.2,346 221.8,360 194,360Z" fill="#f0881e"/>
<path d="M295.2,84 300,83.4 304,84.3 306.6,86 309.5,90 310.7,94 310.9,100 307.7,116 308.3,124 311.2,132 314.9,138 321,146 322.9,150 323.3,152 323.3,156 321.8,166 319.9,172 316,177.5 314,179.1 310,180.5 306,180.2 302.1,178 300.5,176 298.8,172 297.8,164 298.2,152 299.7,140 299.4,132 296.9,126 292,120.1 289.5,116 288,112.2 284.4,98 284.5,94 286.4,90 290,86.4ZM194,266.8 198,269.8 206,279 211.7,288 214.9,296 215.9,304 214.7,326 214.9,336 216,346 219.1,360 194,360Z" fill="#ee831f"/>
<path d="M291.4,88 296,86.8 300,87.3 304,89.7 306.6,94 307.4,98 307,104 305.8,108 300,120.5 298,120.6 296,119.7 292,116.1 290,112.5 286,100.1 285.6,96 286,93.6 288,90.4ZM304,135.1 306,134.4 308,135.3 312,138.6 318.7,146 321.3,152 321.1,158 319.1,170 316.9,174 315.1,176 312,178 310,178.5 306,178 303,176 300.6,172 299.5,168 299.2,156 299.6,150 302,139.8ZM194,269.2 198,272.2 206,281.5 211.2,290 214.1,298 214.6,304 213,326 213,336 214,346.7 216.5,360 194,360Z" fill="#eb7f20"/>
<path d="M289.4,92 292,90.5 296,90.2 300.1,92 302,94 303.1,96 303.8,100 302.6,106 300,110.5 298,112.6 296,113.4 294,112.7 292,110.7 288,101.5 287.3,96 288,93.7ZM304.1,142 306,140.5 308,140.2 312,142 316.4,146 318,148.2 319.5,152 319.5,158 318.5,166 317.4,170 314,174.8 310,176.6 306,175.9 304,174.4 302.4,172 300.9,168 300.5,164 300.5,152 302,145.9ZM194,271.5 198,274.5 206,283.9 210,290.4 212.9,298 213.3,304 211.4,326 211.1,336 212,347.9 214,360 194,360Z" fill="#e87b21"/>
<path d="M293.7,94 296,94.7 297.8,96 299.3,100 298.5,104 296,106.5 294,106.3 292,104.3 290.1,100 290.2,96 292,94.3ZM306.2,144 308,143.4 310,143.7 314,146 317.1,150 318.3,154 317,166 316,169.3 314,172.6 312,174.1 310,174.8 306.5,174 304.3,172 302,166 301.4,156 301.7,152 304,146ZM194,274 198,276.8 204.3,284 209.4,292 211.6,298 212.1,304 209.7,326 209.3,336 209.9,348 211.5,360 194,360Z" fill="#e67722"/>
<path d="M306,146.9 308,146 312,146.8 315.3,150 316.8,154 316.8,158 314.9,168 313.9,170 312.1,172 310,172.8 308,172.7 306,171.4 304,168.1 303.4,166 302.6,154 303.7,150ZM194,276.1 198,279.1 204,286 208.9,294 210.8,300 210.8,304 208.3,324 207.4,336 207.7,348 209.1,360 194,360Z" fill="#e37223"/>
<path d="M305.5,150 308,148.3 310,148.2 312,149 314,150.9 315.4,154 315.5,158 314,165.7 312,169.4 310,170.6 308,170.4 306,168.4 304.4,164 303.6,156 304,153.1ZM194,278.4 198,281.4 203.7,288 207.5,294 209.5,300 209.6,304 206.6,324 205.5,336 205.6,348 206.6,360 194,360Z" fill="#e06e24"/>
<path d="M306,152 308,150.4 310,150.2 312,151.2 314,154.1 314.3,158 313.4,162 312,165.8 310,167.7 308,167.3 306,164.2 305.4,162 304.7,156ZM194,280.7 198,283.7 202,288.2 206,294 208.3,300 208.3,304 204.9,324 203.6,336 203.4,348 204.2,360 194,360Z" fill="#de6a25"/>
<path d="M308,152.7 310,152.3 312,153.7 312.9,156 313,158 312,161.7 310,164.1 308,163.6 306.2,160 305.9,156ZM194,283 196,284.2 202,290.6 205.5,296 206.9,300 207,304 203.2,324 201.7,336 201.2,348 201.8,360 194,360Z" fill="#db6526"/>
<path d="M307.7,156 310,154.9 310.9,156 311.2,158 310,160.7 308,160 307.5,158ZM194,285.3 196,286.6 202,293.2 204.7,298 205.6,302 201.1,326 199.7,336 199,348 199.4,360 194,360Z" fill="#d86128"/>
<path d="M194,288 196,289 200.5,294 202.9,298 204,302 197.7,336 196.7,348 196.8,360 194,360Z" fill="#d95c28"/>
<path d="M194,290.4 196,291.7 199.6,296 201.7,300 202.1,304 194,343.3Z" fill="#db5727"/>
</g></g>
<use href="#land"/><use href="#dots"/><use href="#frame"/><use href="#axis"/>
<polygon points="450.0,61.7 461.8,56.2 473.6,61.7 473.6,402.9 461.8,408.4 450.0,402.9" fill="url(#gdo)" stroke="#444" stroke-width="0.6" stroke-linejoin="miter"/>
<g font-family="Liberation Serif, serif" font-size="27.4" fill="#000" stroke="none">
<text transform="translate(483.20,70.80) scale(1,1.05)">10</text>
<path d="M450.0,137.5h4.6M473.6,137.5h-5" stroke="#333" stroke-width="0.9" fill="none"/>
<text transform="translate(483.20,146.62) scale(1,1.05)">8</text>
<path d="M450.0,213.3h4.6M473.6,213.3h-5" stroke="#333" stroke-width="0.9" fill="none"/>
<text transform="translate(483.20,222.44) scale(1,1.05)">6</text>
<path d="M450.0,289.2h4.6M473.6,289.2h-5" stroke="#333" stroke-width="0.9" fill="none"/>
<text transform="translate(483.20,298.27) scale(1,1.05)">4</text>
<path d="M450.0,365.0h4.6M473.6,365.0h-5" stroke="#333" stroke-width="0.9" fill="none"/>
<text transform="translate(483.20,374.09) scale(1,1.05)">2</text>
</g>
<text x="385.3" y="366.6" font-family="Liberation Sans, sans-serif" font-weight="bold" font-size="30.4">E</text>
</g>
<g transform="translate(602.0,943.05)">
<g clip-path="url(#polyclip)"><g filter="url(#soft)">
<path d="M249.2,104.8 L259.3,96.7 L308,85.4 L356.9,121 L401.8,110 L401.4,165.5 L398.5,197.6 L403.2,266.7 L386.5,289.3 L374,304.8 L357.4,315.6 L308.5,315.7 L263.7,351.8 L202.1,303.5 L240.2,261.2 L261.8,191.3 L253.1,157.6 L251,127.1Z" fill="#4a55a5"/>
<path d="M194,78 412,78 412,280 409.7,282 406,287.8 404,292.2 402.3,298 398.7,334 393.5,360 194,360ZM315.2,128 314.2,130 315.4,132 318,134.3 320,135.3 322,135.6 324.7,134 325.6,132 325.3,130 324,128.4 320,127.4Z" fill="#4856a6"/>
<path d="M194,78 412,78 412,278.4 409.9,280 406,285.5 403.7,290 401.6,296 400.3,304 397.5,334 392.1,360 194,360ZM309.2,126 307.7,128 308.7,130 318,137 322,138.4 324,137.7 326,135.8 327.2,132 326.8,130 325.6,128 324,127 320,126Z" fill="#4657a7"/>
<path d="M194,78 412,78 412,276.9 410,278.3 405.7,284 402.5,290 400.5,296 399.4,302 396.4,334 390.8,360 194,360ZM286,109.7 284,110.1 282,111.7 281.5,114 282.3,116 284,117.8 286,118.7 288,118.8 290,118.2 294.2,116 296.1,114 295.7,112 292.5,110ZM304,122.8 302.1,124 300.7,126 299.7,128 299.7,130 302.7,132 312,135.4 320,141 322,141.6 324,141.2 326,139.1 328,135.1 328.4,132 328,129.9 326,127.2 324.2,126 322,125.5 308,122.8Z" fill="#4458a8"/>
<path d="M194,78 412,78 412,275.4 410,276.8 405.8,282 402.3,288 399.9,294 398.4,302 396.8,322 395.2,334 392.9,346 389.4,360 194,360ZM280,107.3 276.9,110 276,114 276.7,118 278.9,124 279.7,132 281.1,134 284.9,136 292,137.2 304,136.1 310,137.1 314,139.3 316.9,142 321,146 326,152.4 328,152 327.1,144 329.4,134 328.9,130 328,128 326,126.2 324,125.3 314,122.9 306,119.7 303.4,118 298.7,110 296,108 286,106.2Z" fill="#4258a8"/>
<path d="M194,78 412,78 412,274 408,277.4 404.6,282 401.2,288 398.8,294 397.3,302 395.7,322 394.1,334 391.7,346 388,360 194,360ZM278,105.2 274.6,108 273.6,110 272.9,114 274.1,130 275,134 276.1,136 280,138.5 286,139.6 294,139.9 304,138.8 310,139.8 312,140.9 315.3,144 324,156.1 328,157.9 330,157.4 331.2,156 331.8,152 329.7,142 330.3,132 329.8,130 328,127.1 324,124.6 316,122.6 308,119 304.6,116 300,108.7 296,106.1 284,104Z" fill="#4059a9"/>
<path d="M194,78 412,78 412,272.8 408,275.9 404,281.2 400.1,288 397.8,294 396.3,302 394.9,320 393.3,332 390.9,344 386.7,360 194,360ZM276,103.8 273.3,106 271.9,108 270.4,114 271.2,132 272.3,136 274,138.4 278,140.7 282,141.6 292,142 304,141.2 308,141.9 311.8,144 313.8,146 321,156 324,158.7 328,160.3 330,160.2 332,159.2 333.7,156 333.7,152 331.3,140 331,132 330,128.8 328,126.2 324.1,124 314,121 308.7,118 304.9,114 301.1,108 298,105.6 293.4,104 284,102.3 280,102.4Z" fill="#3e5aaa"/>
<path d="M194,78 412,78 412,271.5 408,274.5 403.7,280 399,288 396.7,294 395.6,300 393.9,320 392.2,332 389.7,344 385.3,360 194,360ZM276,101.8 272.6,104 270.8,106 268.9,110 268.2,114 268.8,132 270,136.9 272.2,140 276,142.4 282,143.6 302,143.3 306,143.8 310,145.7 312,147.4 320,157.6 324,160.7 327.6,162 330,162.1 332,161.6 334,160.1 335.3,156 334.6,148 332.6,140 331.8,132 330.3,128 328.6,126 325.4,124 316,121.1 310.3,118 306.3,114 302,107.4 298,104.5 290.2,102 284,100.8 280,100.7Z" fill="#3f65b2"/>
<path d="M194,78 412,78 412,270.4 408,273.2 404,278.1 399,286 396,292.9 394.6,300 392.9,320 391.1,332 388.5,344 384,360 194,360ZM278,99.5 274,101 270.1,104 268,107.1 266.9,110 266.2,116 266.6,130 267.5,136 270,140.7 274,143.6 280,145.2 300,145.1 306,146.1 310,148.5 318.1,158 323.2,162 326,163.2 330,163.8 334,162.4 335.9,160 336.5,158 336.1,150 332,130.3 329.3,126 326,123.8 318,121.3 311.6,118 307.4,114 302,106.1 299.1,104 294,102 286,99.8 282,99.2Z" fill="#3f71ba"/>
<path d="M194,78 412,78 412,269.2 408,271.9 404,276.6 398,286 395.3,292 393.9,298 392.1,318 390,332 387.3,344 382.6,360 194,360ZM278,98 274,99.3 269.7,102 266.5,106 265.1,110 264.5,118 264.9,130 266,137.2 268,141.2 272,144.5 278,146.6 284,147.1 298,146.7 304,147.5 308.6,150 317.9,160 322,163 328,165.2 332,165.1 334.4,164 336,162.6 337.3,160 337.7,156 337.4,152 336.1,144 332.5,130 330,126 326,123.4 318,120.7 312,117.4 308.4,114 302.9,106 300,103.6 296,101.7 286,98.7 282,97.9Z" fill="#407cc2"/>
<path d="M194,78 412,78 412,268.2 408,270.8 404,275.3 398.2,284 394.3,292 392.9,298 391.1,318 389.3,330 386.1,344 381.2,360 194,360ZM274,97.7 269.7,100 265.6,104 263.8,108 263,112 263,124 263.8,134 265.4,140 268,143.6 272,146.4 278,148.3 284,148.8 298,148.3 302,148.9 305.1,150 308,151.9 316,160.3 322,164.6 326,166.2 330,166.8 334,166.1 336,164.8 337.9,162 338.5,160 338.7,156 338,149.1 333.1,130 330.6,126 328,123.9 317.7,120 312,116.6 309.3,114 303.9,106 301.8,104 298.5,102 292,99.5 282,96.8 278,96.7Z" fill="#4188ca"/>
<path d="M194,78 412,78 412,267.2 408,269.6 403.9,274 397.2,284 393.3,292 391.9,298 390.4,316 388.2,330 384.9,344 379.8,360 194,360ZM276,95.7 272,97.1 267.2,100 263.5,104 261.9,108 261.3,116 262,131.1 263.9,140 266,143.6 268.5,146 271.9,148 278,149.9 284,150.4 296,149.9 302,150.7 306,152.7 315.6,162 322,166.1 326,167.7 330,168.4 334,167.8 336,166.8 338,164.7 339.1,162 339.7,158 339.2,152 338,144.6 334,131.1 332.7,128 331.2,126 328,123.5 318,119.6 312.2,116 308.7,112 304,105.2 300,102 294,99.3 284,96.1 280,95.4Z" fill="#4594d2"/>
<path d="M194,78 412,78 412,266.2 408,268.5 403,274 396.3,284 392.3,292 391,298 389.4,316 387.1,330 384,342.7 378.4,360 194,360ZM272,95.6 267.3,98 262.8,102 260.7,106 259.8,110 260,124 261.1,134 262.5,140 264,143.1 266,145.7 272,149.8 278,151.6 284,152 296,151.5 302,152.6 306,155 316,164.3 320,166.7 326,169.1 332,169.8 336,168.7 338,167.2 339.9,164 340.3,162 340.5,156 339.8,150 338.6,144 334.2,130 331.7,126 328,123.1 318,119.1 314,116.7 311,114 304,104.3 298,100.2 282,94.6 278,94.3Z" fill="#4ba0d9"/>
<path d="M194,78 412,78 412,265.3 407.4,268 402,274 394.2,286 391.4,292 390.1,298 388.2,318 386.1,330 382.4,344 377,360 194,360ZM274,93.7 267.9,96 262.2,100 259.5,104 258.3,108 258.3,118 259.5,132 261.3,140 264.6,146 270,150.5 278,153.4 284,153.8 296,153.2 300.6,154 304.3,156 312,163.2 315.7,166 326,170.7 332,171.5 336,170.6 338,169.6 340,167.4 341.2,164 341.5,158 340.9,152 338.7,142 334.7,130 332.3,126 328,122.8 318,118.6 313.9,116 310.2,112 304.4,104 300,100.6 294,97.7 284,94.1 278,93.2Z" fill="#51ade0"/>
<path d="M194,78 412,78 412,264.4 408,266.5 404,270.3 395.7,282 391.2,290 389.5,296 387.5,316 385,330 381.2,344 375.6,360 194,360ZM270,93.6 264,96.5 260,99.9 257.5,104 256.5,108 257.3,124 258.6,134 260.9,142 264,147.3 270,152.2 278,155.3 284,155.8 296,155.2 300,155.9 303.5,158 314,166.9 326,172.4 330,173.2 334,173.1 337.7,172 340,170.6 341.9,168 342.5,166 342.6,162 341.7,152 339.4,142 335.2,130 332.8,126 328,122.4 320,119.1 314.7,116 310.8,112 305.2,104 302,101.2 298,98.9 282,92.6 276,92.2Z" fill="#58b9e7"/>
<path d="M194,78 412,78 412,263.5 407.5,266 403.3,270 394.9,282 390.2,290 388.6,296 386.9,314 384,329.6 380,343.8 374.1,360 194,360ZM272,91.7 265.4,94 260,97.4 256.4,102 255,106 254.9,112 257.4,134 260,142.7 264,149.2 270,154.1 278,157.4 282,158 294,157.5 298.6,158 302,159.8 309.3,166 314,169.1 326,174.2 330,175.1 334,175 338.7,174 342.1,172 343.6,170 344.4,166 342.1,150 340,142 335.6,130 333.3,126 328.1,122 320,118.7 315.5,116 311.5,112 305.9,104 300,99.3 292,95.4 282,91.7 278,91.1Z" fill="#5ec6ef"/>
<path d="M194,78 412,78 412,262.7 406.3,266 402.4,270 394,282 389.3,290 387.7,296 385.9,314 383.3,328 379.3,342 372.7,360 194,360ZM268,91.5 262,94 257,98 254.4,102 253,108 254.9,126 256.7,136 260,145.3 264,151.1 270,156 278,159.8 282,160.6 294,160.8 298,161.5 312,170.5 326,176.2 330,177 336,176.9 340.3,176 344.4,174 346.5,172 347.4,170 347.4,168 344.6,160 341.3,144 336.1,130 333.8,126 328.7,122 320,118.2 316,115.8 312.1,112 306,103.4 302,99.9 298,97.5 286,92.1 280,90.4 274,90.2Z" fill="#66c9e9"/>
<path d="M194,78 412,78 412,261.9 406,265.3 402,269.4 391.8,284 388.4,290 387.2,294 385,314 382.2,328 378,342.3 371.2,360 194,360ZM270,89.6 262.7,92 256.6,96 253.4,100 251.3,106 251.3,110 253.5,126 255.6,136 259.1,146 261.5,150 264,153.1 270,158.2 276,161.8 282,163.7 298,166.5 312,173.2 326,178.4 332,179 340,178.5 348.6,176 354,173.7 355.6,172 356,169.4 355.4,168 350,165.3 348,163.5 346,160.3 341.2,142 336.6,130 334,125.6 329.3,122 320.4,118 316,115.3 312.7,112 306,102.7 302,99.3 298,96.9 288,92.1 282,89.9 276,89Z" fill="#6ecadf"/>
<path d="M194,78 412,78 412,261.1 406.6,264 402,268.4 391,284 387.5,290 386.1,296 384,314.6 381.2,328 376.9,342 369.7,360 194,360ZM264,89.9 258,92.8 254,96.2 250.5,102 249.5,108 252.9,130 257.1,144 261.4,152 268,158.9 274,163.5 280,166.4 290,169.5 300,171.7 326,180.4 334,180.8 342,180.3 356,178.3 358,177.6 360,176 360.9,172 360,167.2 358,164.8 350,162.2 347.6,160 346,156.6 341.8,142 337,130 334.8,126 332.8,124 330,122 320,117.4 316,114.7 313.3,112 306,102 302,98.7 294,94.1 284,89.7 278,88.2 272,88.2Z" fill="#76cbd6"/>
<path d="M194,78 412,78 412,260.3 406,263.6 402,267.4 390.2,284 386.6,290 385.5,294 383.2,314 380.1,328 375.6,342 368.1,360 194,360ZM266,87.9 258,91 252,95.9 248.6,102 247.8,108 251.6,130 256.7,146 258.6,150 261.2,154 270,163.2 276,167.5 286,172.1 300,175.2 324,181.9 338,182.4 358,181.1 362,180.1 364,178.3 364.4,174 362,166 360.4,164 358,162.5 352,161 350,160 348,158.1 342.4,142 337.5,130 335.3,126 333.3,124 330,121.7 320,117 316,114.2 306,101.4 302,98.1 296,94.5 286,89.6 280,87.6 274,87Z" fill="#7ecccd"/>
<path d="M194,78 412,78 412,259.5 406,262.9 402,266.4 389.4,284 385.7,290 384.7,294 382.6,312 379.5,326 374.3,342 366.6,360 194,360ZM272,85.9 262,87.7 258,89.3 253.7,92 251.5,94 248.5,98 246.8,102 246.1,106 246.5,112 250.2,130 256.3,148 260,154.7 270,165.8 276,170.3 284,174.6 287.7,176 300,178.2 324,183.6 338,183.8 360,183.2 364,182.4 366,181.3 367,180 367.6,178 367.5,176 363.8,166 360.2,162 352,159.2 350,158.1 348.3,156 337.9,130 335.7,126 334,124.1 330,121.4 320,116.5 316.5,114 307.2,102 300,96.2 284,88 278,86.4Z" fill="#87cdc4"/>
<path d="M194,78 412,78 412,258.7 406,262.1 401.6,266 387.1,286 384.9,290 383.9,294 382,310.6 378.5,326 373,342 365,360 194,360ZM264,85.7 256,88.6 252,91.3 249.2,94 245.6,100 244.6,104 244.4,108 245.2,114 248.8,130 255.8,150 260,156.9 270,168.3 280,175.3 286,178.5 314,182.9 322,184.7 326,185.1 360,185 366,184.2 368,183 369.8,180 370,178 368.9,174 365.4,166 362,161.9 358.8,160 352,157.7 349.8,156 348,153.3 337.4,128 334.4,124 331.7,122 322,117.2 317.1,114 306,100.2 302,96.9 294,92.1 284,87.2 278,85.4 272,84.9Z" fill="#81cbbb"/>
<path d="M194,78 412,78 412,258 405.1,262 400.8,266 386.3,286 384,290 381.2,310 377.4,326 372,341.3 363.4,360 194,360ZM268,83.9 262,84.8 258,86.1 253.9,88 248.7,92 245.6,96 243.8,100 242.8,104 242.6,108 243.4,114 247.3,130 254.5,150 258,156.4 269.4,170 282,179.5 284,180.6 288,181.9 300,182.5 326,186.3 364,186.3 368,185.4 370,184 371.2,182 371.8,178 370.6,174 366.7,166 364,162.3 362,160.6 352,156.2 350,154.5 348,151.3 337.8,128 334.9,124 332,121.8 322,116.8 317.7,114 315.6,112 310,104 306.5,100 302,96.4 296,92.5 288,88.2 282,85.6 276,84.2Z" fill="#7ac9b3"/>
<path d="M194,78 412,78 412,257.2 404.2,262 400,266 384,288.3 382.7,292 380,311.7 376.3,326 370.3,342 361.7,360 194,360ZM260,83.9 254.4,86 251,88 248,90.4 244.9,94 242.7,98 241.4,102 241,110 242.6,118 246.4,132 254,152 257.5,158 269.3,172 282,182.4 284,183.5 288,184.4 300,184.3 324,187.3 348,187.2 362,187.8 368,187.1 370.2,186 372,184.2 373.1,182 373.3,178 372,174 368,166 365.1,162 362.7,160 353.9,156 350,152.9 348,149.6 338.3,128 335.3,124 332,121.5 322,116.5 318.3,114 316,111.7 310,103.3 306,99 300,94.4 290,88.4 282,84.7 276,83.2 268,82.7Z" fill="#74c8aa"/>
<path d="M194,78 412,78 412,256.4 404,261.4 400,265.2 383.3,288 381.9,292 379.5,310 375.2,326 369.9,340 360.1,360 194,360ZM264,81.8 258,83.1 254,84.5 250,86.7 246,90 242.8,94 240.7,98 239.6,102 239.1,108 240.3,116 243.6,128 252.6,152 256,158.1 268,172.6 274.5,178 282,185.3 286,186.8 300,185.9 312,186.7 324,188.3 348,188.3 364,188.9 369.5,188 372.5,186 374.6,182 374.7,178 373.3,174 368,164.1 364,159.8 354,155 350,151.4 338.7,128 335.8,124 332,121.2 322,116.1 319,114 315.2,110 309.5,102 306,98.4 300,93.8 292,88.8 284,84.7 278,82.7 270,81.5Z" fill="#6dc6a2"/>
<path d="M194,78 412,78 412,255.6 404,260.8 400,264.3 382.5,288 381.2,292 380.1,302 378.6,310 374,326.1 368,341.1 358.3,360 194,360ZM258,81.6 252,83.8 248,86.1 243.6,90 240.7,94 238.8,98 237.5,104 237.4,108 238.1,114 243.3,132 253.2,156 265.7,172 274.5,180 280,186.6 282,188.2 286,189.2 302,187.3 324,189.2 348,189.2 364,190.1 370,189.1 374,186.3 376.1,182 376,178 374.5,174 369,164 365.6,160 362,157.6 354,153.9 350,150 339.2,128 336,123.7 332,120.8 319.6,114 316,110.4 310.1,102 306,97.8 298,91.8 288,85.8 282,83 274,80.8 266,80.4Z" fill="#67c49a"/>
<path d="M194,78 412,78 412,254.8 404,260.1 399.6,264 381.7,288 380.5,292 378,308.6 372.9,326 366.2,342 356.5,360 194,360ZM260,79.5 254,81.3 248,84.2 243.2,88 239.8,92 237.7,96 235.9,102 235.5,108 236.3,114 241.6,132 251.7,156 254.4,160 264.2,172 274.4,182 280,189.9 282,191.2 284,191.6 302,188.6 324,190.1 348,190.2 364,191 370,190.3 374,188 376.8,184 377.3,182 377.2,178 375.6,174 370,164 366,159.4 354,152.8 351.1,150 348,145 339.6,128 336.8,124 332,120.5 320.2,114 316.2,110 310.6,102 306.8,98 300,92.6 290,86.1 282,82.2 272,79.2 266,78.7Z" fill="#5fc192"/>
<path d="M194,78 257.8,78 250,81.3 245.4,84 240.7,88 237.7,92 235,98 233.8,104 233.8,110 234.8,116 240.7,134 250.2,156 254,161.5 262.8,172 272.7,182 278,191.6 280,193.5 282,194.1 286,193.8 298,190.3 304,189.8 324,190.9 368,191.8 372,190.6 375.6,188 378,184 378.6,180 376.7,174 370,162.6 368,160.1 364,157.1 354.3,152 350.5,148 340,128 337.3,124 334,121.3 323.8,116 320,113.3 316.8,110 309.4,100 300,92 286,83.1 273.5,78 412,78 412,254 404,259.5 398.9,264 381,288 379.8,292 378.9,300 377.2,308 372,325.3 365.7,340 354.7,360 194,360Z" fill="#57be8a"/>
<path d="M194,78 252.2,78 244,82.9 240.3,86 236.8,90 234.5,94 233,98 231.9,104 232,110 232.9,116 238.1,132 248.8,156 254.6,164 263.3,174 271.2,182 273.6,186 276.3,194 278,196.4 280,196.9 286,195.9 298,191.7 304,190.9 368,192.7 374,190.6 377.1,188 379.2,184 379.7,180 377.8,174 370,161.3 366,157.5 356,152.1 352,148.8 348.9,144 340.5,128 337.8,124 334,121 324.4,116 320,112.8 317.3,110 310,100 302,92.8 290,84.6 277.5,78 412,78 412,253.2 402.5,260 398.1,264 380.2,288 379.1,292 378.1,300 376.3,308 370.5,326 364,340.5 352.8,360 194,360Z" fill="#4ebb82"/>
<path d="M194,78 248,78 237.8,86 234.6,90 232.5,94 230.5,100 229.9,106 230.3,112 231.5,118 237.1,134 247.3,156 253,164 269.7,182 272.8,188 274.4,198 276,199.7 278,200 284,198.6 298,193 304,192 336,192.5 364,193.8 370,193.2 374,191.8 378,188.5 380.3,184 380.7,180 378.8,174 370,160.1 366,156.6 356,151.2 352.4,148 338.2,124 334,120.6 325,116 320,112.3 310.6,100 304,93.8 292,85 280.2,78 412,78 412,252.3 402,259.8 397.4,264 380,287.1 378.8,290 376,305.9 370,324.3 362,341.4 350.9,360 194,360Z" fill="#46b87b"/>
<path d="M194,78 244.4,78 235.4,86 232.4,90 229.6,96 228.6,100 228,106 228.3,112 229.5,118 234.4,132 244.6,154 248.3,160 251.4,164 266.6,180 269.7,184 271.8,190 272,200.9 274,202.6 276,202.8 282,201.3 298,194.3 304,193.1 336,193.3 364,194.7 370,194.2 374,192.8 378.1,190 380.7,186 381.7,182 381.5,178 380,174.3 370.8,160 366.3,156 356,150.3 353.4,148 350,143.4 338.7,124 334,120.2 322.6,114 318.4,110 311.2,100 306,94.9 296,87.1 282.4,78 412,78 412,251.4 400.9,260 396.7,264 386.6,278 379.9,286 378.1,290 376.6,300 375.1,306 368,326.1 360,342.1 348.8,360 194,360Z" fill="#3db573"/>
<path d="M194,78 241.1,78 232,87.3 229.2,92 227.6,96 226.6,100 226,106 226.4,112 227.5,118 233.3,134 240.9,150 245.3,158 249.8,164 265.3,180 268.5,184 270.4,190 269.8,202 271.1,204 274,205.1 280,203.9 298,195.7 304,194.2 336,194.1 364,195.5 370,195 376,192.7 379.4,190 381.7,186 382.7,182 382.5,178 380.9,174 371.7,160 367.5,156 357,150 354,147.6 350,142.1 339.3,124 334.2,120 323.2,114 319,110 313.4,102 308,96.1 298,87.9 284.2,78 412,78 412,250.4 396,264 387.5,276 379.1,286 377.4,290 376,299.3 374,306.4 366.8,326 359.6,340 346.7,360 194,360Z" fill="#35b26b"/>
<path d="M194,78 238,78 230,86.9 227,92 225.5,96 224.2,102 224,108 224.6,114 226,120 228.8,128 233.1,138 243.7,158 249.9,166 264,180 267.2,184 269.2,190 268.1,200 268.7,204 270.2,206 274,207 280,205.5 298,197 304,195.3 312,194.8 334,194.8 364,196.4 370,195.9 376,193.8 380,190.7 382,187.8 383.6,182 383.4,178 381.9,174 372,159.3 368,155.5 358,149.7 354,146.5 350,140.9 339.8,124 336,120.7 326.9,116 321.5,112 312.3,100 308,95.5 298,87.2 285.8,78 412,78 412,249.4 395.3,264 386.8,276 378.3,286 376.7,290 375.5,298 374,303.5 366,324.8 358,339.9 344.6,360 194,360Z" fill="#2daf64"/>
<path d="M194,78 235.1,78 226.9,88 223.4,96 222.2,102 222,108 222.6,114 223.9,120 226.7,128 231.1,138 242,158 248.2,166 262.6,180 266,184 267.1,186 267.9,190 266.9,200 267.1,204 268,206.3 270,208.1 272,208.7 276,208.3 280,207.1 298.8,198 306,196.1 334,195.6 364,197.2 372,196.3 376,194.8 380.1,192 382.9,188 384.5,182 384.4,178 382.9,174 372,158.2 368,154.7 358,148.8 354,145.4 340.3,124 336,120.3 327.5,116 322.1,112 314.5,102 309.1,96 287.3,78 412,78 412,248.4 394.5,264 386.2,276 377.6,286 376,290 374,300.6 368,317 364,326.1 356,340.4 342.3,360 194,360Z" fill="#33b060"/>
<path d="M194,78 232.3,78 224.6,88 222.7,92 220.8,98 219.9,104 220,110 222.4,122 229,138 240.2,158 246.5,166 264.8,184 265.9,186 266.8,190 265.6,202 266.1,206 268,209.2 270,210.2 272,210.4 276,209.8 280,208.5 300,198.8 306,197.3 316,196.5 334,196.3 364,198.1 372,197.2 378,194.7 381.4,192 383.9,188 385.4,182 385.3,178 383.9,174 372,157.2 368,153.9 358.1,148 355.6,146 352,141.5 342.3,126 340,123.1 336.1,120 328,115.9 322.7,112 315.1,102 310,96.3 288.7,78 412,78 412,247.2 393.7,264 385.5,276 376.8,286 375.3,290 374,297.5 372.5,302 366.3,318 362.6,326 354,340.7 339.9,360 194,360Z" fill="#38b25d"/>
<path d="M194,78 229.5,78 222.3,88 220.5,92 218.6,98 217.8,104 217.9,110 220.2,122 223.1,130 226.8,138 238.3,158 244.6,166 261.7,182 264.7,186 265.6,190 264.4,202 264.6,206 266,210.2 268,211.8 270,212.3 274,211.8 280,209.9 300,200.2 308,198.1 332,197.1 364,199 372,198 378,195.7 382,192.7 384,189.9 386,184 386.2,178 384.9,174 372,156.2 368,153 359.5,148 356,145.3 352,140.3 342.9,126 340,122.5 336,119.5 326,114.3 323.2,112 315.7,102 310.3,96 290,78 412,78 412,246 404.1,254 392.9,264 384.8,276 376,286 374.5,290 373.5,296 372,300.8 362,324.4 352,340.8 337.3,360 194,360Z" fill="#3db35a"/>
<path d="M194,78 226.8,78 220,88 218.2,92 216.4,98 215.6,104 215.7,110 218,122 220.9,130 224.6,138 231.2,150 236.3,158 244.6,168 260.2,182 263.4,186 264.4,190 263.2,202 263.5,210 264,212 265.5,214 268,214.7 278,212.1 288,207.8 300,201.6 308,199.2 316,198.4 332,197.9 364,199.8 372,198.9 378,196.7 382,194 384.9,190 386.9,184 387.1,178 385.9,174 372.8,156 370,153.6 360,147.4 356,144.2 352,139 343.5,126 340,122 336,119.1 328,115.2 323.8,112 312,97.1 291.2,78 412,78 412,244.6 403.3,254 392.1,264 384.1,276 376.4,284 374.2,288 372,298 364,317.1 360,325.3 350,340.8 334.6,360 194,360ZM260,223.2 257.5,226 257.1,228 257.4,230 259.7,232 262,231.9 263.7,230 264,227.1 262,223.2Z" fill="#43b457"/>
<path d="M194,78 224.1,78 217.7,88 214.7,96 213.4,106 213.7,112 214.7,118 217,126 221.3,136 226.6,146 232.9,156 237.3,162 242.6,168 258.5,182 262,186 262.8,188 263.1,192 260.9,214 259,218 254.9,224 253.8,228 254.1,230 256,233.1 258,234.4 260,234.8 263.3,234 265.2,232 266.3,228 266.4,220 268,218 271.5,216 288,209.2 302,202.2 308,200.4 314,199.5 332,198.7 364,200.8 370,200.3 376,198.5 382,195.2 384,193.1 385.9,190 387.7,184 388,178 386.9,174 384.4,170 379.2,164 373.7,156 370,152.7 360,146.4 357,144 352,137.7 342.7,124 340.7,122 336,118.7 328,114.8 324.4,112 312,96.4 292.4,78 412,78 412,243 402.5,254 392,263.2 384,275.3 375.5,284 373.3,288 372,294.5 370,300.1 362.2,318 358,325.9 348,340.6 331.8,360 194,360Z" fill="#48b653"/>
<path d="M194,78 221.4,78 215.3,88 212,98 211.1,108 212.8,120 215.4,128 219.9,138 225.5,148 232.1,158 240.4,168 258.7,184 261.3,188 261.6,194 259.8,208 257.7,214 252,223.8 251.1,228 251.9,232 253.3,234 256,236.1 260,237.1 264,236 266.2,234 267.8,230 268.5,222 269.6,220 271.7,218 302,203.7 310,201.3 320,200 336,199.6 364,201.7 372,200.8 379.3,198 384,194.5 386.8,190 388.6,184 388.9,178 387,172 380,163.8 374,155.2 370.3,152 358,143.8 354,139.1 344.9,126 341.4,122 336,118.3 328,114.4 325,112 314.1,98 293.5,78 412,78 412,241.3 410,243.2 401.7,254 392,262.2 389,266 384,274.4 374.5,284 372.4,288 370,297.1 361.6,316 356.2,326 346,340.3 328.7,360 194,360Z" fill="#4db750"/>
<path d="M194,78 218.8,78 213,88 209.7,98 208.8,108 210.5,120 212.9,128 217.4,138 223.1,148 229.8,158 238.2,168 256.7,184 259.7,188 260.3,194 258.5,206 256,212 250,222 248.5,228 249.2,232 251.8,236 256,238.5 260,239.1 264.4,238 266,236.9 268,234.5 269.4,230 270,224 272.2,220 278.7,216 304,204.4 310,202.5 316,201.4 332,200.5 362,202.6 370,202.2 378,199.7 383.8,196 386.8,192 389.1,186 389.8,178 388.1,172 386,168.9 380,162.5 375.7,156 372,152.3 362.3,146 358,142.5 342.1,122 338,119 328,114 325.6,112 314.7,98 294.5,78 412,78 412,239.4 410,241.4 402.6,252 398.7,256 391.1,262 388.2,266 383.5,274 373.4,284 371.3,288 369,296 361,314 355.7,324 344,339.8 325.4,360 194,360Z" fill="#52b84d"/>
<path d="M194,78 216.1,78 210.6,88 207.4,98 206.6,104 206.6,110 208.5,122 211.2,130 214.8,138 220.5,148 227.3,158 237.8,170 254.4,184 257.8,188 258.5,190 258.7,194 257.4,204 254.6,210 248,220.5 246.6,224 245.9,228 246.4,232 247.2,234 250,237.5 254,240.1 260,241.1 264,240.3 266,239.3 269.1,236 270.6,232 271.8,224 272.8,222 274.8,220 281.8,216 304,206 309.4,204 316,202.5 332,201.4 362,203.7 370,203.2 378,200.7 384,197.2 387.8,192 390,186 390.8,178 389.4,172 386.6,168 380.7,162 375.1,154 358.8,142 342.9,122 338,118.6 328.7,114 326.3,112 317.2,100 297,80 295.6,78 412,78 412,237.1 410,239.3 401.8,252 398,255.9 390.1,262 382.8,274 372.3,284 371,286 368,294.4 358.4,316 354,323.6 350,329.3 338,343.7 323.3,358 321.9,360 194,360Z" fill="#55b94b"/>
<path d="M194,78 213.5,78 207.3,90 204.7,100 204.3,112 206.6,124 209.4,132 213.2,140 219.1,150 224.7,158 235.1,170 251.9,184 256,188.9 257,194 256,202.3 254,206.9 245.5,220 243.5,226 243.3,230 245.3,236 249.2,240 254,242.4 260,243.2 266,241.6 270,238.1 271.8,234 273.7,224 275.1,222 277.4,220 284,216.5 304,207.7 310,205.4 316,203.7 332,202.4 362,204.8 368,204.6 372,203.8 380,200.9 384.6,198 388,193.5 390.9,186 391.8,178 390.6,172 388.1,168 381.9,162 376.3,154 374,151.7 360,141.7 343.7,122 340,119.3 329.5,114 326.9,112 317.8,100 298,80 296.6,78 412,78 412,234.5 410,236.7 400.9,252 398,255 390,260.9 387.6,264 382,274 374.8,280 370.9,284 363,300 357.6,314 354,320.6 350,326.4 336,342.7 319.5,358 317.9,360 194,360Z" fill="#54b84a"/>
<path d="M194,78 210.8,78 204.8,90 203,96 202,102 201.7,108 202.3,116 203.5,122 206,130 212.7,144 223.5,160 232.4,170 251.2,186 254.1,190 255,196 253.9,202 251.9,206 242.6,220 240.7,226 240.5,230 242.1,236 245.1,240 248,242.2 251.7,244 258,245.4 264,244.7 268,242.9 270,241.3 273.1,236 274.9,226 275.8,224 280,220.1 284,218 296,213.3 308,207.8 318,204.8 334,203.5 346,205 362,206 368,205.8 372,204.9 382,201.1 386,198.1 388.8,194 391.8,186 392.7,180 392.7,176 391.1,170 388,166.1 382,160.4 377.6,154 374,150.5 364.3,144 360,140.2 348.6,126 344.7,122 340,118.8 330.3,114 327.6,112 320.4,102 298.9,80 297.5,78 412,78 412,231.4 410,233.8 403.7,246 400,252 396,255.7 389.5,260 386.5,264 383.7,270 381,274 373.3,280 369.4,284 362.2,296 355.8,314 352.3,320 348,325.9 334,341.5 313.6,360 194,360Z" fill="#53b749"/>
<path d="M194,78 208.2,78 203.1,88 201.1,94 199.8,100 199.2,108 199.7,116 201.4,124 204,132 207.6,140 214.7,152 223.8,164 233.5,174 248,186 250,188.1 252.1,192 252.6,196 252,200 250,204.4 243.1,214 239.7,220 237.7,226 237.6,232 239.6,238 244,242.8 248,245.2 252,246.8 258,247.8 262,247.5 266,246.5 270,244.4 272,242.5 274.5,238 277,226 280,222.2 284,219.6 298,214.4 312.2,208 320,205.9 334,204.8 348,206.6 364,207.5 372,206.2 382,202.4 386,199.8 389.9,194 392.8,186 393.8,180 393.7,174 392.7,170 390,166.1 384,160.8 379.1,154 376,150.8 366,144 361.4,140 349.9,126 345.8,122 339.6,118 331.2,114 328.3,112 321.3,102 301.7,82 298.5,78 412,78 412,227.9 409,232 402.6,246 399,252 396,254.8 390.2,258 388,259.9 386,262.8 382,271.5 380,274 369.2,282 361.6,292 359.4,296 354.7,312 352,317 348,322.6 340,331.9 330,342 308.6,360 194,360Z" fill="#53b749"/>
<path d="M194,78 205.5,78 199.1,92 197.2,100 196.6,106 196.8,114 198.2,122 200.5,130 203.7,138 210.4,150 219,162 230,173.8 246.3,188 248,190.2 249.5,194 249.4,198 248.1,202 238.6,216 235.1,224 234.2,232 235.7,238 238.1,242 240.1,244 244,246.6 252,249.8 258,250.6 264,249.9 268,248.6 272,246.2 274,244.1 276.9,238 278.1,230 279.3,226 282,222.9 286,220.4 302,215 316,208.7 322,207.3 334,206.2 348,208.1 362,209 368,208.6 372,207.6 384,202.9 387.6,200 391.1,194 393.9,186 394.9,180 395.1,174 394.4,170 392,165.7 384,158.6 380.7,154 377,150 367.9,144 363.2,140 349.8,124 342,118.8 329.1,112 323.9,104 306.3,86 299.4,78 412,78 412,223.9 410,226 408,229.7 401.4,246 398,251.9 395.6,254 387.9,258 385.1,262 381.8,270 380,272.7 366.9,282 358.5,292 356.7,296 354,308 352.5,312 350,316.4 346,321.7 336,332.7 326,342.2 318,348.8 304.9,358 302.8,360 194,360Z" fill="#52b648"/>
<path d="M194,78 202.8,78 198,88 194,99.3ZM300.3,78 412,78 412,219.5 410,221.3 407.2,226 400,246 398,250.1 396,252.4 394,253.6 388,255.5 386,257.1 384,260.8 380.7,270 379.3,272 376.8,274 366.1,280 360,285.6 356.4,290 353.9,296 350.9,310 348.8,314 345.9,318 334,331 322,341.9 312,349.5 298.2,358 295.8,360 194,360 194,118.8 200.7,138 204.8,146 211.2,156 222.6,170 242.1,188 245,192 246,196 245.2,200 243.1,204 236.2,214 233.1,220 231.1,226 230.5,232 231.4,238 234.3,244 238,247.7 244,251 252,253.4 258,253.9 266,252.7 272,250 276,246.5 278.5,242 280.4,230 281.9,226 284,223.7 288,221.6 304,217 318,210.3 326,208.6 334,208 346,209.8 360,210.9 366,210.6 370,209.8 382,205.5 386,203.5 390,199.1 393.1,192 395.5,184 396.6,174 395.8,168 394,164.8 386,158.1 379.2,150 370,143.9 365.3,140 361.7,136 354,124.9 345.6,120 329.8,112 328.2,110 325,104 307,86Z" fill="#51b547"/>
<path d="M194,78 200.1,78 194,89.5ZM301.3,78 412,78 412,214.8 408.5,218 405,224 402.8,230 399.1,244 396.3,250 393.9,252 392,252.4 386,252 384,253.4 380.2,268 378,271.6 374,274 368,276.2 364,278.3 358,283.1 354,288 351.2,294 348.6,308 346.8,312 344,315.9 336,324.8 326.6,334 318,341.2 310,346.9 286.7,360 194,360 194,130.6 202.7,148 210.6,160 220.7,172 237.3,188 240.2,192 241,194 241.2,198 239.8,202 232.3,214 228.6,222 226.9,228 226.4,234 227.6,242 230.5,248 236,253.3 242,256.1 252,258.1 260,257.8 270,255.1 275.8,252 278.1,250 280.8,246 282,242 282.9,232 283.8,228 285.2,226 288,224 304,220.8 308,219.1 318,213.3 322,211.8 328,210.7 334,210.4 348,212.4 358,213.2 364,213.1 368,212.5 386,205.9 390,202.5 392,198.6 396.3,186 398.3,174 398.2,168 396,163 388,156.5 380,148.3 370,142 366,138.3 361.6,132 358.8,124 358,123.1 356.2,122 348,120.2 330.9,112 329,110 326.1,104 307.8,86Z" fill="#51b547"/>
<path d="M194,78 197.3,78 196,80.8 194,83.4ZM302.2,78 412,78 412,210.2 406.5,214 404.7,216 402.5,220 400,228 397.5,242 396.2,246 395,248 394,249 392,249.5 386,247.2 384,246.9 382,247.2 380,248.5 379,250 378.7,252 379.6,262 378,268.8 376,270.9 374,272 366,273.6 362,275.2 358,277.8 354,281.4 350.7,286 348.8,290 347.2,296 345.5,306 342.7,312 336.1,320 328.3,328 320,335.4 312,341.4 298,349.5 277.6,358 274,360 194,360 194,139 202.8,154 208.3,162 216.6,172 231.9,188 235.6,194 235.9,198 234.7,202 227,216 223.7,224 222.2,230 221.5,238 222.7,248 226,255.9 230,260.6 236,263.8 244,265.1 254,264.3 270,259.6 280,255.1 283.7,252 286,248 286.9,244 286.8,232 288,228.7 290,227.2 294,226.1 304,226.1 308,225.4 310,224.4 320,216.9 328,214.3 334.5,214 356,216.9 364,216.4 370,214.8 388,208 391.1,206 392.4,204 397.8,186 400.7,172 400.8,166 400,163 398.2,160 384.2,148 373.8,142 368.8,138 364.9,132 363.7,124 362,121.5 358,119.7 352,119.7 348,119 331.9,112 329.9,110 327.2,104 308.6,86Z" fill="#50b446"/>
<path d="M303.1,78 412,78 412,115.8 404,113.6 398,113.2 382,116.2 372,119.6 370,119.8 360,117.7 350,118.2 344,116.8 337.3,114 332,111 331,110 328,103.5 316,92.8 307.6,84ZM371.5,128 374,127 376,127.2 380,128.6 384,130.8 387.8,134 389.2,136 390,138 389.3,140 386,141 382,140.9 378,140 374.2,138 372,135.9 370.2,132 370.3,130ZM400.6,142 412,140.6 412,205.5 404,208.3 402,208.3 400,207.4 398.6,206 397.3,204 396.4,200 397.1,194 403.4,172 404.5,166 404.5,162 403.6,158 397.6,146 397.7,144ZM194,146.4 207.3,166 226.1,188 228.6,192 229.8,196 229,202 220.6,220 217.3,230 215.2,242 213.9,262 212,270.9 208.6,278 198.6,292 194.9,300 194.4,304 194.7,306 195.5,308 198,311.2 200,312.3 204,312.3 208,310.4 210,308.7 213.7,304 219,294 222,289.6 226,285.6 232,282 250,274.7 262.8,268 272,264.2 284,261.5 298,261.1 302,260 306,258 310,255.2 313,252 315.1,248 318,237.5 320.3,234 324,230.9 326,230.5 334,232.5 342,233.7 344.7,236 352,248 356,251.7 360,253.1 368,253.2 370,253.7 372,255 374.6,258 376,260.7 376.4,264 376,266.5 374.9,268 372,269.1 364,268.2 360,268.8 356,270.9 350.6,276 348,280 345.3,286 341.4,304 339.9,308 337.4,312 330.9,320 322,328.9 313.2,336 304,341.9 290,348.2 259.6,358 254.8,360 211.7,360 202,356.3 194,354.6ZM381.8,214 388,213.2 392,213.8 394,215 395.5,218 395.8,222 394.5,238 394,240.5 392,243.4 390,243.3 374,238.5 370,235.2 367,230 366,226 366.3,224 367.5,222 372.8,218Z" fill="#54b648"/>
<path d="M304,78 412,78 412,109.7 404,108.8 398,108.9 382,111.9 368,115.5 358,115.9 350,116.9 344,116 334.7,112 332,110 329.5,104 328,102.1 316,92 306.7,82ZM194,153.4 204.4,168 219.9,188 222.9,194 223.4,198 222.8,202 221.5,206 212.4,228 203.8,256 199.1,266 196,270.9 194,272.9ZM412,164.5 412,200.6 408,201.9 404,202 402,200.9 400,198.1 399.8,194 404,179.6 408,170.8ZM325.3,262 330,260.9 334,261.6 336.9,264 339,268 339.6,276 337.2,298 334.7,306 328.3,316 321.1,324 311.6,332 302,338 292,342.2 256,352.1 244,354.4 234,354.5 226,353 218,349.3 212.3,344 210.3,340 209.6,336 210,332 211.4,328 214.7,322 220,314.1 225.5,304 228,300.7 232,297 236,294.3 250,287.3 266,274 272,270.5 276,269.5 280,269.4 284,270.1 294,273.3 300,273.4 308,270.7Z" fill="#59b749"/>
<path d="M304.9,78 412,78 412,105.5 404,105.3 396,105.9 385.7,108 366,113.2 350,115.7 344,115.1 336.2,112 333.4,110 329.2,102 316.9,92 307.6,82ZM194,160.6 196,162.7 212.3,186 215.3,192 216.5,198 215.8,204 213.7,210 198.9,246 196,251.9 194,254.4ZM412,177.6 412,193.9 408,194.9 405.7,194 405,192 405.4,188 408,181.6ZM274.8,280 280,279.2 290,281.1 296,281.6 302,281.3 318,278.5 322,278.8 324.7,280 326.9,282 329,286 330.2,294 328.9,302 327.4,306 324.1,312 317.8,320 311.4,326 302.5,332 294,335.6 286,337.5 272,339.4 252,345.1 244,346.5 238,346.6 234,345.9 230,344.5 226.1,342 224,339.7 222,336 221.2,332 221.3,328 223.9,320 230,308.6 234,304.7 238,302.4 252,298.5 257.3,296 262.4,292 271.8,282Z" fill="#5eb94b"/>
<path d="M305.8,78 412,78 412,102 402,102.3 394,103.4 383.2,106 368,110.5 352,114.1 348,114.6 344,114.2 338,112 334.8,110 333.3,108 330.4,102 318,92.2 310,83.8ZM194,168.3 196,170.4 204.6,184 208.3,192 209.3,198 208.8,204 206.3,212 198,231.1 194,237.7ZM287.6,292 302,290.3 310,290.1 314,291 316,292.1 318,294.3 318.8,296 319.4,300 318.7,304 317.2,308 312,316.4 308.7,320 304,323.9 296,328 288,329.5 282,328.9 272,326.1 268,325.6 264,327 253.7,334 249.2,336 244,337.4 240,337.6 236,336.7 232,334.2 230.3,332 229.4,330 228.6,326 229.5,320 232,314.7 236,310.7 240,308.9 246,308.6 250,309.5 260,313.1 264,312.7 268,309.4 273.2,302 278,296.6 282,293.9Z" fill="#62bb4d"/>
<path d="M306.7,78 412,78 412,98.9 402,99.6 394,100.9 352,112.8 348,113.4 344,113.1 340,112 336,109.6 334.6,108 331.6,102 330,100.3 318,91.3 309.4,82ZM194,178 196,180.2 199.7,188 201.5,194 201.9,198 201.4,204 199.8,210 196,219.3 194,222.2ZM292.8,306 296,305.1 298,305.2 300.1,306 301.4,308 301.6,310 299.7,314 297.4,316 294,317.2 292,317 290,316 288.8,314 288.5,312 290,308.1ZM237.5,318 240,317.1 242,317.5 244.5,320 244.8,322 244.3,324 242,326 239.2,326 238,325.6 236.6,324 235.9,322 236.1,320Z" fill="#67bd4f"/>
<path d="M307.7,78 412,78 412,96 402,97 392,99 352,111.4 348,112.2 344,112.1 338.4,110 336.1,108 332.7,102 331,100 318,90.3 310.3,82Z" fill="#6cbe50"/>
<path d="M308.6,78 412,78 412,93.3 402,94.6 392,96.7 352,110 348,110.8 344,110.8 341.1,110 337.8,108 332.3,100 318.7,90 311.2,82Z" fill="#70c052"/>
<path d="M309.6,78 412,78 412,90.7 402,92.2 392,94.6 380,98.4 353.6,108 348,109.4 344,109.4 340,108 338,106.1 335.3,102 332,98.4 319.8,90 312.2,82Z" fill="#75c254"/>
</g></g>
<g fill="none" stroke="#fff" stroke-width="2.4" stroke-dasharray="10 4.6" stroke-linecap="butt" stroke-linejoin="round">
<polyline points="282.7,95.9 288.8,95.2 293.6,98.6 308.5,108.1 324.7,119 332.9,124.4 336.2,131.2 339.6,142 343.7,155.5 345,165 341.3,171.8 332.9,175.2 324.7,173.8 316.6,169.1 311.2,161 309.1,157.6"/>
<polyline points="250.9,111.5 255.6,119 259,125.7 258.3,131.2 255.6,136.6 251.6,140"/>
<polyline points="254.9,159.6 263.1,158.9"/>
</g>
<rect x="404.5" y="371.65" width="3.5" height="1.4" rx="0.7" fill="#111"/>
<text transform="translate(278.11,175.05) scale(1,1.06)" font-size="35.5" font-family="Liberation Serif, serif" fill="#fff">3</text>
<use href="#land"/><use href="#dots"/><use href="#frame"/><use href="#axis"/>
<polygon points="450.0,61.7 461.8,56.2 473.6,61.7 473.6,402.9 461.8,408.4 450.0,402.9" fill="url(#gdo)" stroke="#444" stroke-width="0.6" stroke-linejoin="miter"/>
<g font-family="Liberation Serif, serif" font-size="27.4" fill="#000" stroke="none">
<text transform="translate(483.20,70.80) scale(1,1.05)">10</text>
<path d="M450.0,137.5h4.6M473.6,137.5h-5" stroke="#333" stroke-width="0.9" fill="none"/>
<text transform="translate(483.20,146.62) scale(1,1.05)">8</text>
<path d="M450.0,213.3h4.6M473.6,213.3h-5" stroke="#333" stroke-width="0.9" fill="none"/>
<text transform="translate(483.20,222.44) scale(1,1.05)">6</text>
<path d="M450.0,289.2h4.6M473.6,289.2h-5" stroke="#333" stroke-width="0.9" fill="none"/>
<text transform="translate(483.20,298.27) scale(1,1.05)">4</text>
<path d="M450.0,365.0h4.6M473.6,365.0h-5" stroke="#333" stroke-width="0.9" fill="none"/>
<text transform="translate(483.20,374.09) scale(1,1.05)">2</text>
</g>
<text x="389.0" y="366.6" font-family="Liberation Sans, sans-serif" font-weight="bold" font-size="30.4">F</text>
</g>
<g transform="translate(0,1411.4)">
<g clip-path="url(#polyclip)"><g filter="url(#soft)">
<path d="M249.2,104.8 L259.3,96.7 L308,85.4 L356.9,121 L401.8,110 L401.4,165.5 L398.5,197.6 L403.2,266.7 L386.5,289.3 L374,304.8 L357.4,315.6 L308.5,315.7 L263.7,351.8 L202.1,303.5 L240.2,261.2 L261.8,191.3 L253.1,157.6 L251,127.1Z" fill="#5e63ad"/>
<path d="M194,78 412,78 412,309.8 404,313.6 398,315.6 390,316.7 384,316.3 376,314 370,310.4 365.5,306 360.3,298 358,296.6 356,296.1 352,296.5 348,298.1 346,299.6 342.3,304 340.1,308 338.7,312 337.7,318 338,327.7 341.1,348 342.2,360 194,360Z" fill="#4a56a6"/>
<path d="M194,78 412,78 412,236.8 402,238.7 388,240.1 383.1,242 378,245.5 370,253.8 351.1,282 339.6,296 332.9,308 330.1,318 329,332 329.2,360 194,360Z" fill="#4458a8"/>
<path d="M194,78 412,78 412,213.6 404,215.2 396,218.6 388,223.5 376,232.1 370,237.5 364.2,244 348,266.8 338.7,284 329,300 325.5,308 323.4,316 321.3,328 318.5,360 194,360Z" fill="#3f5aaa"/>
<path d="M194,78 412,78 412,200 404.7,200 400,201 396,202.7 390,206.9 361.3,236 353.4,246 342,262.1 338,268.9 332,281.4 323,296 320,302.8 312.8,332 308.6,360 194,360Z" fill="#3f70ba"/>
<path d="M194,78 412,78 412,191.8 404,191.4 398,192.2 392,195 385.3,200 380,205.4 371.6,216 354.8,234 346.5,244 340,252.9 334.6,262 328,275.6 316.6,292 313.7,298 303.4,336 299,360 194,360Z" fill="#418acb"/>
<path d="M194,78 412,78 412,186 402,185.8 396,187.2 390,190 381.3,196 376,200.9 368,211.1 345,236 335.1,248 330.3,256 324,270.7 320,276.2 309.3,288 305.5,294 302.7,300 300.8,306 298,322 293.2,340 289.5,360 194,360Z" fill="#50abdf"/>
<path d="M194,78 412,78 412,181.5 402,181.4 396,182.7 388,186.5 374,195.6 370,199.5 363.4,208 327.8,246 324,252 319.6,264 317.5,268 301.4,286 294.1,296 291,302 289.5,308 288.5,320 284.1,336 280.1,360 194,360 194,273.5 212,272.2 224,270 228,268.5 230,267.2 231,266 231.5,264 229.3,260 226,256.8 222,253.8 216,250.4 206,246.9 194,245.3Z" fill="#62c8ed"/>
<path d="M194,78 412,78 412,177.6 400.6,178 394,179.8 386,183.6 368.6,194 364.4,198 346.5,218 323.6,240 320.2,244 316.7,250 312.9,260 309.6,266 289.8,290 283.4,300 281.3,306 276,328.1 273.1,350 270.7,360 194,360 194,287 214,280.8 228,275.1 234,271.4 236,269.2 237.3,266 236.5,262 234,257.9 228,251.1 222,246 216,242.1 208,238.2 200,235.6 194,234.4Z" fill="#7cccd3"/>
<path d="M194,78 412,78 412,174.1 400,175.1 392,177.3 386,180.1 364.6,192 357.9,198 344,213.3 333.1,224 318.7,236 314.7,240 311,246 306.2,258 301.9,266 296.1,274 281.7,290 277.5,296 275.5,300 268.9,320 267,330 264.7,348 260.3,360 194,360 194,304 202,296.4 218,288.4 232,278.3 238,272.2 239.9,268 240.1,266 239.4,262 236,255.3 230,247.2 224,241.2 218,236.5 210,231.8 202,228.5 194,226.3Z" fill="#82cdc7"/>
<path d="M194,78 412,78 412,170.9 398,172.7 390,175 361.8,190 352,198 340,210.9 328,222.5 312.8,234 308.6,238 304.8,244 299.5,258 294,267.7 290,272.5 272.6,290 268.3,296 262,314.1 256,344.2 252.4,352 246.5,360 208.4,360 205,354 203,348 202.4,344 202.7,338 205.2,330 208.7,324 216.8,314 218.8,306 220.6,302 229.2,292 239.3,276 241,272 242.1,266 241.5,262 240.1,258 236,249.7 232,243.7 226,236.8 220,231.6 212,226.4 202,221.7 194,219.3Z" fill="#82cdc0"/>
<path d="M194,78 412,78 412,167.6 396,170.5 388,172.9 382,175.8 372,181.9 362,186.8 353.7,192 346.7,198 336,209.4 324.8,220 307.7,232 302.8,236 298.8,242 294.5,254 291.7,260 288,265.7 284,269.8 272,280.3 266,284.4 260,286.8 250,289.3 246,289.2 244,287.5 243.2,286 242.3,282 243.7,268 242.8,260 239.3,250 234,240.1 226,230.7 216,222.7 206,217.2 194,213ZM240,298 244,296.9 246,297.4 250,301.3 252.5,306 253.4,310 253.5,314 250.8,330 247.2,340 244.8,344 242,347.2 238,350 234,351.6 230,352.1 226,351.5 222.9,350 220.3,348 217.5,344 215.8,338 215.9,334 216.6,330 226.3,308 230,303.9Z" fill="#75c8ae"/>
<path d="M194,78 412,78 412,164.2 392,168.6 386,170.6 380,173.9 370.6,180 358.5,186 348.7,192 343.9,196 334,206.4 321.4,218 314,223.3 299.8,232 296,235.2 292.9,240 290,248.5 286.1,256 282,261.5 277.5,266 266,276 262,278.6 256,280.1 250,279.4 248,277.9 246.2,274 244.3,258 241.6,248 238.2,240 234,233.4 226,224.6 216,216.8 206,211.4 194,207.2ZM232.9,308 238,306.4 242,307.1 245.3,310 246.4,312 247,316 245.6,326 243.1,332 240,335.9 238,337.5 236,338.6 232,339.3 228,337.8 226,335.8 224.3,332 223.9,328 224.8,322 227.7,314 230,310.3Z" fill="#65c199"/>
<path d="M194,78 412,78 412,160.6 400,164 390,166.1 384,168.4 368,178.9 353.6,186 346.8,190 341.8,194 330,205.9 318,216.2 308,222.8 294.9,230 290,233.6 288,236 282.5,248 271.6,262 260,274.1 256,275.7 252,275.4 249.8,274 247.5,270 245.5,252 243,242 240,235.4 234.9,228 226,218.6 217.4,212 206,205.9 194,201.7ZM234.6,312 238,311.6 240,312.6 242,315.5 242.4,318 242,322 240,326.5 238,328.7 236,329.7 234,330 232,329.4 230,327.5 228.9,324 228.8,322 230.3,316 232,313.6Z" fill="#51ba84"/>
<path d="M194,78 412,78 412,156.6 400,160.5 388,163.3 384,164.9 378,168.5 368,176.3 350,185.4 342.6,190 337.7,194 326,205.5 314,215 306,220.2 290.6,228 286,231 283.3,234 278,242.4 272,250 260,268.6 258,270.7 256,271.8 254,272.1 252,271.6 250,269.9 248.5,266 248.5,252 247.1,242 243.9,234 238,225.3 229.7,216 219.8,208 208,201.6 194,196.6ZM234.9,318 236,317.6 236.6,318 236.9,320 236,321.3 234,320.5 234,319.2Z" fill="#39b36f"/>
<path d="M194,78 412,78 412,152.1 400,156.4 386,160.1 380,163.1 366,174.8 348,184 338.7,190 326,202 310,213.8 302,218.8 284,228 279.7,232 274,239 264.9,248 262.5,252 260.2,260 258,265 256,267.5 254,268.3 252.7,268 252,267.7 250.9,266 250.5,264 253.5,250 252.8,244 248.8,234 240.6,222 231.9,212 222,204 210,197.5 194,191.7Z" fill="#32b060"/>
<path d="M194,78 412,78 412,146.9 400,151.8 386,155.4 380,158.4 376,161.4 365.4,172 362,174.3 346,182.8 337.7,188 334,190.9 326,198.9 318,204.9 300.7,216 282,225.4 278.5,228 272,234.6 268,237.9 264,239.8 260,239.8 258,238.8 256,236.8 239.6,214 229.7,204 224,199.9 216,195.6 204,190.5 194,187.1Z" fill="#3cb258"/>
<path d="M194,78 412,78 412,140.7 400,146.2 386,149.8 380,152.4 374,157.5 363.1,170 357.3,174 336,186.7 332,189.9 324,197.8 320,200.8 298,214.1 280,222.7 275.1,226 268,232.1 264,233.8 262,233.8 260,233.1 258,231.6 242,210 236.4,204 231.8,200 225.9,196 218,191.9 204,186.1 194,182.7Z" fill="#46b450"/>
<path d="M194,78 412,78 412,133.7 397.1,140 384,143.9 378,146.6 372,152.4 363.7,164 360,168.2 352.4,174 333.7,186 320,198.4 294,212.7 276,220.6 266,227 264,227.7 262,227.4 259.9,226 244.5,206 238.6,200 233.8,196 227.4,192 220,188.4 194,178.4Z" fill="#4bb64e"/>
<path d="M194,78 412,78 412,126.6 400,130.3 380,139 375,142 369.2,148 360.3,162 355.2,168 347.9,174 332,185 322.5,194 318,197.4 288,211.6 270,217.4 266,217.9 264,217.5 260,215.1 242,197 234,191 223.9,186 194,174.2Z" fill="#50b74d"/>
<path d="M194,78 412,78 412,120 394,126 380,132.9 374,136.7 370,140.1 366,144.7 356.8,160 350.4,168 343.7,174 330,184.3 322,192.1 318,195.2 306,201 286,208.3 276,210.2 268,209.7 262,207.6 258,205.3 254,202.3 242.9,192 236,187.4 194,170.2Z" fill="#55b94b"/>
<path d="M194,78 412,78 412,113 388,122.2 378,127.6 372,132.1 366,138.2 362,143.1 353.4,158 345.9,168 340,174 328,183.7 318,193.1 314,195.5 308,198.1 292,203 284,204.6 276,204.7 266,202.6 260,200.5 254,196.4 244.6,188 240,185.1 194,166.2Z" fill="#52b84a"/>
<path d="M194,78 412,78 412,105.1 400,110.6 384,116.6 376,121.3 372,124.4 368,128.7 360,139.4 350.4,156 340.4,170 334.6,176 328,181.3 316.5,192 310,195.3 300,198.3 286,200.8 278,200.5 262,196.5 257.6,194 248,185.5 242.4,182 218,173.1 194,162.2Z" fill="#4fb648"/>
<path d="M194,78 412,78 412,95.6 396,102.6 376,108.9 372,110.8 368,113.9 366,116.9 360,132 349.1,152 338.5,168 333.6,174 316.2,190 310,193.4 304,195.3 292,197.2 282,197.5 274,196.2 264,193.4 258.3,190 250,182.1 246.6,180 220,170.8 194,158.3Z" fill="#4cb446"/>
<path d="M194,78 412,78 412,85.3 398,90.5 390,92.6 368,95 362,96.1 357,98 353.9,100 352,102.1 350.8,106 351.6,110 355.7,122 355.8,128 354.9,132 350.9,142 346.9,150 334,169.8 318,186 312,190.4 308,192.2 302,193.7 286,194.9 276,193.7 266,190.8 260,187.2 254,180.8 250,177.8 222,168.6 212.1,164 194,154.3Z" fill="#56b74a"/>
<path d="M194,78 401.3,78 397.1,80 392,81.4 370,85.6 362,87.8 354,91.3 347.4,96 344,100.5 343.1,104 343.3,106 349.9,122 350.9,126 351,130 348.5,140 343.9,150 330.6,170 314,186.8 308.5,190 304,191.4 290,192.5 278,191.5 268,188.7 262,184.9 256,178 252,175.3 234,170.3 224,166.7 214,161.8 194,150.2Z" fill="#65bc50"/>
<path d="M194,78 368.8,78 356,84.4 350,88.1 343.3,94 339.2,100 338.3,104 338.6,106 344.4,118 346.7,124 347.4,128 347.1,134 345,142 342.2,148 330.3,166 327.2,170 315.9,182 310,186.9 304,189.4 292,190.3 280,189.6 274,188.3 270,186.8 264,182.9 258.1,176 255.6,174 250.9,172 234,167.9 224,164 212.8,158 194,146Z" fill="#74c055"/>
<path d="M194,78 356.5,78 346,86.6 342,90.5 337.7,96 335.1,102 334.9,104 335.8,108 342.2,120 344.5,128 344.6,132 343.6,138 341.6,144 339.5,148 326,167.3 312,182.5 308,185.5 304,187.2 292,188.4 280,187.5 272,185.3 266.8,182 260,174.4 256.9,172 252,170 236,166.3 226,162.4 214.7,156 194,141.6Z" fill="#8dc855"/>
<path d="M194,78 349.9,78 338,91.1 334,97.5 332.5,102 332.3,104 333.1,108 339.6,120 341.9,128 341.5,136 339,144 335.6,150 323.7,166 311.1,180 306,183.9 300,185.8 290,186.5 280,185.6 274,183.9 268,180.1 262,173.6 258,170.3 254,168.7 238,164.9 226.3,160 216.5,154 196,138.1 194,137Z" fill="#a7d055"/>
<path d="M194,78 345.2,78 334,93 331.6,98 330.5,102 330.5,106 331,108 337.9,122 339.6,128 339.1,136 336.5,144 332.8,150 320.4,166 309.5,178 304.5,182 298.6,184 290,184.8 280,183.9 274.3,182 270,179.2 262.9,172 258,168.5 238,162.9 230.9,160 224,156.1 215.5,150 198,135 194,132.2Z" fill="#c0d54c"/>
<path d="M194,78 341.5,78 332,92.7 330,97.1 328.8,102 329.2,108 335.6,122 337.3,128 336.7,136 334,143.7 329.9,150 318.8,164 308.2,176 304,179.6 298,182.1 290,183.2 282,182.7 276,180.9 272,178.5 264,170.9 260,167.9 255.7,166 238,161.1 232,158.3 226,154.8 217.2,148 198,130.1 194,127.2Z" fill="#dadb40"/>
<path d="M194,78 338.4,78 330,92.8 328,98 327.3,102 327.3,106 328,109.1 333.3,122 334.9,128 334.6,134 332.1,142 328.5,148 317.4,162 308,173 302.5,178 298,180.2 290,181.6 284,181.5 277.8,180 274,177.9 265.1,170 260,166.5 256,164.8 239.9,160 234,157.3 228.6,154 218.8,146 200,126.8 194,121.9Z" fill="#ead331"/>
<path d="M194,78 335.7,78 328,93.5 325.9,102 326.3,108 331.1,122 332.4,128 332,134 329.3,142 325.5,148 317.8,158 307.9,170 301.8,176 296,178.9 290,180.1 284,180.1 278,178.5 274,176 264.5,168 260,165.2 240,158.3 235.4,156 229.3,152 220.5,144 200,121.3 194,116.3Z" fill="#f5c622"/>
<path d="M194,78 333.3,78 327,92 324.9,100 325.1,108 329,122 330,128 329.4,134 327.4,140 324,146 318.2,154 307.1,168 301.2,174 296,177 290,178.6 284,178.7 278,176.9 266.5,168 260.1,164 242,157.5 236,154.3 232,151.6 227.8,148 222.1,142 202,117.7 196,111.6 194,110.4Z" fill="#f8bb1e"/>
<path d="M194,78 331.1,78 325.5,92 323.6,100 323.9,108 327.1,122 327.6,128 326.8,134 324.7,140 321.2,146 315.5,154 304.6,168 300,172.5 296,175 290,177 284,177.3 280,176.3 262,163.8 256,161 244,156.8 238.6,154 233.1,150 227,144 208,118.5 198,107.4 194,104.3Z" fill="#faaf19"/>
<path d="M194,78 329,78 324.1,92 322.7,98 322.6,106 325,120 325.4,126 324.3,134 322,140 313.1,154 304,165.9 300,170.1 296,172.8 290,175.3 284,175.9 280,174.7 262,162.6 241.7,154 235.9,150 231.7,146 226.9,140 216,122.9 210,114.6 200,103.2 196,99.3 194,98Z" fill="#f7a31a"/>
<path d="M194,78 327.1,78 322.7,92 321.5,98 321.5,106 323.4,118 323.6,124 322.5,132 319.6,140 312.3,152 304,163.1 300,167.5 294,171.6 288,173.9 284,174.3 280,173 262,161.4 244,153.6 238.6,150 234.4,146 228.6,138 220,122.4 214,113.2 202,98.8 196,92.7 194,91.4Z" fill="#f4971c"/>
<path d="M194,78 325.2,78 321.4,92 320.4,98 320.5,106 322,118 321.9,124 320.4,132 317.3,140 310.2,152 300,165.1 296,168 286.9,172 284,172.4 282,172 262,160.3 246,153.2 241.1,150 236.9,146 231.4,138 222.9,120 216.7,110 204,94.3 196,85.9 194,84.6Z" fill="#f18c1d"/>
<path d="M196.1,78 323.4,78 320.2,92 319.3,98 319.6,106 320.8,118 320.4,124 319.1,130 317.1,136 309.5,150 302,160.6 298,164.4 294,166.5 287.1,168 284,169.3 282,169.2 276,166.8 260,158 246,151.6 239.3,146 235.1,140 226.1,118 220,107.4 212,96.7Z" fill="#eb7f20"/>
<path d="M203.1,78 321.7,78 318.4,96 318.4,102 319.7,118 318.5,126 316.8,132 314.2,138 307.6,150 302,158.3 298,162.3 294,164.3 280,166.1 276,165.2 272,163.5 260,156.8 249.3,152 244,148.4 240,144 236.6,138 230.2,118 226,109.2 218,97.2Z" fill="#e37223"/>
<path d="M209.6,78 319.9,78 317.3,96 318.6,116 317.7,124 313.4,136 305.9,150 300,158.5 298,160.3 294,162.4 280,164.3 278,164.1 270,161.2 260,155.5 250,150.9 245.8,148 242.1,144 239,138 234.2,118 230.1,108 224,98.2Z" fill="#db6626"/>
<path d="M215.9,78 318.2,78 316.2,96 317.5,114 317,122 315.2,128 312,135.2 304.1,150 298.3,158 296,159.7 292,161 280,162.7 276,162.3 270,160 260,154.2 252,150.5 245.9,146 242.9,142 241.2,138 238,118 235.5,110 230,99.8Z" fill="#da5828"/>
<path d="M221.9,78 316.4,78 315.1,96 316.6,114 315.8,122 312.9,130 305.7,144 301.1,152 298,156.2 295.6,158 292,159.4 280,161.3 276,161 270,158.7 260,152.8 252,149 248,146 245,142 243.4,138 242.7,134 241.5,118 238.9,108 234.9,100Z" fill="#e24927"/>
<path d="M227.7,78 314.6,78 314,96 315.7,114 314.7,122 312,128.8 302.8,146 299.2,152 296,155.7 292,157.7 284,159.4 280,160 276,159.7 270,157.4 262,152.4 253,148 248.3,144 246.1,140 245.2,136 244.7,118 244.1,112 243,108 240.4,102Z" fill="#e83a26"/>
<path d="M233.3,78 312.5,78 313.2,86 312.9,96 314.8,112 314.1,120 312,125.9 302,144.1 298,150.7 295.1,154 291.6,156 284.5,158 280,158.7 276,158.4 270,156 262,150.7 254,146.9 250.4,144 248.1,140 247.4,136 247.6,116 246.8,108Z" fill="#eb2b25"/>
<path d="M238.8,78 310.3,78 311.7,86 311.8,96 313.7,108 313.4,118 312.4,122 310.4,126 306.4,132 298,147.3 294,152.3 290,154.7 284,156.7 280,157.3 276,156.9 272,155.5 264,149.9 255.6,146 252.7,144 251.1,142 250.2,140 249.6,136 250.2,128 250.2,108Z" fill="#ed1c24"/>
<path d="M244.4,78 307.3,78 309.9,86 310.6,96 312.6,106 313,112 312.3,118 310,123.9 305.4,130 298,143.4 294,149.1 290.9,152 287.3,154 282,155.7 276,155.3 272,153.6 264,147.4 256,144.2 253.5,142 252.4,140 251.8,136 253.3,108 252.4,104 247.4,90Z" fill="#e61d25"/>
<path d="M250.4,78 302.6,78 307.4,86 312,108 312,114 311.2,118 309.4,122 302.8,130 298,138.9 292,147.4 289.6,150 284,153.4 280,154.2 276,153.4 273.4,152 268,146.4 266,145 258,142.5 255.2,140 254.2,136 254.4,122 256.4,108 255.7,104 252.1,92Z" fill="#e01e26"/>
<path d="M257.6,78 293.3,78 296,83.3 298,85.5 304,88 305.4,90 309.9,102 311.2,108 311.3,112 310.6,116 308.8,120 301.1,128 296,136 287,148 284.9,150 282,151.5 280,151.8 276,150.1 274.4,148 272.6,144 270,142 260,139.9 258,138.4 256.9,136 256.2,122 259.6,108 259.3,104 256.7,94 256.7,88Z" fill="#da2028"/>
<path d="M271.1,78 281.5,78 288,83.6 294.3,90 298,91.5 302,92.4 304,93.6 306,96.2 309.4,104 310.3,108 310.4,112 309.4,116 308,118.8 299.1,126 292,133.8 288,137 286,137.9 284,138.4 272,138.4 264,137.7 262,137 260,135.5 258.5,132 257.7,126 258,121.6 259,118 262.8,110 263.7,106 262.9,94 264,89.8 266,85Z" fill="#d8212d"/>
<path d="M278.6,88 282,87.3 284,87.7 294,93.2 302,95.4 304,96.8 306.4,100 309,106 309.6,110 309,114 308,116.4 306,118.8 297.3,124 286,132.4 282,133.9 274,135.4 268,135.6 264,134.8 262,133.5 260,130 259.3,126 260,120.9 262,116.7 267.9,108 274.8,92 276.1,90Z" fill="#da2236"/>
<path d="M281.6,94 284,93.2 286,93.4 292,95.3 300,97 304,99.2 306,101.7 308,106 308.6,110 307.9,114 306,116.9 304,118.4 291.4,124 282,130.3 272,133.1 266,132.9 264,132 262.2,130 261.4,128 261.1,124 262,120.9 264,117.7 273.7,108 279.7,96Z" fill="#dc2340"/>
<path d="M284.3,100 286,98.8 290,98.1 298,98.6 302,99.9 304.4,102 306.8,106 307.6,110 306.6,114 304.9,116 302,117.8 288,121.6 282,126.3 276,129.4 270,130.8 265.6,130 264,128.6 263.1,126 264,121.7 268,117.4 278,111.1 280,108.3 282.8,102Z" fill="#e44051"/>
<path d="M289.7,102 292,101.1 296,100.6 300,101.1 302,102 304.2,104 306.2,108 306.1,112 305,114 302,116.3 298,117.4 292,117.4 285.9,116 284.5,114 285.4,108 287.4,104ZM270.7,120 276,118.7 278,118.9 279.4,120 279.1,122 277.6,124 274.8,126 270,127.6 268,127.5 266,126 266.1,124 268,121.6Z" fill="#ed6463"/>
<path d="M293,104 298,102.8 302,104.1 303.9,106 304.8,108 305.1,110 304,113.1 302,114.7 298,115.7 294,115 291.8,114 290.1,112 289.7,110 290.9,106Z" fill="#f38a73"/>
<path d="M295.8,106 298,105.3 300,105.5 302,106.6 303,108 303.4,110 302.7,112 300,113.6 298,113.7 294.6,112 293.6,110 293.9,108Z" fill="#f7a581"/>
</g></g>
<use href="#land"/><use href="#dots"/><use href="#frame"/><use href="#axis"/>
<polygon points="450.0,61.7 461.8,56.2 473.6,61.7 473.6,402.9 461.8,408.4 450.0,402.9" fill="url(#gmn)" stroke="#444" stroke-width="0.6" stroke-linejoin="miter"/>
<g font-family="Liberation Serif, serif" font-size="27.4" fill="#000" stroke="none">
<text transform="translate(483.20,70.80) scale(1,1.05)">30</text>
<path d="M450.0,118.6h4.6M473.6,118.6h-5" stroke="#333" stroke-width="0.9" fill="none"/>
<text transform="translate(483.20,127.67) scale(1,1.05)">25</text>
<path d="M450.0,175.4h4.6M473.6,175.4h-5" stroke="#333" stroke-width="0.9" fill="none"/>
<text transform="translate(483.20,184.53) scale(1,1.05)">20</text>
<path d="M450.0,232.3h4.6M473.6,232.3h-5" stroke="#333" stroke-width="0.9" fill="none"/>
<text transform="translate(483.20,241.40) scale(1,1.05)">15</text>
<path d="M450.0,289.2h4.6M473.6,289.2h-5" stroke="#333" stroke-width="0.9" fill="none"/>
<text transform="translate(483.20,298.27) scale(1,1.05)">10</text>
<path d="M450.0,346.0h4.6M473.6,346.0h-5" stroke="#333" stroke-width="0.9" fill="none"/>
<text transform="translate(483.20,355.13) scale(1,1.05)">5</text>
<text transform="translate(483.20,412.00) scale(1,1.05)">0</text>
</g>
<text x="384.6" y="375.9" font-family="Liberation Sans, sans-serif" font-weight="bold" font-size="30.4">G</text>
</g>
<g transform="translate(602.0,1411.4)">
<g clip-path="url(#polyclip)"><g filter="url(#soft)">
<path d="M249.2,104.8 L259.3,96.7 L308,85.4 L356.9,121 L401.8,110 L401.4,165.5 L398.5,197.6 L403.2,266.7 L386.5,289.3 L374,304.8 L357.4,315.6 L308.5,315.7 L263.7,351.8 L202.1,303.5 L240.2,261.2 L261.8,191.3 L253.1,157.6 L251,127.1Z" fill="#ad8fc6"/>
<path d="M194,78 412,78 412,326.8 381.8,300 378.9,296 378.3,294 377.1,284 375.7,280 374.4,278 372,275.9 370,275.1 366,274.9 362.8,276 360,277.7 354,284 338.2,312 337,318 335.9,332 335.3,348 335.5,360 194,360Z" fill="#9184c0"/>
<path d="M194,78 412,78 412,293.2 408,290.7 402,285.5 386.2,270 379.9,266 374,264.5 370,264.7 362,266.6 356,269.7 352,273.1 348,278.1 332.7,308 322,342 317.7,360 194,360Z" fill="#7673b6"/>
<path d="M197.8,78 412,78 412,268 408,266 398,259.4 392,257.3 384,255.9 376,256.3 362,259.3 356,261.4 350,265.3 343.7,272 336.4,284 329.1,300 324,312.9 315.1,328 304.5,348 300.7,356 299.4,360 194,360 194,85.5 196,82.9Z" fill="#5b60ab"/>
<path d="M201.5,78 412,78 412,248.7 392,243.9 388,243.6 382,244.2 376,245.8 366.1,250 356,252.7 350,256.1 346,259.2 337.2,268 326.7,280 323.4,286 320,296.5 316.6,304 314,307.4 305.6,316 294,334.1 278.7,350 277,354 276.6,360 194,360 194,92.1 196,90.3 198.6,86Z" fill="#4956a6"/>
<path d="M205,78 412,78 412,233.4 408,232.5 404,230.9 388,220.6 386,221.3 383.5,226 380,229.3 376,230.9 364.6,234 354,239.3 350,242.9 336,258.3 326,266.3 302,279.2 288,285.9 278,293.8 265.8,300 256.2,310 249.3,316 247.6,318 246,322 246,326 246.5,328 253.6,340 260.1,360 194,360 194,97.4 196,95.9 200.3,90 203.3,84ZM400,165.3 398.5,166 398.7,168 402,170.6 406.1,172 408,171.8 409.4,170 408.3,168 405.5,166Z" fill="#4358a8"/>
<path d="M208.3,78 412,78 412,160.6 402,157.9 396,157.6 394,158.3 392.3,160 391.5,162 391.4,164 393.1,168 398,172.9 404,177.7 412,182.3 412,221.1 406,220.9 400,219.4 396,217.7 390,213.8 386,212.3 382,212.8 373.3,216 369.9,218 364,224.6 352,231.9 344.2,238 339.9,242 330.3,254 324,259.3 296,273.3 280.1,280 270,287.7 257.6,296 253.6,300 244,312 241.8,316 240,324 240.1,328 241,332 247.1,348 250.9,360 194,360 194,101.9 198,98.5 203,92 206.1,86Z" fill="#3e5fae"/>
<path d="M211.4,78 412,78 412,155.3 400,152.7 394,153 392,154 390,156 388.2,160 388,162 388.6,166 391.2,170 405.8,184 412,191.4 412,210.6 406,213.6 400,214.1 396,212.9 388,208.4 384,208 371,212 366.2,214 360,217.9 354.4,224 349.9,228 334,239.6 324,252 319.4,256 314,259.3 294,269.5 278,276.2 253.5,294 248,299.9 240,311.7 238,317.6 236.9,324 236.6,328 237.5,334 244.2,360 194,360 194,105.8 196,104.6 200.6,100 206.7,92 209.5,86Z" fill="#407ac0"/>
<path d="M214.3,78 412,78 412,150.7 400,147.8 394,147.8 390,150.1 388,152.4 386.2,156 385.3,160 385.7,166 387.9,170 396.5,178 403.2,186 405.3,190 406.5,194 406.9,198 405.6,204 404,206.4 402,208 400,208.7 396,208.3 388,205.1 384,205 366.6,210 360,212.8 356,215.7 348.9,224 344.5,228 328.8,238 326,241 319.3,250 314.9,254 308.7,258 292,266.9 275.4,274 248.6,294 244,299.8 238,309.9 236,315.9 234.5,324 234.1,328 234.4,334 238.8,360 194,360 194,109.4 196.3,108 202.6,102 209.1,94 212.8,86Z" fill="#4798d4"/>
<path d="M217.1,78 412,78 412,146.5 396,141.8 392,142.1 390,143.6 386,149.1 383.1,156 382.5,160 382.6,164 384.5,170 386.1,172 394,178.4 398.6,184 401.1,188 402.1,192 402,196 400.7,200 399.2,202 396,203.6 386,202.5 380,203.2 364,207.7 358,210.2 353.1,214 346.6,222 342,226.3 338,228.9 327.9,234 324,236.8 321.2,240 315.6,248 309.2,254 290,265 273.4,272 246.8,292 242,297.9 237.4,306 235,312 232.8,322 231.9,328 231.8,334 234.2,360 194,360 194,112.8 197.9,110 204.3,104 211.2,96 215.2,88Z" fill="#59bce9"/>
<path d="M219.7,78 412,78 412,142.5 402,138.9 392,132.8 390,133 388,135.3 380.5,154 379.7,158 379.7,164 380.4,168 382,171.8 384,174.2 392.4,180 396,184.2 398.3,188 399,190 399,194 397.4,198 396,199.5 392,200.9 384,200.4 378,201.1 364,204.6 356,207.8 350.7,212 344,220.7 340,224.6 336,227.1 324.9,232 320,235.6 311.1,248 306.9,252 290,262.3 275.8,268 270,271 247.9,288 243.4,292 238.9,298 235.8,304 233.1,312 230.3,326 229.6,332 229.3,342 230,360 194,360 194,116 198,113.1 207.8,104 214.6,96 216.8,92 218.2,88Z" fill="#71cbde"/>
<path d="M222.1,78 412,78 412,138.6 408,137.3 402,134.3 399.2,132 394,125.1 392,124.1 390,124.1 386.9,126 384.4,130 382,140 376.9,154 376.3,162 377,168 378.2,172 380.7,176 390,181.4 394,185.3 395.8,188 396.7,192 396.4,194 395.5,196 394,197.7 390,198.7 382,198.2 374,199 362,201.9 354,205.2 348.2,210 341.1,220 338,223 334,225.2 322.5,230 318,233.1 314,237.7 308,246.7 302.4,252 288,261 274,266.3 268,269.3 246,286.6 240.2,292 237.3,296 234.3,302 232.3,308 227.5,332 226.5,344 226.1,360 194,360 194,119 196,117.8 209.2,106 216.6,98 219,94 220.5,90Z" fill="#82cdca"/>
<path d="M224.4,78 412,78 412,134.8 408,133.4 404,131 397.6,124 394,121.3 392,120.7 388,120.6 384.5,122 382.1,124 379.8,128 378.9,136 378,139.5 372.7,152 372.1,158 373.1,168 374.8,174 377.1,178 380,180.4 388,183.8 391,186 393.9,190 394.3,192 393.9,194 392,196 390,196.4 378,195.3 370,196.3 358,199.5 352,202.1 348,205 345.1,208 340,216.8 337.5,220 334,222.4 320.5,228 314.9,232 311.4,236 304.8,246 298.4,252 288,258.7 272,264.7 266,267.7 242,286.9 238.6,290 235.6,294 233.4,298 231.3,304 224.7,336 222.3,360 194,360 194,122 196,120.8 212.5,106 219.8,98 222,94 223.2,90Z" fill="#82cdc2"/>
<path d="M226.6,78 412,78 412,131.1 406,128.2 396.2,120 390,117.7 386,117.5 382,118.4 378.3,120 373.1,124 372.1,126 371.8,128 372.6,134 372.3,138 368,150 367.3,154 367.3,162 368.5,170 372,179.2 376,185 380,187.6 384.1,188 388,189.5 388.6,190 388.7,192 387.1,192 380,189.3 378,189.2 354,195.9 348,198.9 344,202.2 340.9,206 336.7,216 335.1,218 332,220.1 320,225.2 313,230 309.3,234 301.3,246 294.8,252 285,258 270,263.3 264,266.1 252,275.2 238,286.8 233.6,292 230,300.2 227.5,316 221.6,340 218.6,360 194,360 194,125 196,123.7 215.7,106 222,99.2 224,95.8 225.8,90Z" fill="#79c9b3"/>
<path d="M228.6,78 412,78 412,127.5 408,125.8 396,117.6 392,115.8 386,114.3 380,114.1 376,114.8 372,116.4 367.3,120 365.7,122 364.5,126 366.3,138 362,158 361.4,170 362.5,180 362.2,182 361.1,184 358,185.9 354,186.9 350,188.8 342,195.9 338,200 335.1,204 333.1,212 332.3,214 330.7,216 318,223.2 310,229.1 306,233.8 299.7,244 292,251.6 284,256.5 267.5,262 262,264.6 248,273.8 241.9,280 233.5,286 230.8,290 227.8,298 226,316 219.6,338 214.9,360 194,360 194,127.9 218.8,106 224.4,100 226.7,96 227.9,92Z" fill="#68c29d"/>
<path d="M230.6,78 412,78 412,124.1 408,122.5 392,113.4 382,109.8 378,109.2 374,109.5 370,111.4 366,115.1 362.3,120 360.4,124 360.4,128 362.2,136 362.2,140 355.1,166 353,170 345.5,178 339.2,190 331.5,200 329.4,204 326,212.7 323,216 307.2,228 304,232 299.4,240 295,246 290.9,250 286,253.4 280,256.2 262,262 252,267.7 248,268.3 246,267.9 240,264.8 236,265.5 233.1,268 227.6,278 224.3,298 224.9,310 224.4,316 216.4,340 211.1,360 194,360 194,130.9 221.8,106 227.3,100 229.3,96 230.2,92Z" fill="#53bb87"/>
<path d="M232.5,78 412,78 412,120.9 402,116.6 386,107.1 378,103.4 372,102.2 370,102.6 368,104.1 358.7,120 357,124 357.2,128 359.1,136 359.1,140 357.7,146 351.1,164 348.5,168 340.2,178 333.4,190 326.7,200 320.1,212 316.6,216 304,227.5 295.3,242 292.2,246 287.9,250 282,253.5 276,255.8 262,259.7 252,264.5 248,264.3 242,261.5 236,260.8 232,261.5 228,263.1 224,265.8 221.9,268 219,274 218.4,280 218.8,294 222,304.4 223,310 223.1,314 222.2,318 213.6,340 207.1,360 194,360 194,133.9 210,118.5 224.7,106 230,100 231.8,96 232.5,92Z" fill="#3bb371"/>
<path d="M234.3,78 348.3,78 343.5,88 343,92 343.4,94 346,96.5 356,100.3 358,102 360,106 359.7,112 354.4,124 354.6,128 356.5,136 356.4,140 354.8,146 350.9,156 346.9,164 335.9,178 327.6,192 312.8,214 301.4,226 292.7,242 287.4,248 284,250.5 278,253.4 262,257.7 252,261.5 248,261.2 242,258.9 238,258 230.6,258 226,259 222,260.5 218,263.1 215.2,266 213.1,270 212.2,274 212.4,284 214.6,296 218.9,304 220.4,308 221.1,312 220.8,316 208.9,344 202.9,360 194,360 194,137 208.7,122 227.5,106 231.3,102 233.5,98 234.4,94ZM369.6,78 412,78 412,117.7 404,115 398.1,112 381.1,98 377.5,94 374.9,90Z" fill="#32b060"/>
<path d="M236,78 342.9,78 339.1,90 338.7,94 339.8,98 342.2,100 352.3,104 354.7,106 356.4,110 356,114 353.4,120 352.3,124 352.5,128 354.1,136 354,140 351.2,148 344.3,162 332,178 319.5,198 300,222.3 296.7,228 291.3,240 288.6,244 286,246.7 281.4,250 276,252.4 252,258.8 248,258.4 240,256 234,255 228,254.8 222,255.6 214,258.7 210,261.9 208.4,264 206.6,268 205.9,272 206.9,282 211.1,296 217.6,308 218.7,314 217,320 205.3,344 198.3,360 194,360 194,140.2 211.1,122 230.2,106 233.9,102 235.8,98 236.4,94ZM379.2,78 412,78 412,114.4 404,112.2 400,110.2 391.5,102 384.3,92 381.6,86Z" fill="#3db257"/>
<path d="M237.6,78 339.5,78 336.4,90 336,94 336.5,98 337.4,100 339.5,102 348,105.8 351.1,108 352.6,110 353.1,112 350.3,124 350.4,128 351.9,136 351.6,140 346.5,152 339.1,164 327.1,180 317.2,196 304,210 298,218.5 294.9,224 288.7,240 284,246 280,248.8 274,251.4 252,256.2 248,255.9 236,252.7 230,251.7 224,251.4 217.2,252 212,253.3 208,254.9 204,257.5 201.7,260 200.5,262 199.2,266 199,270 199.9,276 205,290 214.4,308 215.8,314 214.9,318 212,324.3 198,350.2 194,356.2 194,143.5 211.4,124 220,116.2 232.8,106 236.3,102 237.3,100 238.2,96ZM386.8,78 412,78 412,110.8 408,110 403.1,108 400,105.7 396.7,102 390.8,92 388.6,86Z" fill="#47b450"/>
<path d="M239.2,78 336.9,78 334.4,90 334.4,98 336.1,102 338.5,104 345.7,108 347.9,110 349.2,112 349.6,114 348.3,126 349.8,136 349.2,140 344,151.2 339.1,158 334.5,166 320.8,184 315.2,194 310,199.9 300.7,208 296.2,214 291.7,222 287.7,236 286,240 283.1,244 280.9,246 277.9,248 272,250.3 252,253.8 246,253.2 230,248.6 220,247.5 206,248.5 194,251.9 194,147.1 206.1,132 213.6,124 222,116.4 235.2,106 238.6,102 239.5,100 240.1,96ZM394,78 412,78 412,106.2 405.8,104 403.2,102 400.1,98 398,94 396,88.5ZM194,280 196,282.4 208,302.4 211.5,310 212.1,314 211.4,318 208,325.1 198,341.9 194,347.1Z" fill="#4cb64e"/>
<path d="M240.7,78 334.6,78 332.7,92 333.3,100 334.1,102 336,104.2 343.7,110 345.2,112 346.3,116 346.3,128 347.2,134 347.2,138 343,148 340.3,152 336.6,156 331.5,166 318,183.1 312.2,194 308,198.5 296.7,208 289.7,218 287.1,224 285,236 282,242 277.7,246 272,248.6 252,251.6 246,251 232,246.1 224,244.1 194,240.6 194,151 205,136 213.7,126 222.2,118 237.6,106 240,103.2 241.8,98ZM401.9,78 412,78 412,99 410,98.2 408,96.6 405,92 403,86ZM194,290 198,294.1 204,302.3 206.7,308 207.9,314 207.1,318 204.4,324 198,334.2 194,338.9Z" fill="#51b84c"/>
<path d="M242.1,78 332.7,78 331.3,90 331.9,100 334,104 340.6,110 342,112 343.4,116 344.7,136 343.9,140 341.5,146 340,148.4 334.5,154 330.2,164 322,174.8 315.6,182 311.9,190 309.4,194 305.5,198 295.4,206 285.8,218 283.5,224 282.2,236 280,240.8 277.1,244 274,246 268,247.7 252,249.2 246,248.7 230,242.1 206,236.5 194,231.7 194,155.3 205.7,138 213.8,128 222,119.9 237.6,108 241.5,104 242.7,102 243.5,98 242.3,86ZM194,298 196.5,300 200,304.7 202.2,310 202.6,314 201.9,318 200.2,322 196,328.6 194,330.5Z" fill="#54b94b"/>
<path d="M243.6,78 331,78 330,90 330.9,100 332.8,104 339.7,112 341,116 342.4,134 341.5,140 339,146 333.3,152 329,162 323.4,170 320,174.3 314,180.3 309.5,190 306.8,194 302.8,198 294,204.8 282.3,218 280.5,222 279.8,234 277.6,240 276,242 273.4,244 268,245.7 252,246.8 246,246.1 232,239.2 213.9,234 206,231.1 200.3,228 194,223.3 194,160.2 204.9,142 215.8,128 223.9,120 239.7,108 243.5,104 244.5,102 245.2,98 243.7,86ZM194,310 195,314 194,317.7Z" fill="#51b749"/>
<path d="M244.9,78 329.4,78 328.8,90 329.8,100 331.7,104 338,112 339.3,116 339.3,122 340.6,130 340.7,134 339.8,140 338.2,144 332,151.1 328.2,160 321.6,170 311.9,180 307.3,190 304.5,194 302,196.6 292.5,204 279,218 277.2,222 276.9,234 275.7,238 274.4,240 272,242.1 266,243.9 254,244 248,243.3 236,236.9 214,229.8 208,227 203.3,224 200,221.2 194,214.5 194,166.2 204.5,146 214.2,132 224,121.5 241.7,108 245.2,104 246.2,102 246.7,98 245.2,88Z" fill="#4eb547"/>
<path d="M246.3,78 327.9,78 327.7,90 328.9,100 330.8,104 336.8,112 337.9,116 338,122.3 339.3,130 339.4,134 338.4,140 336.5,144 331.4,150 326.6,160 321.4,168 318,172.1 312,177.4 310.1,180 305.3,190 302.4,194 292.5,202 275.7,218 273.8,222 274.1,232 273.3,236 272.2,238 270.1,240 266,241.4 260,241.6 252,240.2 242,234.7 222,228.8 212,224.6 206,220.6 201.3,216 198.4,212 194,203.8 194,174.7 199.6,160 207.7,144 217.7,130 226,121.3 242,109.3 246.8,104 248.2,100 246.4,88Z" fill="#4eb547"/>
<path d="M247.6,78 326.6,78 326.5,88 328.1,100 329.9,104 335.7,112 337,116 337.3,124 338.3,132 337.7,138 336.3,142 330.2,150 326.5,158 320,167.9 309.8,178 302,192.2 298.2,196 290.4,202 282,210 271.9,218 270.7,220 270.3,222 271.2,230 270.6,234 268,237.5 264,238.9 260,238.8 256,237.7 253.1,236 248,231.3 234,228.8 226,226.7 218,223.6 211.6,220 204.8,214 200.7,208 197.5,200 196.1,192 195.9,186 196.4,180 199.1,168 203.5,156 209.6,144 216.2,134 222.9,126 231.7,118 244,109.1 247,106 249.2,102 249.5,98 247.5,86Z" fill="#5eba4d"/>
<path d="M248.9,78 325.2,78 325.4,88 326.7,98 328,102 333.6,110 335.6,114 337.3,130 337.2,136 335.2,142 330,148.9 325.3,158 320,166.1 316.8,170 308.3,178 301.8,190 298.5,194 290.6,200 280,209.6 267.6,218 266.6,220 268.1,228 267.7,232 266,234.5 264,235.6 262,235.9 260,235.7 256.5,234 252,229 250,227.6 230,224.7 222,221.9 214,217.4 208,212.1 203.7,206 200.5,198 199.1,190 199.2,180 201.4,168 206.4,154 212.6,142 217.9,134 224.5,126 232,119 244.6,110 248.3,106 250.6,102 250.8,98 248.8,88Z" fill="#6ebe53"/>
<path d="M250.3,78 324,78 324.3,88 325.9,98 327.2,102 332.9,110 334.7,114 336.4,130 336.3,136 335.1,140 329.7,148 325.4,156 318.9,166 306.9,178 300.2,190 298,192.6 290,198.8 280,207.7 265.9,216 263.7,218 262.8,220 262.9,222 264.9,228 264,230.8 262,232.1 260,231.9 258,230.7 254,226.3 252,225.1 248,224.2 236,223.1 230,221.8 222,218.6 216,214.9 210.6,210 206.4,204 203.2,196 201.8,188 201.9,178 204.2,166 208.4,154 214.4,142 219.6,134 226.1,126 234,118.7 246.1,110 249.6,106 251.9,102 252.3,100 249.9,88Z" fill="#85c655"/>
<path d="M251.5,78 322.8,78 323.3,88 325.6,100 327.7,104 333.2,112 334.5,116 335.7,132 335.4,136 334.1,140 324,156.7 317.7,166 305.5,178 298,190.6 280,205.9 262.7,216 258,221.5 256,222.3 240,221.2 234,220.1 226,217.4 218,212.7 212,206.7 207.9,200 205.2,192 204.3,184 204.8,174 207.5,162 211.1,152 217.3,140 222.6,132 227.5,126 233.9,120 247.4,110 253.1,102 253.5,100 251.4,92 251,88Z" fill="#a0ce55"/>
<path d="M252.8,78 321.6,78 322.3,88 324.8,100 327,104 331.5,110 333.3,114 334.9,132 334.6,136 333.2,140 319.5,162 316,166.7 304.1,178 298.1,188 296,190.6 280,204.1 276,206.9 262.8,214 256,218.7 252,219.6 248,219.6 238,218.6 230,216.3 222,212.1 217.1,208 212.3,202 208.7,194 207,186 206.8,178 208,168 210.7,158 215.7,146 221.3,136 225.6,130 230.9,124 236,119.5 248,110.6 254.2,102 254.7,100 252.4,92 252.1,88Z" fill="#bbd44f"/>
<path d="M254.1,78 320.5,78 321.4,88 324,100 330.9,110 333.1,116 334.1,134 333.2,138 331.3,142 318,162.8 314,167.4 302.7,178 296.4,188 294.5,190 280,202.3 274,206.4 256,216.3 252,217.4 246,217.5 238,216.3 230,213.7 223.6,210 218,204.9 214,199.3 210.9,192 209.4,184 209.2,176 210.5,166 213.3,156 217.4,146 222.8,136 227,130 232.2,124 236.7,120 248,111.8 255.2,102 255.7,100 253.2,90Z" fill="#d6da41"/>
<path d="M255.5,78 319.4,78 320.4,88 323.3,100 324.2,102 330.3,110 332,114 332.8,118 333.5,132 333,136 330.5,142 318,161.4 314,166.3 302,177.3 294,188.4 278.1,202 274,204.8 256,214.4 252,215.5 246,215.6 238,214.2 230,211.1 224,207.1 219.1,202 215.3,196 213.1,190 211.6,182 211.5,174 212.6,166 215.1,156 219,146 224.3,136 228.3,130 233.5,124 238,120 248.8,112 256.1,102 256.6,100 256.3,98 254.8,94 254.2,90Z" fill="#e9d432"/>
<path d="M256.8,78 318.3,78 319.5,88 322.5,100 323.5,102 329.7,110 331.4,114 332.3,120 332.8,132 331.6,138 329.8,142 316.6,162 313.1,166 301.8,176 292.2,188 276,201.8 264,209 254,213.4 246,213.8 238,212.1 232,209.5 226,205.5 220.8,200 217.3,194 215.1,188 213.8,180 213.8,172 215.3,162 218.2,152 222.4,142 226.9,134 231.2,128 234.8,124 249.9,112 256.9,102 257.5,100 257.2,98 255.8,94 255.2,90 255.4,86Z" fill="#f5c722"/>
<path d="M258.1,78 317.3,78 318.6,88 321.8,100 322.8,102 329.1,110 330.9,114 331.8,120 332.1,132 330.9,138 329.1,142 316,161.5 312,165.9 300.6,176 292,186.2 275.9,200 264,207.7 256,211.3 252,212.1 248,212.2 240,210.7 233.7,208 227.9,204 222.5,198 219.1,192 217.1,186 215.9,178 216,170 217.2,162 219.9,152 223.9,142 228.2,134 232.4,128 236,124 250,112.9 257.7,102 258.3,100 258.1,98 256.7,94 256.2,90Z" fill="#f8ba1e"/>
<path d="M259.5,78 316.3,78 317.7,88 321.2,100 322.1,102 328.6,110 330.3,114 331.2,120 331.5,132 330.8,136 328.4,142 324,149.1 316,160.2 312,164.9 300,175.4 292,184.3 273.6,200 262,207.6 258,209.4 254,210.4 248,210.5 242,209.3 234.5,206 229.1,202 224.1,196 220.9,190 219.1,184 218,176 218.2,168 219.4,160 222.1,150 225.3,142 229.4,134 233.5,128 237.1,124 250,113.9 258.4,102 258.9,98 257.7,94 257.3,90 257.6,86Z" fill="#faae19"/>
<path d="M260.9,78 315.3,78 316.8,88 320.6,100 322,102.7 328.1,110 329.8,114 330.6,120 330.9,132 329.6,138 326.6,144 316,158.9 311.8,164 300.2,174 292,182.5 271.3,200 260,207.3 256,208.6 250,209.1 244,208 238,205.6 232,201.5 226.9,196 223.5,190 221,182 220.1,174 220.3,166 221.5,158 223.7,150 226.7,142 230.7,134 234.7,128 238.2,124 250.8,114 259,102 259.6,98 258.3,90 258.8,86Z" fill="#f7a11b"/>
<path d="M262.4,78 314.2,78 316,88.2 320,100 322,103.5 327.5,110 329.2,114 330.1,120 330.2,132 329,138 326,144 314.3,160 310.7,164 300,173.1 292,180.9 271.7,198 264,203.7 258,206.8 254,207.5 250,207.5 244,206.1 238,203.3 233.6,200 228.4,194 225.2,188 222.9,180 222,172 222.3,164 223.6,156 225.8,148 228.9,140 233,132 239.3,124 251.6,114 259.6,102 260.3,98 259.3,90 260,85.9Z" fill="#f3951c"/>
<path d="M263.9,78 313.2,78 315.7,90 320,101.3 327,110 328.7,114 329.5,120 329.7,132 328.4,138 325.3,144 314,159.1 310,163.6 292,179.5 285.8,184 264.3,202 258,205.5 252,206.1 246,204.9 239.8,202 234.7,198 229.9,192 226.9,186 224.7,178 224,170 224.3,162 225.7,154 227.9,146 231,138 234.1,132 240.3,124 252,114.5 260.2,102 260.9,98 260.3,92 260.7,88Z" fill="#f0881e"/>
<path d="M265.5,78 312.2,78 314.9,90 319.8,102 326.5,110 328.2,114 329,120 329.1,132 327.8,138 324.7,144 312.3,160 308.4,164 294,176.5 283.6,184 268,197.6 262.2,202 258,204.1 252,204.5 246,203 240.5,200 235.8,196 231.4,190 228.6,184 226.5,176 225.8,168 226.2,160 229.3,146 232.2,138 235.2,132 241.3,124 252,115.3 260.7,102 261.6,98 261.3,92 261.8,88Z" fill="#e87a21"/>
<path d="M267.2,78 311.2,78 314.1,90 319.3,102 326,110 327.7,114 328.4,120 328.5,132 327.2,138 324.1,144 312,159.2 308,163.4 292,176.9 281.5,184 262,200.5 258,202.5 252,202.8 246,200.9 241.3,198 237,194 232.9,188 230.3,182 228.3,174 227.6,166 228.1,158 231.3,144 236.3,132 238.8,128 242.3,124 252.2,116 261.3,102 262.2,98 262.5,90Z" fill="#e06d24"/>
<path d="M268.9,78 310.1,78 313.4,90 318.8,102 325.5,110 327.2,114 327.9,120 328,132 326.7,138 324,143.1 308,162.4 292,175.7 284,180.6 274.5,188 264,197.4 258,200.8 254,201.2 248,199.6 242.3,196 238,191.5 234.5,186 231.9,180 230,172 229.4,164 229.9,156 233.2,142 235.4,136 238.4,130 243.2,124 252.9,116 261.8,102 262.9,98 263.2,92 264,88.7Z" fill="#d76028"/>
<path d="M270.7,78 309,78 312.7,90 318.3,102 325,110 326.7,114 327.5,126 327.2,134 325.2,140 322.7,144 307.3,162 292,174.6 282.8,180 274.9,186 264,195.7 258,198.9 254,199.2 249.5,198 244,194.5 239.8,190 236,183.9 233.6,178 231.7,170 231.1,162 231.7,154 234.4,142 238.2,132 240.7,128 244.1,124 253.6,116 257,110 261.3,104 263.1,100 264.8,90Z" fill="#de5027"/>
<path d="M272.5,78 307.8,78 311.9,90 317.8,102 324.4,110 326,113.5 326.9,120 326.6,134 324.6,140 322,144 306,162.1 292,173.6 283.9,178 272.9,186 264,193.8 258,196.8 254,197 250,195.7 244.8,192 240,186.1 236.7,180 234.6,174 233,166 232.7,160 233.4,152 236.2,140 239.2,132 241.6,128 245,124 254.2,116 257.5,110 261.9,104 263.7,100 266,89.8Z" fill="#e64026"/>
<path d="M274.5,78 306.6,78 312.1,92 317.3,102 323.9,110 325,112 326.3,118 326.1,134 325,138 322,143.1 309.1,158 304,162.9 292,172.6 282,178.1 270.7,186 262,193 258,194.5 254,194.5 250,192.8 246,189.5 241.6,184 238,177.3 235.5,170 234.5,164 234.3,158 235.1,150 237.9,138 241.2,130 245.8,124 254.8,116 258,110.1 263.5,102 266.2,92Z" fill="#ea3025"/>
<path d="M276.4,78 305.3,78 308.3,84 311.3,92 316.8,102 324.5,112 325.7,118 325.6,134 324.4,138 322,142.2 308.1,158 303.8,162 292,171.6 280.3,178 263.2,190 260,191.6 256,192 251,190 246.5,186 242,180 238.9,174 237,168 236,162 235.8,156 236.8,148 239.5,136 242.1,130 246.7,124 255.4,116 258,111 264.1,102 268,90.7Z" fill="#ec2024"/>
<path d="M278.4,78 303.9,78 308,85.4 310.6,92 316.3,102 324,112 325.2,118 325,134 323.9,138 320,143.7 306,159 294,169.1 290,171.9 281.9,176 262,188 258,188.9 256,188.7 252,186.8 246,181.2 242,175.4 239.5,170 237.9,164 237.3,156 239.5,140 241.1,134 244.1,128 247.5,124 254,118.3 256,116 258,111.8 264.8,102 268,92.8Z" fill="#e81d25"/>
<path d="M280.5,78 302.3,78 306,83.6 309.9,92 317,104 322.3,110 323.4,112 324.7,118 324.5,134 323.3,138 320,142.8 305.9,158 294,168.1 288.3,172 270,181.7 262,185.1 258,185.4 254,184 248,179.5 244,174.6 240.7,168 239.2,162 238.7,156 241,138 242.8,132 244.9,128 248.3,124 256,116.7 258.4,112 265.4,102 268.5,94 274,87.7Z" fill="#e11e26"/>
<path d="M282.8,78 300.4,78 304,82.5 309.1,92 316.5,104 321.8,110 322.9,112 324.2,118 323.9,134 322.7,138 320,142 304.8,158 292,168.7 288,171.2 270,180.2 264,182 258,181.8 252,179.2 248,176 244.8,172 241.9,166 240.4,160 240.1,154 242.4,136 243.6,132 245.7,128 249,124 256,117.5 260,110.4 264.9,104 269.6,94 275.8,88Z" fill="#da1f27"/>
<path d="M285.4,78 298.1,78 304,84.3 316,104 322.4,112 323.6,118 323.3,134 322.1,138 319.1,142 304,157.7 291.6,168 286,171.4 270,178.9 264,180 260,179.5 254,177.4 250,174.9 246,170.4 243.7,166 242,160.7 241.4,156 243.4,136 244.5,132 246.5,128 249.8,124 256.2,118 260,111.3 265.6,104 270,95 276.3,90 280.1,84Z" fill="#d8212d"/>
<path d="M286.1,80 289.6,78 294.2,78 300,81.6 304,86.2 315.4,104 320.6,110 322.5,114 323,118 323.1,130 322.3,136 320,140.1 304.6,156 290,168.2 276,175.2 270,177.5 264,178.2 260,177.3 254,175 250,172.2 246.6,168 244,162.4 242.9,158 242.7,154 244.7,134 247.3,128 250.6,124 256.8,118 260.1,112 266.3,104 270,96.5 272,94.4 276.3,92 278,90.3 282,83.7Z" fill="#da2237"/>
<path d="M291.2,80 296,80.7 300,83.1 302,85.2 314.8,104 321.2,112 322.3,116 322.5,120 322.4,132 321.6,136 319.2,140 304,155.4 288.8,168 276,174.2 270,176.3 266,176.7 260,175.5 254,172.9 250.3,170 247.3,166 244.7,160 244.1,156 244.1,152 245.2,136 246.1,132 249.5,126 257.4,118 260.8,112 267.1,104 270,98.1 271.7,96 278.5,92 284,83.5 288,80.7Z" fill="#dc2341"/>
<path d="M289.1,82 294,81.6 298,83.2 300,84.7 310,97.6 314.2,104 320,110.9 321.3,114 321.9,118 321.7,132 320.9,136 318,140.4 311.8,146 304,154.3 288,167.6 272,174.6 266,175.3 262,174.5 256,172.2 252,169.4 249.1,166 246.2,160 245.2,154 246.2,144 246.1,136 247,132 250.3,126 258,118 261.5,112 266.5,106 271.1,98 274,95.6 278.1,94 280.1,92 284,85.4 286,83.5Z" fill="#e64654"/>
<path d="M287.9,84 290,83.2 294,83 298,84.6 300,86.2 320,112 321.1,116 321.2,120 321,132 320.2,136 318,139.3 310.6,146 302,155 288,166.6 284,168.8 272,173.5 268,174 262,173 256,170.4 252.8,168 250,164.6 247.6,160 246.4,154 247.4,144 247.1,136 247.8,132 249.6,128 258.7,118 262,112.3 267.3,106 272,98.1 280,94 284,87.4Z" fill="#ee6d67"/>
<path d="M287.2,86 290,84.6 292,84.3 296,85 298,86 302,89.8 312.8,104 318.1,110 320,113.8 320.4,116 320,134 318.1,138 316.2,140 310,145.4 300,155.6 287.3,166 282,168.7 272,172.3 268,172.7 264,172.1 258.3,170 255,168 252,165 249,160 247.6,154 248.6,146 248,136 248.6,132 251.8,126 259.4,118 262,113.4 268.2,106 272,99.5 274,97.8 280,95.3 281.4,94 285.1,88Z" fill="#f59578"/>
<path d="M290.5,86 294,85.8 296,86.4 300,89 318.6,112 319.9,118 319.1,134 317,138 310,144.2 302,152.5 286,165.7 281.2,168 272,171.1 268,171.3 262,170 257.6,168 254,165.2 251.5,162 249.5,158 248.8,154 249.9,146 248.9,136 249.5,132 252.6,126 258.6,120 262.4,114 269.1,106 272.8,100 274,98.9 280.8,96 286,88.7 288,87.1Z" fill="#f8ad85"/>
<path d="M289.2,88 292,87.2 294,87.2 298,88.8 300,90.4 317.8,112 319,118 318.2,134 315.8,138 308.8,144 302,151.1 286,164.5 282,166.6 272,169.8 268,170 262,168.5 256,165.2 253.1,162 250.8,158 249.9,154 251.1,146 249.9,136 250.4,132 253.5,126 259.5,120 263.5,114 268.7,108 274,100.1 280,97.7 282,96.4 286,90.7Z" fill="#fcc494"/>
</g></g>
<use href="#land"/><use href="#dots"/><use href="#frame"/><use href="#axis"/>
<polygon points="450.0,61.7 461.8,56.2 473.6,61.7 473.6,402.9 461.8,408.4 450.0,402.9" fill="url(#gmn)" stroke="#444" stroke-width="0.6" stroke-linejoin="miter"/>
<g font-family="Liberation Serif, serif" font-size="27.4" fill="#000" stroke="none">
<text transform="translate(483.20,70.80) scale(1,1.05)">30</text>
<path d="M450.0,118.6h4.6M473.6,118.6h-5" stroke="#333" stroke-width="0.9" fill="none"/>
<text transform="translate(483.20,127.67) scale(1,1.05)">25</text>
<path d="M450.0,175.4h4.6M473.6,175.4h-5" stroke="#333" stroke-width="0.9" fill="none"/>
<text transform="translate(483.20,184.53) scale(1,1.05)">20</text>
<path d="M450.0,232.3h4.6M473.6,232.3h-5" stroke="#333" stroke-width="0.9" fill="none"/>
<text transform="translate(483.20,241.40) scale(1,1.05)">15</text>
<path d="M450.0,289.2h4.6M473.6,289.2h-5" stroke="#333" stroke-width="0.9" fill="none"/>
<text transform="translate(483.20,298.27) scale(1,1.05)">10</text>
<path d="M450.0,346.0h4.6M473.6,346.0h-5" stroke="#333" stroke-width="0.9" fill="none"/>
<text transform="translate(483.20,355.13) scale(1,1.05)">5</text>
<text transform="translate(483.20,412.00) scale(1,1.05)">0</text>
</g>
<text x="380.0" y="375.5" font-family="Liberation Sans, sans-serif" font-weight="bold" font-size="30.4">H</text>
</g>
<g font-family="Liberation Serif, serif" font-size="38.1" fill="#000">
<text transform="translate(0.00,29.80) scale(1,1.06)" dx="0 2.4">Temperature [</text>
<circle cx="224.3" cy="4.9" r="2.7" fill="none" stroke="#000" stroke-width="0.9"/>
<text transform="translate(226.30,29.80) scale(0.95,1.06)" font-size="39">C</text>
<text transform="translate(255.00,29.80) scale(1,1.06)" font-size="38.24">] @ Depth [m]=first</text>
<text transform="translate(626.90,27.80) scale(1,1.06)" dx="0 2.4">Temperature [</text>
<circle cx="851.2" cy="2.9" r="2.7" fill="none" stroke="#000" stroke-width="0.9"/>
<text transform="translate(853.20,27.80) scale(0.95,1.06)" font-size="39">C</text>
<text transform="translate(881.90,27.80) scale(1,1.06)" font-size="38.24">] @ Depth [m]=last</text>
<text transform="translate(103.80,503.10) scale(1,1.06)" textLength="414.6" lengthAdjust="spacing">Salinity @ Depth [m]=first</text>
<text transform="translate(710.00,498.30) scale(1,1.06)" textLength="406.6" lengthAdjust="spacing">Salinity @ Depth [m]=last</text>
<text transform="translate(97.40,975.80) scale(1,1.06)" textLength="456.6" lengthAdjust="spacing">DO [mg/l] @ Depth [m]=first</text>
<text transform="translate(694.00,975.80) scale(1,1.06)" textLength="446.7" lengthAdjust="spacing">DO [mg/l] @ Depth [m]=last</text>
<text transform="translate(98.60,1439.80) scale(1,1.06)" textLength="440.1" lengthAdjust="spacing">Mn [nM] @ Depth [m]=first</text>
<text transform="translate(695.40,1439.80) scale(1,1.06)" textLength="430.5" lengthAdjust="spacing">Mn [nM] @ Depth [m]=last</text>
</g>
</svg></body></html>
